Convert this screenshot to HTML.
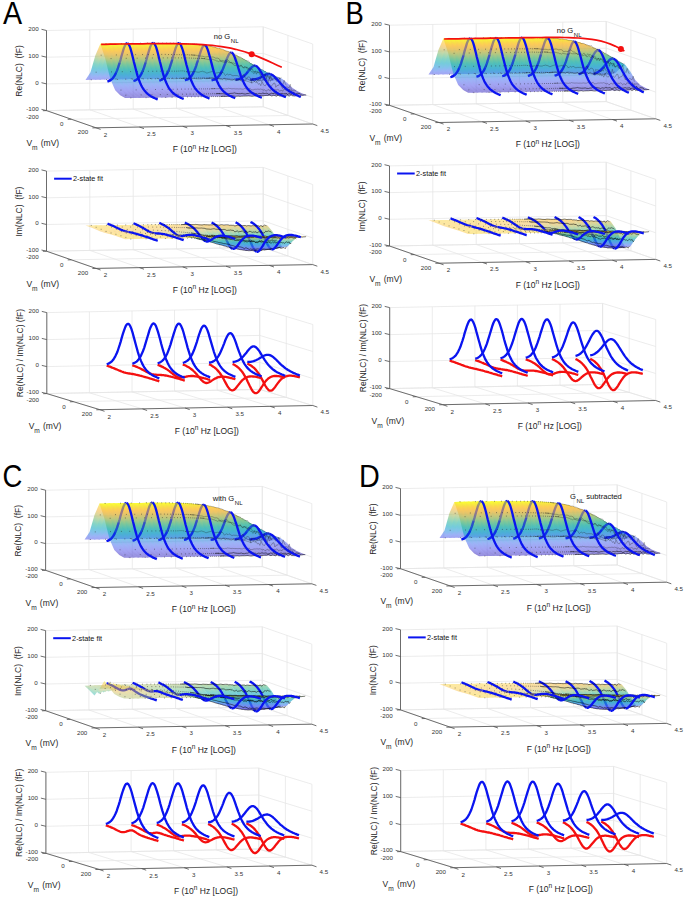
<!DOCTYPE html>
<html><head><meta charset="utf-8"><title>NLC figure</title>
<style>html,body{margin:0;padding:0;background:#fff;}body{width:685px;height:898px;overflow:hidden;font-family:"Liberation Sans",sans-serif;}svg{display:block;}</style>
</head><body>
<svg width="685" height="898" viewBox="0 0 6850 8980" font-family="Liberation Sans, sans-serif"><style>.gr{stroke:#e5e5e5;stroke-width:7.5;fill:none}
.ax{stroke:#555;stroke-width:8.5;fill:none}
.tk{font-size:62px;fill:#333}
.al{font-size:85px;fill:#262626}
.an{font-size:76px;fill:#111}
.lg{font-size:73px;fill:#111}
.bl{stroke:#0a14f0;stroke-width:23;fill:none;stroke-linejoin:round}
.rd{stroke:#f41010;stroke-width:23;fill:none;stroke-linejoin:round}
.rl{stroke:#f41010;stroke-width:17;fill:none}
.dt{stroke:#222;stroke-width:8;stroke-linecap:round;fill:none;opacity:.65}
.dl{stroke:#111;stroke-width:5;fill:none;opacity:.55}
.dk{stroke:#000;stroke-width:6;fill:none;opacity:.85}
.pl{font-size:305px;fill:#000}</style><defs><linearGradient id="pb" gradientUnits="userSpaceOnUse"><stop offset="0" stop-color="#4c3dbf"/><stop offset="0.1" stop-color="#6666eb"/><stop offset="0.2" stop-color="#5c80f2"/><stop offset="0.3" stop-color="#3399e0"/><stop offset="0.4" stop-color="#1aabc4"/><stop offset="0.5" stop-color="#33b8a3"/><stop offset="0.6" stop-color="#73bf80"/><stop offset="0.7" stop-color="#b8bd63"/><stop offset="0.8" stop-color="#edba4a"/><stop offset="0.87" stop-color="#fec238"/><stop offset="0.93" stop-color="#f7db24"/><stop offset="1" stop-color="#f9fb0e"/></linearGradient>
<linearGradient id="q1" href="#pb" x1="834" y1="832" x2="977" y2="420"/>
<linearGradient id="q2" href="#pb" x1="880" y1="831" x2="1023" y2="420"/>
<linearGradient id="q3" href="#pb" x1="925" y1="830" x2="1068" y2="419"/>
<linearGradient id="q4" href="#pb" x1="971" y1="829" x2="1114" y2="418"/>
<linearGradient id="q5" href="#pb" x1="1016" y1="829" x2="1159" y2="417"/>
<linearGradient id="q6" href="#pb" x1="1062" y1="828" x2="1205" y2="417"/>
<linearGradient id="q7" href="#pb" x1="1107" y1="827" x2="1250" y2="416"/>
<linearGradient id="q8" href="#pb" x1="1153" y1="826" x2="1296" y2="415"/>
<linearGradient id="q9" href="#pb" x1="1198" y1="826" x2="1341" y2="414"/>
<linearGradient id="q10" href="#pb" x1="1244" y1="825" x2="1387" y2="413"/>
<linearGradient id="q11" href="#pb" x1="1289" y1="824" x2="1432" y2="413"/>
<linearGradient id="q12" href="#pb" x1="1335" y1="823" x2="1478" y2="412"/>
<linearGradient id="q13" href="#pb" x1="1380" y1="822" x2="1523" y2="411"/>
<linearGradient id="q14" href="#pb" x1="1426" y1="822" x2="1569" y2="410"/>
<linearGradient id="q15" href="#pb" x1="1471" y1="821" x2="1614" y2="409"/>
<linearGradient id="q16" href="#pb" x1="1517" y1="820" x2="1660" y2="409"/>
<linearGradient id="q17" href="#pb" x1="1562" y1="819" x2="1705" y2="408"/>
<linearGradient id="q18" href="#pb" x1="1608" y1="818" x2="1751" y2="407"/>
<linearGradient id="q19" href="#pb" x1="1653" y1="818" x2="1796" y2="406"/>
<linearGradient id="q20" href="#pb" x1="1699" y1="817" x2="1842" y2="406"/>
<linearGradient id="q21" href="#pb" x1="1744" y1="816" x2="1887" y2="405"/>
<linearGradient id="q22" href="#pb" x1="1790" y1="815" x2="1933" y2="404"/>
<linearGradient id="q23" href="#pb" x1="1835" y1="814" x2="1978" y2="403"/>
<linearGradient id="q24" href="#pb" x1="1881" y1="814" x2="2024" y2="402"/>
<linearGradient id="q25" href="#pb" x1="1926" y1="813" x2="2069" y2="402"/>
<linearGradient id="q26" href="#pb" x1="1972" y1="812" x2="2115" y2="401"/>
<linearGradient id="q27" href="#pb" x1="2017" y1="811" x2="2160" y2="400"/>
<linearGradient id="q28" href="#pb" x1="2063" y1="811" x2="2206" y2="399"/>
<linearGradient id="q29" href="#pb" x1="2108" y1="810" x2="2251" y2="398"/>
<linearGradient id="q30" href="#pb" x1="2154" y1="809" x2="2297" y2="398"/>
<linearGradient id="q31" href="#pb" x1="2199" y1="808" x2="2342" y2="397"/>
<linearGradient id="q32" href="#pb" x1="2245" y1="807" x2="2388" y2="396"/>
<linearGradient id="q33" href="#pb" x1="2290" y1="807" x2="2433" y2="395"/>
<linearGradient id="q34" href="#pb" x1="2336" y1="806" x2="2479" y2="394"/>
<linearGradient id="q35" href="#pb" x1="2381" y1="805" x2="2524" y2="394"/>
<linearGradient id="q36" href="#pb" x1="2427" y1="804" x2="2570" y2="393"/>
<linearGradient id="q37" href="#pb" x1="2472" y1="803" x2="2615" y2="392"/>
<linearGradient id="q38" href="#pb" x1="2518" y1="803" x2="2661" y2="391"/>
<linearGradient id="q39" href="#pb" x1="2563" y1="802" x2="2706" y2="391"/>
<linearGradient id="q40" href="#pb" x1="2609" y1="801" x2="2752" y2="390"/>
<linearGradient id="q41" href="#pb" x1="834" y1="2465" x2="914" y2="2237"/>
<linearGradient id="q42" href="#pb" x1="880" y1="2465" x2="959" y2="2236"/>
<linearGradient id="q43" href="#pb" x1="925" y1="2464" x2="1005" y2="2235"/>
<linearGradient id="q44" href="#pb" x1="971" y1="2463" x2="1050" y2="2234"/>
<linearGradient id="q45" href="#pb" x1="1016" y1="2462" x2="1096" y2="2234"/>
<linearGradient id="q46" href="#pb" x1="1062" y1="2462" x2="1141" y2="2233"/>
<linearGradient id="q47" href="#pb" x1="1107" y1="2461" x2="1187" y2="2232"/>
<linearGradient id="q48" href="#pb" x1="1153" y1="2460" x2="1232" y2="2231"/>
<linearGradient id="q49" href="#pb" x1="1198" y1="2459" x2="1278" y2="2231"/>
<linearGradient id="q50" href="#pb" x1="1244" y1="2458" x2="1323" y2="2230"/>
<linearGradient id="q51" href="#pb" x1="1289" y1="2458" x2="1369" y2="2229"/>
<linearGradient id="q52" href="#pb" x1="1335" y1="2457" x2="1414" y2="2228"/>
<linearGradient id="q53" href="#pb" x1="1380" y1="2456" x2="1460" y2="2227"/>
<linearGradient id="q54" href="#pb" x1="1426" y1="2455" x2="1505" y2="2227"/>
<linearGradient id="q55" href="#pb" x1="1471" y1="2454" x2="1551" y2="2226"/>
<linearGradient id="q56" href="#pb" x1="1517" y1="2454" x2="1596" y2="2225"/>
<linearGradient id="q57" href="#pb" x1="1562" y1="2453" x2="1642" y2="2224"/>
<linearGradient id="q58" href="#pb" x1="1608" y1="2452" x2="1687" y2="2223"/>
<linearGradient id="q59" href="#pb" x1="1653" y1="2451" x2="1733" y2="2223"/>
<linearGradient id="q60" href="#pb" x1="1699" y1="2451" x2="1778" y2="2222"/>
<linearGradient id="q61" href="#pb" x1="1744" y1="2450" x2="1824" y2="2221"/>
<linearGradient id="q62" href="#pb" x1="1790" y1="2449" x2="1869" y2="2220"/>
<linearGradient id="q63" href="#pb" x1="1835" y1="2448" x2="1915" y2="2219"/>
<linearGradient id="q64" href="#pb" x1="1881" y1="2447" x2="1960" y2="2219"/>
<linearGradient id="q65" href="#pb" x1="1926" y1="2447" x2="2006" y2="2218"/>
<linearGradient id="q66" href="#pb" x1="1972" y1="2446" x2="2051" y2="2217"/>
<linearGradient id="q67" href="#pb" x1="2017" y1="2445" x2="2097" y2="2216"/>
<linearGradient id="q68" href="#pb" x1="2063" y1="2444" x2="2142" y2="2216"/>
<linearGradient id="q69" href="#pb" x1="2108" y1="2443" x2="2188" y2="2215"/>
<linearGradient id="q70" href="#pb" x1="2154" y1="2443" x2="2233" y2="2214"/>
<linearGradient id="q71" href="#pb" x1="2199" y1="2442" x2="2279" y2="2213"/>
<linearGradient id="q72" href="#pb" x1="2245" y1="2441" x2="2324" y2="2212"/>
<linearGradient id="q73" href="#pb" x1="2290" y1="2440" x2="2370" y2="2212"/>
<linearGradient id="q74" href="#pb" x1="2336" y1="2439" x2="2415" y2="2211"/>
<linearGradient id="q75" href="#pb" x1="2381" y1="2439" x2="2461" y2="2210"/>
<linearGradient id="q76" href="#pb" x1="2427" y1="2438" x2="2506" y2="2209"/>
<linearGradient id="q77" href="#pb" x1="2472" y1="2437" x2="2552" y2="2208"/>
<linearGradient id="q78" href="#pb" x1="2518" y1="2436" x2="2597" y2="2208"/>
<linearGradient id="q79" href="#pb" x1="2563" y1="2436" x2="2643" y2="2207"/>
<linearGradient id="q80" href="#pb" x1="2609" y1="2435" x2="2688" y2="2206"/>
<linearGradient id="q81" href="#pb" x1="4264" y1="778" x2="4407" y2="367"/>
<linearGradient id="q82" href="#pb" x1="4310" y1="777" x2="4453" y2="367"/>
<linearGradient id="q83" href="#pb" x1="4355" y1="776" x2="4498" y2="366"/>
<linearGradient id="q84" href="#pb" x1="4401" y1="776" x2="4544" y2="365"/>
<linearGradient id="q85" href="#pb" x1="4446" y1="775" x2="4589" y2="364"/>
<linearGradient id="q86" href="#pb" x1="4492" y1="774" x2="4635" y2="363"/>
<linearGradient id="q87" href="#pb" x1="4537" y1="773" x2="4680" y2="363"/>
<linearGradient id="q88" href="#pb" x1="4583" y1="772" x2="4726" y2="362"/>
<linearGradient id="q89" href="#pb" x1="4628" y1="772" x2="4771" y2="361"/>
<linearGradient id="q90" href="#pb" x1="4674" y1="771" x2="4817" y2="360"/>
<linearGradient id="q91" href="#pb" x1="4719" y1="770" x2="4862" y2="359"/>
<linearGradient id="q92" href="#pb" x1="4765" y1="769" x2="4908" y2="359"/>
<linearGradient id="q93" href="#pb" x1="4810" y1="768" x2="4953" y2="358"/>
<linearGradient id="q94" href="#pb" x1="4856" y1="768" x2="4999" y2="357"/>
<linearGradient id="q95" href="#pb" x1="4901" y1="767" x2="5044" y2="356"/>
<linearGradient id="q96" href="#pb" x1="4947" y1="766" x2="5090" y2="355"/>
<linearGradient id="q97" href="#pb" x1="4992" y1="765" x2="5135" y2="355"/>
<linearGradient id="q98" href="#pb" x1="5038" y1="765" x2="5181" y2="354"/>
<linearGradient id="q99" href="#pb" x1="5083" y1="764" x2="5226" y2="353"/>
<linearGradient id="q100" href="#pb" x1="5129" y1="763" x2="5272" y2="352"/>
<linearGradient id="q101" href="#pb" x1="5174" y1="762" x2="5317" y2="352"/>
<linearGradient id="q102" href="#pb" x1="5220" y1="761" x2="5363" y2="351"/>
<linearGradient id="q103" href="#pb" x1="5265" y1="761" x2="5408" y2="350"/>
<linearGradient id="q104" href="#pb" x1="5311" y1="760" x2="5454" y2="349"/>
<linearGradient id="q105" href="#pb" x1="5356" y1="759" x2="5499" y2="348"/>
<linearGradient id="q106" href="#pb" x1="5402" y1="758" x2="5545" y2="348"/>
<linearGradient id="q107" href="#pb" x1="5447" y1="757" x2="5590" y2="347"/>
<linearGradient id="q108" href="#pb" x1="5493" y1="757" x2="5636" y2="346"/>
<linearGradient id="q109" href="#pb" x1="5538" y1="756" x2="5681" y2="345"/>
<linearGradient id="q110" href="#pb" x1="5584" y1="755" x2="5727" y2="344"/>
<linearGradient id="q111" href="#pb" x1="5629" y1="754" x2="5772" y2="344"/>
<linearGradient id="q112" href="#pb" x1="5675" y1="754" x2="5818" y2="343"/>
<linearGradient id="q113" href="#pb" x1="5720" y1="753" x2="5863" y2="342"/>
<linearGradient id="q114" href="#pb" x1="5766" y1="752" x2="5909" y2="341"/>
<linearGradient id="q115" href="#pb" x1="5811" y1="751" x2="5954" y2="341"/>
<linearGradient id="q116" href="#pb" x1="5857" y1="750" x2="6000" y2="340"/>
<linearGradient id="q117" href="#pb" x1="5902" y1="750" x2="6045" y2="339"/>
<linearGradient id="q118" href="#pb" x1="5948" y1="749" x2="6091" y2="338"/>
<linearGradient id="q119" href="#pb" x1="5993" y1="748" x2="6136" y2="337"/>
<linearGradient id="q120" href="#pb" x1="6039" y1="747" x2="6182" y2="337"/>
<linearGradient id="q121" href="#pb" x1="4264" y1="2443" x2="4354" y2="2185"/>
<linearGradient id="q122" href="#pb" x1="4310" y1="2442" x2="4400" y2="2184"/>
<linearGradient id="q123" href="#pb" x1="4355" y1="2442" x2="4445" y2="2183"/>
<linearGradient id="q124" href="#pb" x1="4401" y1="2441" x2="4491" y2="2182"/>
<linearGradient id="q125" href="#pb" x1="4446" y1="2440" x2="4536" y2="2181"/>
<linearGradient id="q126" href="#pb" x1="4492" y1="2439" x2="4582" y2="2181"/>
<linearGradient id="q127" href="#pb" x1="4537" y1="2438" x2="4627" y2="2180"/>
<linearGradient id="q128" href="#pb" x1="4583" y1="2438" x2="4673" y2="2179"/>
<linearGradient id="q129" href="#pb" x1="4628" y1="2437" x2="4718" y2="2178"/>
<linearGradient id="q130" href="#pb" x1="4674" y1="2436" x2="4764" y2="2177"/>
<linearGradient id="q131" href="#pb" x1="4719" y1="2435" x2="4809" y2="2177"/>
<linearGradient id="q132" href="#pb" x1="4765" y1="2435" x2="4855" y2="2176"/>
<linearGradient id="q133" href="#pb" x1="4810" y1="2434" x2="4900" y2="2175"/>
<linearGradient id="q134" href="#pb" x1="4856" y1="2433" x2="4946" y2="2174"/>
<linearGradient id="q135" href="#pb" x1="4901" y1="2432" x2="4991" y2="2174"/>
<linearGradient id="q136" href="#pb" x1="4947" y1="2431" x2="5037" y2="2173"/>
<linearGradient id="q137" href="#pb" x1="4992" y1="2431" x2="5082" y2="2172"/>
<linearGradient id="q138" href="#pb" x1="5038" y1="2430" x2="5128" y2="2171"/>
<linearGradient id="q139" href="#pb" x1="5083" y1="2429" x2="5173" y2="2170"/>
<linearGradient id="q140" href="#pb" x1="5129" y1="2428" x2="5219" y2="2170"/>
<linearGradient id="q141" href="#pb" x1="5174" y1="2427" x2="5264" y2="2169"/>
<linearGradient id="q142" href="#pb" x1="5220" y1="2427" x2="5310" y2="2168"/>
<linearGradient id="q143" href="#pb" x1="5265" y1="2426" x2="5355" y2="2167"/>
<linearGradient id="q144" href="#pb" x1="5311" y1="2425" x2="5401" y2="2166"/>
<linearGradient id="q145" href="#pb" x1="5356" y1="2424" x2="5446" y2="2166"/>
<linearGradient id="q146" href="#pb" x1="5402" y1="2423" x2="5492" y2="2165"/>
<linearGradient id="q147" href="#pb" x1="5447" y1="2423" x2="5537" y2="2164"/>
<linearGradient id="q148" href="#pb" x1="5493" y1="2422" x2="5583" y2="2163"/>
<linearGradient id="q149" href="#pb" x1="5538" y1="2421" x2="5628" y2="2162"/>
<linearGradient id="q150" href="#pb" x1="5584" y1="2420" x2="5674" y2="2162"/>
<linearGradient id="q151" href="#pb" x1="5629" y1="2420" x2="5719" y2="2161"/>
<linearGradient id="q152" href="#pb" x1="5675" y1="2419" x2="5765" y2="2160"/>
<linearGradient id="q153" href="#pb" x1="5720" y1="2418" x2="5810" y2="2159"/>
<linearGradient id="q154" href="#pb" x1="5766" y1="2417" x2="5856" y2="2159"/>
<linearGradient id="q155" href="#pb" x1="5811" y1="2416" x2="5901" y2="2158"/>
<linearGradient id="q156" href="#pb" x1="5857" y1="2416" x2="5947" y2="2157"/>
<linearGradient id="q157" href="#pb" x1="5902" y1="2415" x2="5992" y2="2156"/>
<linearGradient id="q158" href="#pb" x1="5948" y1="2414" x2="6038" y2="2155"/>
<linearGradient id="q159" href="#pb" x1="5993" y1="2413" x2="6083" y2="2155"/>
<linearGradient id="q160" href="#pb" x1="6039" y1="2412" x2="6129" y2="2154"/>
<linearGradient id="q161" href="#pb" x1="825" y1="5429" x2="968" y2="5017"/>
<linearGradient id="q162" href="#pb" x1="871" y1="5428" x2="1014" y2="5017"/>
<linearGradient id="q163" href="#pb" x1="916" y1="5427" x2="1059" y2="5016"/>
<linearGradient id="q164" href="#pb" x1="962" y1="5426" x2="1105" y2="5015"/>
<linearGradient id="q165" href="#pb" x1="1007" y1="5426" x2="1150" y2="5014"/>
<linearGradient id="q166" href="#pb" x1="1053" y1="5425" x2="1196" y2="5014"/>
<linearGradient id="q167" href="#pb" x1="1098" y1="5424" x2="1241" y2="5013"/>
<linearGradient id="q168" href="#pb" x1="1144" y1="5423" x2="1287" y2="5012"/>
<linearGradient id="q169" href="#pb" x1="1189" y1="5423" x2="1332" y2="5011"/>
<linearGradient id="q170" href="#pb" x1="1235" y1="5422" x2="1378" y2="5010"/>
<linearGradient id="q171" href="#pb" x1="1280" y1="5421" x2="1423" y2="5010"/>
<linearGradient id="q172" href="#pb" x1="1326" y1="5420" x2="1469" y2="5009"/>
<linearGradient id="q173" href="#pb" x1="1371" y1="5419" x2="1514" y2="5008"/>
<linearGradient id="q174" href="#pb" x1="1417" y1="5419" x2="1560" y2="5007"/>
<linearGradient id="q175" href="#pb" x1="1462" y1="5418" x2="1605" y2="5006"/>
<linearGradient id="q176" href="#pb" x1="1508" y1="5417" x2="1651" y2="5006"/>
<linearGradient id="q177" href="#pb" x1="1553" y1="5416" x2="1696" y2="5005"/>
<linearGradient id="q178" href="#pb" x1="1599" y1="5415" x2="1742" y2="5004"/>
<linearGradient id="q179" href="#pb" x1="1644" y1="5415" x2="1787" y2="5003"/>
<linearGradient id="q180" href="#pb" x1="1690" y1="5414" x2="1833" y2="5003"/>
<linearGradient id="q181" href="#pb" x1="1735" y1="5413" x2="1878" y2="5002"/>
<linearGradient id="q182" href="#pb" x1="1781" y1="5412" x2="1924" y2="5001"/>
<linearGradient id="q183" href="#pb" x1="1826" y1="5411" x2="1969" y2="5000"/>
<linearGradient id="q184" href="#pb" x1="1872" y1="5411" x2="2015" y2="4999"/>
<linearGradient id="q185" href="#pb" x1="1917" y1="5410" x2="2060" y2="4999"/>
<linearGradient id="q186" href="#pb" x1="1963" y1="5409" x2="2106" y2="4998"/>
<linearGradient id="q187" href="#pb" x1="2008" y1="5408" x2="2151" y2="4997"/>
<linearGradient id="q188" href="#pb" x1="2054" y1="5408" x2="2197" y2="4996"/>
<linearGradient id="q189" href="#pb" x1="2099" y1="5407" x2="2242" y2="4995"/>
<linearGradient id="q190" href="#pb" x1="2145" y1="5406" x2="2288" y2="4995"/>
<linearGradient id="q191" href="#pb" x1="2190" y1="5405" x2="2333" y2="4994"/>
<linearGradient id="q192" href="#pb" x1="2236" y1="5404" x2="2379" y2="4993"/>
<linearGradient id="q193" href="#pb" x1="2281" y1="5404" x2="2424" y2="4992"/>
<linearGradient id="q194" href="#pb" x1="2327" y1="5403" x2="2470" y2="4991"/>
<linearGradient id="q195" href="#pb" x1="2372" y1="5402" x2="2515" y2="4991"/>
<linearGradient id="q196" href="#pb" x1="2418" y1="5401" x2="2561" y2="4990"/>
<linearGradient id="q197" href="#pb" x1="2463" y1="5400" x2="2606" y2="4989"/>
<linearGradient id="q198" href="#pb" x1="2509" y1="5400" x2="2652" y2="4988"/>
<linearGradient id="q199" href="#pb" x1="2554" y1="5399" x2="2697" y2="4988"/>
<linearGradient id="q200" href="#pb" x1="2600" y1="5398" x2="2743" y2="4987"/>
<linearGradient id="q201" href="#pb" x1="825" y1="7059" x2="929" y2="6762"/>
<linearGradient id="q202" href="#pb" x1="871" y1="7058" x2="974" y2="6761"/>
<linearGradient id="q203" href="#pb" x1="916" y1="7057" x2="1020" y2="6760"/>
<linearGradient id="q204" href="#pb" x1="962" y1="7057" x2="1065" y2="6759"/>
<linearGradient id="q205" href="#pb" x1="1007" y1="7056" x2="1111" y2="6758"/>
<linearGradient id="q206" href="#pb" x1="1053" y1="7055" x2="1156" y2="6758"/>
<linearGradient id="q207" href="#pb" x1="1098" y1="7054" x2="1202" y2="6757"/>
<linearGradient id="q208" href="#pb" x1="1144" y1="7053" x2="1247" y2="6756"/>
<linearGradient id="q209" href="#pb" x1="1189" y1="7053" x2="1293" y2="6755"/>
<linearGradient id="q210" href="#pb" x1="1235" y1="7052" x2="1338" y2="6755"/>
<linearGradient id="q211" href="#pb" x1="1280" y1="7051" x2="1384" y2="6754"/>
<linearGradient id="q212" href="#pb" x1="1326" y1="7050" x2="1429" y2="6753"/>
<linearGradient id="q213" href="#pb" x1="1371" y1="7049" x2="1475" y2="6752"/>
<linearGradient id="q214" href="#pb" x1="1417" y1="7049" x2="1520" y2="6751"/>
<linearGradient id="q215" href="#pb" x1="1462" y1="7048" x2="1566" y2="6751"/>
<linearGradient id="q216" href="#pb" x1="1508" y1="7047" x2="1611" y2="6750"/>
<linearGradient id="q217" href="#pb" x1="1553" y1="7046" x2="1657" y2="6749"/>
<linearGradient id="q218" href="#pb" x1="1599" y1="7046" x2="1702" y2="6748"/>
<linearGradient id="q219" href="#pb" x1="1644" y1="7045" x2="1748" y2="6747"/>
<linearGradient id="q220" href="#pb" x1="1690" y1="7044" x2="1793" y2="6747"/>
<linearGradient id="q221" href="#pb" x1="1735" y1="7043" x2="1839" y2="6746"/>
<linearGradient id="q222" href="#pb" x1="1781" y1="7042" x2="1884" y2="6745"/>
<linearGradient id="q223" href="#pb" x1="1826" y1="7042" x2="1930" y2="6744"/>
<linearGradient id="q224" href="#pb" x1="1872" y1="7041" x2="1975" y2="6744"/>
<linearGradient id="q225" href="#pb" x1="1917" y1="7040" x2="2021" y2="6743"/>
<linearGradient id="q226" href="#pb" x1="1963" y1="7039" x2="2066" y2="6742"/>
<linearGradient id="q227" href="#pb" x1="2008" y1="7038" x2="2112" y2="6741"/>
<linearGradient id="q228" href="#pb" x1="2054" y1="7038" x2="2157" y2="6740"/>
<linearGradient id="q229" href="#pb" x1="2099" y1="7037" x2="2203" y2="6740"/>
<linearGradient id="q230" href="#pb" x1="2145" y1="7036" x2="2248" y2="6739"/>
<linearGradient id="q231" href="#pb" x1="2190" y1="7035" x2="2294" y2="6738"/>
<linearGradient id="q232" href="#pb" x1="2236" y1="7035" x2="2339" y2="6737"/>
<linearGradient id="q233" href="#pb" x1="2281" y1="7034" x2="2385" y2="6736"/>
<linearGradient id="q234" href="#pb" x1="2327" y1="7033" x2="2430" y2="6736"/>
<linearGradient id="q235" href="#pb" x1="2372" y1="7032" x2="2476" y2="6735"/>
<linearGradient id="q236" href="#pb" x1="2418" y1="7031" x2="2521" y2="6734"/>
<linearGradient id="q237" href="#pb" x1="2463" y1="7031" x2="2567" y2="6733"/>
<linearGradient id="q238" href="#pb" x1="2509" y1="7030" x2="2612" y2="6732"/>
<linearGradient id="q239" href="#pb" x1="2554" y1="7029" x2="2658" y2="6732"/>
<linearGradient id="q240" href="#pb" x1="2600" y1="7028" x2="2703" y2="6731"/>
<linearGradient id="q241" href="#pb" x1="4374" y1="5413" x2="4517" y2="5001"/>
<linearGradient id="q242" href="#pb" x1="4420" y1="5412" x2="4563" y2="5001"/>
<linearGradient id="q243" href="#pb" x1="4465" y1="5411" x2="4608" y2="5000"/>
<linearGradient id="q244" href="#pb" x1="4511" y1="5410" x2="4654" y2="4999"/>
<linearGradient id="q245" href="#pb" x1="4556" y1="5410" x2="4699" y2="4998"/>
<linearGradient id="q246" href="#pb" x1="4602" y1="5409" x2="4745" y2="4998"/>
<linearGradient id="q247" href="#pb" x1="4647" y1="5408" x2="4790" y2="4997"/>
<linearGradient id="q248" href="#pb" x1="4693" y1="5407" x2="4836" y2="4996"/>
<linearGradient id="q249" href="#pb" x1="4738" y1="5407" x2="4881" y2="4995"/>
<linearGradient id="q250" href="#pb" x1="4784" y1="5406" x2="4927" y2="4994"/>
<linearGradient id="q251" href="#pb" x1="4829" y1="5405" x2="4972" y2="4994"/>
<linearGradient id="q252" href="#pb" x1="4875" y1="5404" x2="5018" y2="4993"/>
<linearGradient id="q253" href="#pb" x1="4920" y1="5403" x2="5063" y2="4992"/>
<linearGradient id="q254" href="#pb" x1="4966" y1="5403" x2="5109" y2="4991"/>
<linearGradient id="q255" href="#pb" x1="5011" y1="5402" x2="5154" y2="4990"/>
<linearGradient id="q256" href="#pb" x1="5057" y1="5401" x2="5200" y2="4990"/>
<linearGradient id="q257" href="#pb" x1="5102" y1="5400" x2="5245" y2="4989"/>
<linearGradient id="q258" href="#pb" x1="5148" y1="5399" x2="5291" y2="4988"/>
<linearGradient id="q259" href="#pb" x1="5193" y1="5399" x2="5336" y2="4987"/>
<linearGradient id="q260" href="#pb" x1="5239" y1="5398" x2="5382" y2="4987"/>
<linearGradient id="q261" href="#pb" x1="5284" y1="5397" x2="5427" y2="4986"/>
<linearGradient id="q262" href="#pb" x1="5330" y1="5396" x2="5473" y2="4985"/>
<linearGradient id="q263" href="#pb" x1="5375" y1="5395" x2="5518" y2="4984"/>
<linearGradient id="q264" href="#pb" x1="5421" y1="5395" x2="5564" y2="4983"/>
<linearGradient id="q265" href="#pb" x1="5466" y1="5394" x2="5609" y2="4983"/>
<linearGradient id="q266" href="#pb" x1="5512" y1="5393" x2="5655" y2="4982"/>
<linearGradient id="q267" href="#pb" x1="5557" y1="5392" x2="5700" y2="4981"/>
<linearGradient id="q268" href="#pb" x1="5603" y1="5392" x2="5746" y2="4980"/>
<linearGradient id="q269" href="#pb" x1="5648" y1="5391" x2="5791" y2="4979"/>
<linearGradient id="q270" href="#pb" x1="5694" y1="5390" x2="5837" y2="4979"/>
<linearGradient id="q271" href="#pb" x1="5739" y1="5389" x2="5882" y2="4978"/>
<linearGradient id="q272" href="#pb" x1="5785" y1="5388" x2="5928" y2="4977"/>
<linearGradient id="q273" href="#pb" x1="5830" y1="5388" x2="5973" y2="4976"/>
<linearGradient id="q274" href="#pb" x1="5876" y1="5387" x2="6019" y2="4975"/>
<linearGradient id="q275" href="#pb" x1="5921" y1="5386" x2="6064" y2="4975"/>
<linearGradient id="q276" href="#pb" x1="5967" y1="5385" x2="6110" y2="4974"/>
<linearGradient id="q277" href="#pb" x1="6012" y1="5384" x2="6155" y2="4973"/>
<linearGradient id="q278" href="#pb" x1="6058" y1="5384" x2="6201" y2="4972"/>
<linearGradient id="q279" href="#pb" x1="6103" y1="5383" x2="6246" y2="4972"/>
<linearGradient id="q280" href="#pb" x1="6149" y1="5382" x2="6292" y2="4971"/>
<linearGradient id="q281" href="#pb" x1="4374" y1="7052" x2="4454" y2="6824"/>
<linearGradient id="q282" href="#pb" x1="4420" y1="7052" x2="4499" y2="6823"/>
<linearGradient id="q283" href="#pb" x1="4465" y1="7051" x2="4545" y2="6822"/>
<linearGradient id="q284" href="#pb" x1="4511" y1="7050" x2="4590" y2="6821"/>
<linearGradient id="q285" href="#pb" x1="4556" y1="7049" x2="4636" y2="6821"/>
<linearGradient id="q286" href="#pb" x1="4602" y1="7049" x2="4681" y2="6820"/>
<linearGradient id="q287" href="#pb" x1="4647" y1="7048" x2="4727" y2="6819"/>
<linearGradient id="q288" href="#pb" x1="4693" y1="7047" x2="4772" y2="6818"/>
<linearGradient id="q289" href="#pb" x1="4738" y1="7046" x2="4818" y2="6818"/>
<linearGradient id="q290" href="#pb" x1="4784" y1="7045" x2="4863" y2="6817"/>
<linearGradient id="q291" href="#pb" x1="4829" y1="7045" x2="4909" y2="6816"/>
<linearGradient id="q292" href="#pb" x1="4875" y1="7044" x2="4954" y2="6815"/>
<linearGradient id="q293" href="#pb" x1="4920" y1="7043" x2="5000" y2="6814"/>
<linearGradient id="q294" href="#pb" x1="4966" y1="7042" x2="5045" y2="6814"/>
<linearGradient id="q295" href="#pb" x1="5011" y1="7041" x2="5091" y2="6813"/>
<linearGradient id="q296" href="#pb" x1="5057" y1="7041" x2="5136" y2="6812"/>
<linearGradient id="q297" href="#pb" x1="5102" y1="7040" x2="5182" y2="6811"/>
<linearGradient id="q298" href="#pb" x1="5148" y1="7039" x2="5227" y2="6810"/>
<linearGradient id="q299" href="#pb" x1="5193" y1="7038" x2="5273" y2="6810"/>
<linearGradient id="q300" href="#pb" x1="5239" y1="7038" x2="5318" y2="6809"/>
<linearGradient id="q301" href="#pb" x1="5284" y1="7037" x2="5364" y2="6808"/>
<linearGradient id="q302" href="#pb" x1="5330" y1="7036" x2="5409" y2="6807"/>
<linearGradient id="q303" href="#pb" x1="5375" y1="7035" x2="5455" y2="6806"/>
<linearGradient id="q304" href="#pb" x1="5421" y1="7034" x2="5500" y2="6806"/>
<linearGradient id="q305" href="#pb" x1="5466" y1="7034" x2="5546" y2="6805"/>
<linearGradient id="q306" href="#pb" x1="5512" y1="7033" x2="5591" y2="6804"/>
<linearGradient id="q307" href="#pb" x1="5557" y1="7032" x2="5637" y2="6803"/>
<linearGradient id="q308" href="#pb" x1="5603" y1="7031" x2="5682" y2="6803"/>
<linearGradient id="q309" href="#pb" x1="5648" y1="7030" x2="5728" y2="6802"/>
<linearGradient id="q310" href="#pb" x1="5694" y1="7030" x2="5773" y2="6801"/>
<linearGradient id="q311" href="#pb" x1="5739" y1="7029" x2="5819" y2="6800"/>
<linearGradient id="q312" href="#pb" x1="5785" y1="7028" x2="5864" y2="6799"/>
<linearGradient id="q313" href="#pb" x1="5830" y1="7027" x2="5910" y2="6799"/>
<linearGradient id="q314" href="#pb" x1="5876" y1="7026" x2="5955" y2="6798"/>
<linearGradient id="q315" href="#pb" x1="5921" y1="7026" x2="6001" y2="6797"/>
<linearGradient id="q316" href="#pb" x1="5967" y1="7025" x2="6046" y2="6796"/>
<linearGradient id="q317" href="#pb" x1="6012" y1="7024" x2="6092" y2="6795"/>
<linearGradient id="q318" href="#pb" x1="6058" y1="7023" x2="6137" y2="6795"/>
<linearGradient id="q319" href="#pb" x1="6103" y1="7023" x2="6183" y2="6794"/>
<linearGradient id="q320" href="#pb" x1="6149" y1="7022" x2="6228" y2="6793"/></defs>
<path d="M465 1106l0-801M465 1106l495 172M898 1098l0-800M898 1098l496 172M1332 1091l0-801M1332 1091l495 172M1765 1084l0-802M1765 1084l495 172M2198 1076l0-801M2198 1076l496 172M2632 1068l0-800M2632 1068l495 172M465 1106l2167-38M2632 1068l495 172M465 839l2167-37M2632 802l495 172M465 572l2167-38M2632 534l495 172M465 305l2167-37M2632 268l495 172M2632 1068l0-800M465 1106l2167-38M2879 1155l0-801M713 1192l2166-37M3127 1240l0-800M960 1278l2167-38" class="gr"/>
<path d="M465 1106l0-801M465 1106l495 172M960 1278l2167-38M465 1106l-50-12M465 839l-50-12M465 572l-50-12M465 305l-50-12M465 1106l-36 1M713 1192l-36 1M960 1278l-36 1M960 1278l46 16M1394 1270l46 16M1827 1263l46 16M2260 1256l46 16M2694 1248l46 16M3127 1240l46 16" class="ax"/>
<g class="tk"><text x="386" y="1114" text-anchor="end">-100</text><text x="386" y="847" text-anchor="end">0</text><text x="386" y="580" text-anchor="end">100</text><text x="386" y="313" text-anchor="end">200</text><text x="387" y="1185" text-anchor="end">-200</text><text x="635" y="1263" text-anchor="end">0</text><text x="882" y="1344" text-anchor="end">200</text><text x="1037" y="1367">2</text><text x="1471" y="1360">2.5</text><text x="1904" y="1352">3</text><text x="2337" y="1345">3.5</text><text x="2771" y="1337">4</text><text x="3204" y="1330">4.5</text></g>
<text transform="translate(223 710) rotate(-90)" text-anchor="middle" class="al">Re(NLC)&#160; (fF)</text>
<text x="264" y="1461" class="al">V<tspan font-size="66" dy="40">m</tspan><tspan dy="-40" dx="8"> (mV)</tspan></text>
<text x="1727" y="1524" class="al">F (10<tspan font-size="66" dy="-36">n</tspan><tspan dy="36"> Hz [LOG])</tspan></text>
<path d="M465 2512l0-801M465 2512l495 172M898 2504l0-800M898 2504l496 172M1332 2497l0-801M1332 2497l495 172M1765 2490l0-802M1765 2490l495 172M2198 2482l0-801M2198 2482l496 172M2632 2474l0-800M2632 2474l495 172M465 2512l2167-38M2632 2474l495 172M465 2245l2167-37M2632 2208l495 172M465 1978l2167-38M2632 1940l495 172M465 1711l2167-37M2632 1674l495 171M2632 2474l0-800M465 2512l2167-38M2879 2560l0-800M713 2598l2166-38M3127 2646l0-801M960 2684l2167-38" class="gr"/>
<path d="M465 2512l0-801M465 2512l495 172M960 2684l2167-38M465 2512l-50-12M465 2245l-50-12M465 1978l-50-12M465 1711l-50-12M465 2512l-36 1M713 2598l-36 1M960 2684l-36 1M960 2684l46 16M1394 2676l46 16M1827 2669l46 16M2260 2662l46 16M2694 2654l46 16M3127 2646l46 16" class="ax"/>
<g class="tk"><text x="386" y="2520" text-anchor="end">-100</text><text x="386" y="2253" text-anchor="end">0</text><text x="386" y="1986" text-anchor="end">100</text><text x="386" y="1719" text-anchor="end">200</text><text x="387" y="2591" text-anchor="end">-200</text><text x="635" y="2668" text-anchor="end">0</text><text x="882" y="2750" text-anchor="end">200</text><text x="1037" y="2773">2</text><text x="1471" y="2765">2.5</text><text x="1904" y="2758">3</text><text x="2337" y="2750">3.5</text><text x="2771" y="2743">4</text><text x="3204" y="2735">4.5</text></g>
<text transform="translate(223 2116) rotate(-90)" text-anchor="middle" class="al">Im(NLC)&#160; (fF)</text>
<text x="264" y="2867" class="al">V<tspan font-size="66" dy="40">m</tspan><tspan dy="-40" dx="8"> (mV)</tspan></text>
<text x="1727" y="2930" class="al">F (10<tspan font-size="66" dy="-36">n</tspan><tspan dy="36"> Hz [LOG])</tspan></text>
<path d="M468 3936l0-810M468 3936l531 161M894 3928l0-810M894 3928l531 161M1320 3919l0-810M1320 3919l531 161M1745 3910l0-810M1745 3910l532 162M2171 3902l0-810M2171 3902l531 161M2597 3894l0-810M2597 3894l531 161M468 3936l2129-42M2597 3894l531 161M468 3666l2129-42M2597 3624l531 161M468 3396l2129-42M2597 3354l531 161M468 3126l2129-42M2597 3084l531 161M2597 3894l0-810M468 3936l2129-42M2863 3974l0-810M734 4017l2129-43M3128 4055l0-810M999 4097l2129-42" class="gr"/>
<path d="M468 3936l0-810M468 3936l531 161M999 4097l2129-42M468 3936l-50-12M468 3666l-50-12M468 3396l-50-12M468 3126l-50-12M468 3936l-36 1M734 4017l-36 1M999 4097l-36 1M999 4097l46 16M1425 4089l46 16M1851 4080l46 16M2277 4072l46 16M2702 4063l46 16M3128 4055l46 16" class="ax"/>
<g class="tk"><text x="389" y="3944" text-anchor="end">-100</text><text x="389" y="3674" text-anchor="end">0</text><text x="389" y="3404" text-anchor="end">100</text><text x="389" y="3134" text-anchor="end">200</text><text x="390" y="4015" text-anchor="end">-200</text><text x="656" y="4087" text-anchor="end">0</text><text x="921" y="4163" text-anchor="end">200</text><text x="1076" y="4186">2</text><text x="1502" y="4178">2.5</text><text x="1928" y="4169">3</text><text x="2354" y="4161">3.5</text><text x="2779" y="4152">4</text><text x="3205" y="4144">4.5</text></g>
<text transform="translate(226 3531) rotate(-90)" text-anchor="middle" class="al">Re(NLC) / Im(NLC) (fF)</text>
<text x="287" y="4285" class="al">V<tspan font-size="66" dy="40">m</tspan><tspan dy="-40" dx="8"> (mV)</tspan></text>
<text x="1748" y="4338" class="al">F (10<tspan font-size="66" dy="-36">n</tspan><tspan dy="36"> Hz [LOG])</tspan></text>
<g opacity="0.6"><path d="M2630 807l49-2 50-21 49-10 46 16-50 5-49 15-50-2z" fill="url(#q40)"/><path d="M2584 806l50-6 49-30 50-15 61 25-49 8-50 19-49 1z" fill="url(#q39)"/><path d="M2539 804l49-10 50-39 49-21 62 28-50 13-49 27-50 4z" fill="url(#q38)"/><path d="M2493 803l50-16 49-48 50-29 61 31-49 20-50 35-49 9z" fill="url(#q37)"/><path d="M2448 801l49-21 50-59 49-37 62 34-50 27-49 44-50 14z" fill="url(#q36)"/><path d="M2402 798l50-26 49-70 50-44 61 36-49 33-50 55-50 19z" fill="url(#q35)"/><path d="M2357 796l49-32 50-81 49-52 62 36-50 42-49 66-50 24z" fill="url(#q34)"/><path d="M2311 794l50-38 49-92 50-60 61 36-49 50-50 77-50 30z" fill="url(#q33)"/><path d="M2266 792l49-43 50-103 49-68 62 35-50 58-49 88-50 36z" fill="url(#q32)"/><path d="M2220 790l50-48 49-113 50-75 61 33-49 65-50 100-50 41z" fill="url(#q31)"/><path d="M2175 789l49-53 50-122 49-81 62 30-50 72-49 110-50 46z" fill="url(#q30)"/><path d="M2129 787l50-56 49-131 50-86 61 26-49 79-50 119-50 51z" fill="url(#q29)"/><path d="M2084 786l49-60 50-137 49-92 62 23-50 85-49 127-50 56z" fill="url(#q28)"/><path d="M2038 786l50-64 49-143 50-96 61 20-49 90-50 135-50 59z" fill="url(#q27)"/><path d="M1993 785l49-66 50-148 49-100 62 17-50 94-49 142-50 62z" fill="url(#q26)"/><path d="M1947 785l50-68 49-153 50-102 61 13-49 98-50 147-50 65z" fill="url(#q25)"/><path d="M1902 785l49-70 50-156 49-105 62 11-50 101-50 152-49 67z" fill="url(#q24)"/><path d="M1856 785l50-71 49-159 50-107 61 8-49 105-50 155-50 69z" fill="url(#q23)"/><path d="M1811 785l49-72 50-162 49-108 62 7-50 106-50 158-49 71z" fill="url(#q22)"/><path d="M1765 785l50-73 49-163 50-110 61 6-49 107-50 161-50 72z" fill="url(#q21)"/><path d="M1720 786l49-74 50-165 49-111 62 4-50 110-50 162-49 73z" fill="url(#q20)"/><path d="M1674 786l50-74 49-166 50-112 61 3-49 111-50 164-50 73z" fill="url(#q19)"/><path d="M1629 787l49-75 50-167 49-112 62 2-50 111-50 166-49 74z" fill="url(#q18)"/><path d="M1583 787l50-75 49-167 50-113 61 1-49 112-50 167-50 74z" fill="url(#q17)"/><path d="M1538 788l49-76 50-168 49-113 62 1-50 113-50 167-49 75z" fill="url(#q16)"/><path d="M1492 789l50-76 49-169 50-113 61 0-49 113-50 168-50 76z" fill="url(#q15)"/><path d="M1447 789l49-76 50-169 49-113 62 0-50 113-50 169-49 75z" fill="url(#q14)"/><path d="M1401 790l50-76 49-169 50-114 61 0-50 113-49 169-50 76z" fill="url(#q13)"/><path d="M1356 791l49-77 50-169 49-114 62 0-50 114-50 169-49 76z" fill="url(#q12)"/><path d="M1310 791l50-76 49-169 50-115 61 0-50 114-49 169-50 76z" fill="url(#q11)"/><path d="M1265 792l49-76 50-170 49-114 62-1-50 114-50 170-49 76z" fill="url(#q10)"/><path d="M1219 793l50-77 49-169 50-115 61 0-50 114-49 170-50 76z" fill="url(#q9)"/><path d="M1174 794l49-77 50-170 49-114 62-1-50 115-50 169-49 77z" fill="url(#q8)"/><path d="M1128 794l50-76 49-170 50-114 61-1-50 114-49 170-50 76z" fill="url(#q7)"/><path d="M1083 795l49-76 50-170 49-115 62-1-50 115-50 170-49 76z" fill="url(#q6)"/><path d="M1037 796l50-77 49-170 50-114 61-1-50 115-49 169-50 77z" fill="url(#q5)"/><path d="M992 797l49-77 50-170 49-114 62-1-50 114-50 170-49 77z" fill="url(#q4)"/><path d="M946 798l50-77 49-170 50-115 61-1-50 115-49 170-50 77z" fill="url(#q3)"/><path d="M901 798l49-76 50-170 49-115 61-1-49 115-50 170-49 76z" fill="url(#q2)"/><path d="M855 799l50-76 49-171 50-114 61-1-50 114-49 170-50 77z" fill="url(#q1)"/></g>
<path d="M1075 813l8-2 9-3 9-4 8-5 9-7 9-9 8-11 9-13 9-15 8-18 9-20 9-24 8-26 9-28 9-30 8-30 9-31 9-30 8-26 9-22 9-17 8-9 9-2M1335 809l8-2 9-3 9-4 8-6 9-7 9-8 8-11 9-13 9-15 8-18 9-20 9-23 8-26 9-28 9-30 8-31 9-30 9-30 8-26 9-22 9-17 8-9 9-2M1593 805l8-2 9-3 9-4 8-6 9-6 9-9 8-10 9-13 9-15 8-17 9-20 9-23 8-26 9-27 9-29 8-31 9-30 9-29 8-26 9-21 9-17 8-9 9-2M1849 802l9-2 8-3 9-3 9-5 8-7 9-7 9-10 8-12 9-14 9-16 8-19 9-22 9-24 8-26 9-27 9-29 8-28 9-27 9-25 8-20 9-15 9-9 8-2M2116 801l9-1 8-1 9-3 9-3 8-5 9-6 9-7 8-10 9-11 9-13 8-15 9-17 9-19 8-20 9-22 9-23 8-23 9-22 9-19 8-16 9-12 9-7 8-1M2356 795l9 0 8-2 9-1 9-3 8-3 9-4 9-4 8-6 9-7 9-7 8-9 9-9 9-10 8-11 9-11 9-11 8-10 9-10 9-8 8-6 9-4 9-2 8 1M2505 795l9 1 9 0 8-1 9-1 9-1 8-2 9-2 9-2 8-3 9-4 9-4 8-4 9-5 9-5 8-5 9-4 9-4 8-4 9-3 9-2 8-1 9 1 9 1" class="bl"/>
<g opacity="0.6"><path d="M2778 774l50 44 49 56 50 36 49 25 50 19 45-1-49-19-50-23-49-33-50-49-49-39z" fill="url(#q40)"/><path d="M2733 755l49 50 50 64 49 40 50 26 49 20 62-1-50-20-49-23-50-35-49-54-50-42z" fill="url(#q39)"/><path d="M2687 734l50 56 49 73 50 45 49 27 50 20 61-1-49-19-50-25-49-39-50-61-49-48z" fill="url(#q38)"/><path d="M2642 710l49 63 50 83 49 50 50 29 49 21 62-1-50-20-49-27-50-43-49-70-50-54z" fill="url(#q37)"/><path d="M2596 684l50 71 49 93 50 56 49 31 50 21 61-1-49-20-50-29-49-48-50-79-49-61z" fill="url(#q36)"/><path d="M2551 658l49 78 50 105 49 61 50 32 49 23 62-1-50-21-49-30-50-54-49-89-50-68z" fill="url(#q35)"/><path d="M2505 631l50 86 49 116 50 67 49 34 50 23 61-1-49-21-50-33-49-58-50-101-49-76z" fill="url(#q34)"/><path d="M2460 604l49 94 50 127 49 72 50 37 49 24 62-1-50-23-49-34-50-64-49-112-50-84z" fill="url(#q33)"/><path d="M2414 578l50 102 49 138 50 77 49 39 50 24 61-1-49-23-50-36-49-70-50-123-49-92z" fill="url(#q32)"/><path d="M2369 554l49 109 50 148 49 83 50 40 49 25 62-1-50-24-49-38-50-76-49-134-50-99z" fill="url(#q31)"/><path d="M2323 533l50 115 49 157 50 87 49 42 50 25 61 0-49-25-50-40-49-81-50-144-49-106z" fill="url(#q30)"/><path d="M2278 514l49 121 50 164 49 92 50 43 49 26 62-1-50-25-49-42-50-85-49-154-50-113z" fill="url(#q29)"/><path d="M2232 497l50 126 49 172 50 95 49 44 50 26 61 0-49-26-50-43-49-90-50-162-49-119z" fill="url(#q28)"/><path d="M2187 483l49 130 50 178 49 98 50 46 49 26 62-1-50-26-49-44-50-94-49-169-50-124z" fill="url(#q27)"/><path d="M2141 471l50 134 49 183 50 100 49 47 50 27 61-1-49-26-50-46-49-97-50-175-49-129z" fill="url(#q26)"/><path d="M2096 462l49 136 50 188 49 102 50 48 49 26 62 0-50-27-49-47-50-99-49-181-50-133z" fill="url(#q25)"/><path d="M2050 454l50 139 49 191 50 104 49 48 50 27 61-1-49-27-50-47-49-102-50-185-49-136z" fill="url(#q24)"/><path d="M2005 448l49 141 50 193 49 106 50 49 49 27 62-1-50-27-49-48-50-104-49-189-50-139z" fill="url(#q23)"/><path d="M1959 443l50 143 49 195 50 107 49 49 50 28 61-1-49-28-50-48-49-105-50-193-49-140z" fill="url(#q22)"/><path d="M1914 439l49 144 50 198 49 107 50 50 49 27 62-1-50-27-49-49-50-106-49-195-50-142z" fill="url(#q21)"/><path d="M1868 436l50 146 49 199 50 108 49 50 50 27 61-1-49-27-50-50-49-107-50-197-49-144z" fill="url(#q20)"/><path d="M1823 434l49 146 50 200 49 109 50 50 49 28 62-1-50-28-49-49-50-108-49-199-50-145z" fill="url(#q19)"/><path d="M1777 433l50 146 49 202 50 109 49 50 50 28 61-1-49-28-50-50-49-109-50-199-49-146z" fill="url(#q18)"/><path d="M1732 432l49 147 50 202 49 109 50 51 49 27 62-1-50-27-49-50-50-110-49-200-50-147z" fill="url(#q17)"/><path d="M1686 431l50 148 49 202 50 110 49 50 50 28 61-1-49-28-50-50-49-109-50-202-49-147z" fill="url(#q16)"/><path d="M1641 431l49 148 50 203 49 110 50 50 49 28 62-1-50-28-49-50-50-110-49-202-50-148z" fill="url(#q15)"/><path d="M1595 431l50 148 49 203 50 110 49 51 50 28 61-1-49-28-50-51-49-110-50-202-49-148z" fill="url(#q14)"/><path d="M1550 431l49 148 50 204 49 110 50 51 49 27 62-1-50-27-49-51-50-110-49-203-50-148z" fill="url(#q13)"/><path d="M1504 431l50 149 49 203 50 111 49 50 50 28 61-1-49-28-50-50-49-111-50-203-49-148z" fill="url(#q12)"/><path d="M1459 431l49 149 50 204 49 111 50 50 49 28 62-1-50-28-49-50-50-111-49-204-50-148z" fill="url(#q11)"/><path d="M1413 432l50 149 49 204 50 110 49 51 50 28 61-1-49-28-50-51-49-110-50-204-49-149z" fill="url(#q10)"/><path d="M1368 432l49 149 50 204 49 111 50 51 49 28 62-1-50-28-49-51-50-111-49-204-50-148z" fill="url(#q9)"/><path d="M1322 433l50 149 49 204 50 111 49 51 50 27 61-1-49-28-50-50-49-111-50-204-49-149z" fill="url(#q8)"/><path d="M1277 434l49 148 50 205 49 111 50 50 49 28 62-1-50-28-49-50-50-111-49-204-50-149z" fill="url(#q7)"/><path d="M1231 434l50 149 49 204 50 111 49 51 50 28 61-1-49-28-50-51-49-111-50-204-49-149z" fill="url(#q6)"/><path d="M1186 435l49 149 50 204 49 111 50 51 49 28 62-1-50-28-49-51-50-111-49-204-50-149z" fill="url(#q5)"/><path d="M1140 436l50 149 49 204 50 111 49 51 50 28 61-2-49-27-50-51-49-111-50-204-49-149z" fill="url(#q4)"/><path d="M1095 436l49 149 50 205 49 111 50 50 49 28 62-1-50-28-49-50-50-111-49-205-50-149z" fill="url(#q3)"/><path d="M1049 437l50 149 49 205 50 111 49 50 50 28 61-1-49-28-50-51-49-111-50-204-50-149z" fill="url(#q2)"/><path d="M1004 438l49 149 50 204 49 111 50 51 49 28 62-1-50-28-49-51-50-111-49-204-50-149z" fill="url(#q1)"/></g>
<path d="M1075 813l8-2 9-3 9-4 8-5 9-7 9-9 8-11 9-13 9-15 8-18M1335 809l8-2 9-3 9-4 8-6 9-7 9-8 8-11 9-13 9-15 8-18M1593 805l8-2 9-3 9-4 8-6 9-6 9-9 8-10 9-13 9-15 8-17M1849 802l9-2 8-3 9-3 9-5 8-7 9-7 9-10 8-12 9-14 9-16M2116 801l9-1 8-1 9-3 9-3 8-5 9-6 9-7 8-10 9-11 9-13 8-15 9-17M2356 795l9 0 8-2 9-1 9-3 8-3 9-4 9-4 8-6 9-7 9-7 8-9 9-9 9-10 8-11M2505 795l9 1 9 0 8-1 9-1 9-1 8-2 9-2 9-2 8-3 9-4 9-4 8-4 9-5 9-5 8-5 9-4 9-4 8-4 9-3 9-2" class="bl" opacity="0.7"/>
<path d="M1161 726l9-20 9-24 8-26 9-28M1421 722l9-20 9-23 8-26 9-28M1679 720l9-20 9-23 8-26 9-27 9-29M1936 723l8-19 9-22 9-24 8-26 9-27M2220 709l9-19 8-20 9-22 9-23 8-23M2477 719l9-11 9-11 8-10 9-10 9-8 8-6 9-4 9-2 8 1M2679 740l8-1 9 1 9 1" class="bl" opacity="0.4"/>
<path d="M912 798h1M1064 796h1M1173 794h1M1257 792h1M1325 791h1M1383 790h1M1433 789h1M1478 789h1M1517 788h1M1553 788h1M1586 787h1M1616 787h1M1644 787h1M1670 786h1M1694 786h1M1717 786h1M1739 787h1M1759 786h1M1778 785h1M1797 785h1M1814 784h1M1831 784h1M1847 782h1M961 722h1M1114 719h1M1222 717h1M1306 716h1M1375 715h1M1433 714h1M1483 713h1M1527 713h1M1567 712h1M1603 712h1M1636 712h1M1666 712h1M1694 712h1M1720 712h1M1744 712h1M1767 712h1M1788 711h1M1809 709h1M1828 709h1M1846 712h1M1864 717h1M1881 718h1M1897 720h1M1011 552h1M1163 549h1M1272 547h1M1356 546h1M1424 545h1M1482 545h1M1533 545h1M1577 544h1M1617 544h1M1652 544h1M1685 545h1M1715 545h1M1743 545h1M1769 546h1M1793 546h1M1816 548h1M1838 547h1M1858 549h1M1877 547h1M1896 550h1M1913 549h1M1930 551h1M1946 552h1M1060 437h1M1213 435h1M1321 433h1M1405 432h1M1474 431h1M1532 431h1M1582 431h1M1626 431h1M1666 431h1M1702 431h1M1735 432h1M1765 433h1M1793 433h1M1819 434h1M1843 435h1M1866 437h1M1887 438h1M1908 440h1M1927 441h1M1945 442h1M1963 443h1M1980 445h1M1996 447h1M1110 586h1M1262 583h1M1371 582h1M1455 581h1M1523 580h1M1581 579h1M1632 579h1M1676 579h1M1716 579h1M1751 579h1M1784 579h1M1814 579h1M1842 580h1M1868 579h1M1892 580h1M1915 581h1M1937 582h1M1957 583h1M1976 584h1M1995 583h1M2012 583h1M2029 585h1M2045 586h1M1159 790h1M1312 788h1M1420 786h1M1504 785h1M1573 784h1M1631 783h1M1681 782h1M1725 782h1M1765 781h1M1801 781h1M1834 781h1M1864 781h1M1892 780h1M1918 781h1M1942 781h1M1965 781h1M1986 779h1M2007 780h1M2026 780h1M2044 782h1M2062 782h1M2079 782h1M2095 780h1M1209 901h1M1361 899h1M1470 897h1M1554 895h1M1622 894h1M1680 893h1M1731 893h1M1775 892h1M1815 891h1M1850 891h1M1883 890h1M1913 890h1M1941 890h1M1967 890h1M1992 889h1M2014 889h1M2036 889h1M2056 889h1M2075 888h1M2094 890h1M2111 887h1M2128 887h1M2144 886h1M1258 952h1M1411 949h1M1519 948h1M1603 946h1M1672 945h1M1730 944h1M1780 943h1M1824 942h1M1864 942h1M1900 941h1M1933 941h1M1963 940h1M1991 940h1M2017 940h1M2041 939h1M2064 939h1M2085 938h1M2106 938h1M2125 937h1M2143 937h1M2161 937h1M2178 936h1M2194 936h1M1308 980h1M1460 977h1M1569 975h1M1653 974h1M1721 973h1M1779 972h1M1830 971h1M1874 970h1M1914 969h1M1950 969h1M1982 968h1M2012 968h1M2040 967h1M2066 967h1M2091 966h1M2113 966h1M2135 966h1M2155 966h1M2175 966h1M2193 966h1M2210 965h1M2227 963h1M2243 963h1" class="dt"/><path d="M1814 784l17 0 16-2 15 0 15 2 14 1 14 2 13 0 13-1 12-1 12 1 12 2 11 0 11 1 11-1 10 1 10-2 19-7 19 7 17-1 17-2 16-1 15-3 15 6 14 7 14-5 13-6 13 1 12 3 12 0 12 4 11-7 11 1 11 19 10-12 10 5 14-5 14 2 14-1 13 4 13-9 12 13 12-4 11 1 11-4 11 7 11 1 10 3 13 4 13-7 12-11 12-3 12 15 11-2 11 5 10-8 11 3 10 15 12-11 12 14 11-19 11 15 11-14 11 13 10-5 12-19 11 9 11 9 11-2M1864 717l17 1 16 2 15-3 15 0 14-2 14 2 13 3 13 2 12-1 12-5 11-1 12-3 11 7 10 0 10 7 10 6 20-8 18-5 18-5 16 13 16 4 16-3 15-3 14 5 13 3 14-11 12 13 13 21 12-12 11-3 12 10 10-10 11 6 10 8 10 3 15-3 14 1 14 0 13 6 12-2 12 5 12-3 12-18 11 17 11 23 10 0 10-14 14-1 12 9 13 51 12-48 11 7 11-2 11 4 11 5 10 10 10-19 12 11 12-36 12 25 11 12 11 5 10 18 10-25 12 34 12-56 11 40 11-18M1913 549l17 2 16 1 15 1 15 4 14 2 14 2 13 1 13 1 12 5 12 2 12-2 11-1 11-2 11 6 10 2 10-4 19 3 19 10 17-1 17 6 16 23 15-5 15 3 14 4 14-13 13 0 13 12 12 14 12-1 12 18 11 7 11 8 11-4 10 0 10 1 14 10 15-15 13 22 13 9 13-17 12 13 12-5 11 14 11 11 11 10 11 12 10 0 13 19 13-24 12 29 12-26 12 13 11-9 11 34 10-26 11 19 10 0 12-9 12 53 11-40 11 14 11 23 11-33 10 39 12-8 11-11 11 19 11 2M1963 443l17 2 16 2 15 1 15 4 14 2 14 2 13 0 13 2 12 3 12 3 11 1 12 3 11 2 10 2 10 4 11 4 19 0 18 8 18 4 16 8 16 8 16 4 15 4 14 6 13 10 14 2 12 5 13 10 12 4 11 9 12 7 10 0 11 4 10 7 10 10 15 4 14 11 14 4 13 0 12 21 12 9 12 2 12 11 11 2 11 4 10 7 10 10 14 2 12 8 13 13 12-1 11 10 11 8 11 1 11 12 10 5 10 0 13 5 11 11 12 3 11-5 11 11 10 9 10 2 12 4 12 6 11 4 11-8M2012 583l17 2 16 1 15 5 15 2 14 3 14-4 13-1 13 3 12 5 12 3 12 7 11 2 11 6 11-9 10 6 10 2 19 6 19 1 17-8 17 11 16 1 15 3 15 0 14 10 14-3 13 9 13 14 12 2 12-7 12 13 11 9 11 2 11-11 10 15 10 13 15-20 14 19 13-8 13 28 13 0 12-6 12 17 11-9 11 15 11 23 11-9 10 6 13 4 13 3 12 9 12-7 12 13 11-12 11 17 11 21 10-4 10-11 12-5 12 35 11-29 11 24 11-34 11 48 10 12 12 10 11-44 11 32 11 20M2062 782l17 0 16-2 15-1 15 1 14-1 14 4 13 3 13 5 12-2 12 2 11 2 12 3 11-8 10 1 11-5 10 3 19 3 18 9 18 4 16-10 17 13 15-1 15-4 14 1 14 9 13-7 12-9 13 14 12 1 11 4 12 3 11 4 10 5 10 5 10-3 15-17 14 15 14-6 13 23 12-8 12 22 12-42 12 28 11 12 11 3 10-18 10-1 14 18 12-12 13 16 12-10 11-19 12-2 10 43 11-17 10-1 10-4 13-28 11 39 12 23 11-27 11 22 10-3 10-8 12 3 12 8 11-38 11 55M2111 887l17 0 16-1 15 1 15 0 14-1 14-1 13 0 13 1 12 1 12 3 12-3 11 0 11-5 11 3 10 1 10 2 19-1 19 2 17-1 17 2 16-2 15 3 15 0 14-7 14 5 13 11 13-10 12-7 12 16 12-1 11 0 11-5 11-1 10 1 10-2 15 2 14-3 13 5 13 7 13-5 12 13 12-2 11-14 11 8 11 4 11-15 10 7 13 0 13-1 12 4 12-8 12 4 11 16 11-10 11 2 10 7 10-21 12 6 12 4 11-6 11 24 11-30 11 37 10-28 12 9 11-9 11 9 11-6" class="dl"/><path d="M2161 937l17-1 16 0 15 1 15 0 14 1 14 2 13 3 13-3 12-3 12-2 12-1 11-1 11-2 10-2 11 4 10 1 19 2 18 1 18-4 17 6 16 1 15-5 15 0 14-6 14 2 13 0 13 1 12 3 12 0 11 7 12-5 11-3 10 2 10 0 11-5 14 4 14-1 14-2 13 10 12-1 13-5 11-5 12 9 11-13 11 14 10-5 10 15 14-15 12 4 13-5 12-1 11 4 12-2 10 0 11-1 10 11 10-11 13 5 11-1 12-2 11-18 11 14 10 13 10-12 12-1 12 3 11 1 11 12M2210 965l17-2 16 0 16 1 14 0 14 0 14-1 13-3 13-1 12 2 12 3 12-1 11-1 11-1 11 2 10 1 10-2 19-1 19 0 17-1 17-1 16 3 15 2 15-2 14-3 14-1 13-1 13 3 12-6 12 4 12 0 11 0 11-2 11-1 10-1 10 1 15-7 14 6 13 7 13-8 13 2 12 4 12 3 11-13 11 11 11 1 11-3 10-2 13-1 13-3 12 1 12-4 12 9 11 2 11-10 11-2 10 14 10-5 12 5 12-8 11-2 11 7 11 3 11-6 10-4 12 0 11-2 12-1 10 2" class="dk"/>
<path d="M1274 431l9 7 10 16 9 23 9 30 9 34 9 37 9 38 10 38 9 36 9 34 9 32 9 28 10 26 9 22 9 20 9 18 9 15 10 14 9 12 9 10 9 9 9 9 10 7 9 7 9 6 9 5 9 5 9 5 10 5 9 4 9 4 9 4 9 4M1534 428l9 7 9 16 10 23 9 30 9 34 9 37 9 38 10 37 9 36 9 34 9 32 9 28 10 26 9 22 9 20 9 18 9 15 9 14 10 11 9 11 9 9 9 8 9 8 10 6 9 6 9 6 9 5 9 5 10 4 9 5 9 4 9 4 9 3M1792 430l9 7 9 16 9 23 10 29 9 34 9 36 9 37 9 38 10 35 9 34 9 31 9 28 9 25 10 22 9 20 9 17 9 16 9 13 10 12 9 10 9 9 9 8 9 7 9 7 10 6 9 6 9 5 9 4 9 5 10 4 9 4 9 4 9 4M2048 450l10 7 9 15 9 22 9 27 9 32 10 35 9 36 9 35 9 34 9 32 10 29 9 27 9 24 9 21 9 19 9 17 10 14 9 13 9 11 9 10 9 9 10 8 9 7 9 6 9 6 9 6 10 5 9 4 9 5 9 4 9 4 10 4 9 4M2315 525l10 6 9 13 9 18 9 23 9 26 10 29 9 30 9 29 9 28 9 27 9 25 10 22 9 20 9 18 9 16 9 14 10 13 9 11 9 10 9 8 9 8 10 7 9 7 9 5 9 6 9 5 10 5 9 4 9 4 9 4 9 4 10 4 9 3M2555 658l10 4 9 7 9 10 9 12 9 15 10 15 9 17 9 17 9 17 9 17 10 16 9 15 9 14 9 13 9 12 10 11 9 11 9 9 9 9 9 7 9 8 10 6 9 7 9 5 9 6 9 5 10 5 9 4 9 4 9 5 9 4 10 3 9 4M2705 741l9 4 9 5 9 6 9 7 9 9 10 10 9 10 9 10 9 11 9 10 10 11 9 10 9 10 9 9 9 9 10 8 9 8 9 7 9 7 9 7 10 6 9 6 9 5 9 5 9 5 10 5 9 4 9 5 9 4 9 4 9 4 10 4 9 4" class="bl"/>
<path d="M1011 443l46 0 47-1 46-1 46-1 47 0 46-1 46 0 47-1 46 0 46-1 47 0 46 0 46-1 47 0 46 1 46 0 47 1 46 1 46 1 47 2 46 2 46 3 47 3 46 4 46 6 47 6 46 8 46 8 47 11 46 12 46 13 47 16 46 17 46 18 47 20 46 20 46 21 47 22 46 21" class="rl"/>
<circle cx="2517" cy="542" r="30" fill="#f41010"/>
<text x="2138" y="388" class="an">no G<tspan font-size="60" dy="38" dx="6">NL</tspan><tspan dy="-38"></tspan></text>
<g opacity="0.62"><path d="M2630 2258l49 60 50 88 49 73 46-8-50-72-49-84-50-60z" fill="url(#q80)"/><path d="M2584 2259l50 63 49 90 50 75 61-11-49-72-50-87-49-60z" fill="url(#q79)"/><path d="M2539 2259l49 62 50 93 49 80 62-9-50-75-49-89-50-62z" fill="url(#q78)"/><path d="M2493 2258l50 62 49 96 50 83 61-7-49-79-50-92-49-62z" fill="url(#q77)"/><path d="M2448 2256l49 62 50 98 49 87 62-5-50-83-49-95-50-62z" fill="url(#q76)"/><path d="M2402 2255l50 61 49 99 50 91 61-4-49-86-50-97-50-62z" fill="url(#q75)"/><path d="M2357 2254l49 60 50 99 49 93 62-1-50-89-49-99-50-61z" fill="url(#q74)"/><path d="M2311 2253l50 57 49 99 50 95 61 2-49-92-50-99-50-61z" fill="url(#q73)"/></g><g opacity="0.6"><path d="M2266 2251l49 56 50 96 49 95 46 6-50-95-49-99-50-57z" fill="url(#q72)"/><path d="M2220 2249l50 53 49 94 50 94 61 10-49-94-50-98-50-56z" fill="url(#q71)"/><path d="M2175 2248l49 50 50 90 49 92 62 13-50-94-49-95-50-54z" fill="url(#q70)"/></g><g opacity="0.56"><path d="M2129 2247l50 47 49 86 50 88 45 12-49-92-50-90-49-50z" fill="url(#q69)"/><path d="M2084 2247l49 45 50 80 49 84 62 16-50-90-49-87-50-48z" fill="url(#q68)"/><path d="M2038 2246l50 43 49 76 50 78 61 17-49-85-50-82-50-46z" fill="url(#q67)"/><path d="M1993 2246l49 41 50 70 49 73 62 18-50-80-49-78-50-43z" fill="url(#q66)"/></g><g opacity="0.52"><path d="M1947 2246l50 38 49 66 50 68 45 12-49-73-50-70-49-41z" fill="url(#q65)"/><path d="M1902 2246l49 36 50 61 49 63 62 16-50-69-50-68-49-39z" fill="url(#q64)"/><path d="M1856 2245l50 35 49 57 50 58 61 15-49-65-50-62-50-37z" fill="url(#q63)"/><path d="M1811 2245l49 33 50 53 49 54 62 14-50-60-50-58-49-36z" fill="url(#q62)"/></g><g opacity="0.48"><path d="M1765 2245l50 32 49 48 50 51 45 9-49-54-50-53-49-33z" fill="url(#q61)"/><path d="M1720 2245l49 30 50 46 49 46 62 12-50-52-50-50-49-32z" fill="url(#q60)"/><path d="M1674 2245l50 29 49 42 50 44 61 10-49-48-50-46-50-31z" fill="url(#q59)"/><path d="M1629 2246l49 27 50 39 49 41 62 9-50-44-50-44-49-29z" fill="url(#q58)"/></g><g opacity="0.45"><path d="M1583 2246l50 26 49 37 50 38 45 6-49-41-50-39-49-27z" fill="url(#q57)"/><path d="M1538 2246l49 25 50 35 49 36 62 7-50-39-50-38-49-26z" fill="url(#q56)"/><path d="M1492 2247l50 24 49 33 50 33 61 7-49-37-50-36-50-25z" fill="url(#q55)"/><path d="M1447 2247l49 23 50 32 49 31 62 6-50-34-50-34-49-25z" fill="url(#q54)"/><path d="M1401 2247l50 23 49 30 50 30 61 5-50-33-49-32-50-23z" fill="url(#q53)"/><path d="M1356 2248l49 22 50 28 49 29 62 4-50-31-50-30-49-23z" fill="url(#q52)"/><path d="M1310 2248l50 22 49 27 50 27 61 4-50-29-49-29-50-22z" fill="url(#q51)"/><path d="M1265 2249l49 21 50 26 49 26 62 3-50-28-50-27-49-22z" fill="url(#q50)"/><path d="M1219 2249l50 21 49 25 50 25 61 3-50-27-49-26-50-21z" fill="url(#q49)"/><path d="M1174 2250l49 20 50 24 49 25 62 2-50-26-50-25-49-21z" fill="url(#q48)"/><path d="M1128 2251l50 20 49 23 50 23 61 2-50-25-49-24-50-20z" fill="url(#q47)"/><path d="M1083 2251l49 20 50 22 49 23 62 2-50-24-50-24-49-20z" fill="url(#q46)"/><path d="M1037 2252l50 19 49 22 50 22 61 2-50-23-49-23-50-20z" fill="url(#q45)"/><path d="M992 2253l49 19 50 21 49 22 62 1-50-23-50-22-49-19z" fill="url(#q44)"/><path d="M946 2253l50 19 49 21 50 21 61 1-50-22-49-21-50-20z" fill="url(#q43)"/><path d="M901 2254l49 19 50 20 49 21 61 0-49-21-50-21-49-19z" fill="url(#q42)"/><path d="M855 2255l50 18 49 20 50 21 61 0-50-21-49-21-50-18z" fill="url(#q41)"/></g>
<path d="M1075 2236l9 4 9 4 9 3 9 4 10 4 9 4 9 4 9 4 9 5 9 4 9 5 10 4 9 4 9 5 9 4 9 3 9 4 10 3 9 3 9 2 9 3 9 2 9 2M1335 2233l9 4 9 3 9 4 9 5 9 4 10 4 9 5 9 5 9 5 9 5 9 6 10 5 9 6 9 6 9 5 9 5 9 5 9 4 10 4 9 3 9 2 9 2 9 2M1593 2229l9 4 9 5 9 4 9 4 9 5 9 5 10 6 9 6 9 6 9 6 9 7 9 8 10 8 9 8 9 8 9 7 9 8 9 7 9 6 10 5 9 4 9 3 9 1M1849 2226l9 5 9 4 10 5 9 5 9 5 9 6 9 7 9 7 9 7 10 8 9 9 9 10 9 11 9 11 9 12 10 12 9 12 9 12 9 11 9 10 9 8 9 7 10 4M2116 2225l9 5 9 5 10 6 9 7 9 7 9 7 9 9 9 9 9 11 10 11 9 13 9 14 9 15 9 17 9 17 9 18 10 19 9 17 9 17 9 14 9 12 9 9 10 4M2356 2222l9 6 9 5 10 7 9 7 9 7 9 9 9 9 9 10 9 12 10 13 9 15 9 16 9 17 9 19 9 19 10 21 9 21 9 20 9 19 9 16 9 13 9 10 10 5M2505 2219l9 5 10 5 9 6 9 7 9 7 9 8 9 9 9 10 10 10 9 13 9 13 9 15 9 16 9 17 9 18 10 19 9 19 9 19 9 17 9 15 9 12 10 9 9 5" class="bl"/>
<g opacity="0.64"><path d="M2778 2479l50-4 49-55 50-41 49-13 50 4 45-1-49-5-50 12-49 39-50 52-49 4z" fill="url(#q80)"/><path d="M2733 2487l49-5 50-58 49-43 50-14 49 4 62-2-50-4-49 13-50 40-49 54-50 4z" fill="url(#q79)"/><path d="M2687 2494l50-7 49-62 50-45 49-13 50 4 61-1-49-3-50 14-49 42-50 57-49 5z" fill="url(#q78)"/><path d="M2642 2499l49-8 50-66 49-46 50-13 49 5 62 0-50-4-49 14-50 44-49 61-50 6z" fill="url(#q77)"/><path d="M2596 2503l50-10 49-69 50-46 49-13 50 6 61 0-49-5-50 14-49 45-50 65-49 8z" fill="url(#q76)"/><path d="M2551 2506l49-12 50-72 49-46 50-11 49 6 62 0-50-5-49 12-50 46-49 68-50 10z" fill="url(#q75)"/><path d="M2505 2506l50-13 49-74 50-45 49-10 50 7 61 0-49-6-50 12-49 45-50 72-49 11z" fill="url(#q74)"/><path d="M2460 2504l49-14 50-75 49-43 50-9 49 8 62 0-50-7-49 11-50 45-49 74-50 12z" fill="url(#q73)"/></g><g opacity="0.62"><path d="M2414 2498l50-14 49-74 50-41 49-7 50 9 45 0-49-8-50 9-49 43-50 75-49 14z" fill="url(#q72)"/><path d="M2369 2490l49-14 50-72 49-38 50-4 49 9 62 0-50-8-49 7-50 42-49 75-50 13z" fill="url(#q71)"/><path d="M2323 2480l50-13 49-69 50-35 49-2 50 11 61-1-49-9-50 5-49 39-50 73-49 14z" fill="url(#q70)"/></g><g opacity="0.58"><path d="M2278 2468l49-12 50-64 49-30 50-1 49 11 46 0-50-11-49 2-50 35-49 69-50 13z" fill="url(#q69)"/><path d="M2232 2456l50-10 49-58 50-27 49 0 50 12 61-1-49-11-50 1-49 32-50 66-49 12z" fill="url(#q68)"/><path d="M2187 2443l49-8 50-52 49-24 50 2 49 12 62 0-50-12-49 0-50 28-49 61-50 10z" fill="url(#q67)"/><path d="M2141 2430l50-5 49-47 50-20 49 3 50 13 61-1-49-12-50-1-49 25-50 54-49 9z" fill="url(#q66)"/></g><g opacity="0.54"><path d="M2096 2418l49-4 50-40 49-17 50 5 49 13 46-1-50-13-49-3-50 20-49 47-50 5z" fill="url(#q65)"/><path d="M2050 2406l50-1 49-35 50-14 49 6 50 13 61-1-49-13-50-4-49 18-50 43-49 4z" fill="url(#q64)"/><path d="M2005 2395l49 0 50-29 49-11 50 7 49 14 62-1-50-13-49-6-50 15-49 37-50 2z" fill="url(#q63)"/><path d="M1959 2385l50 2 49-25 50-8 49 8 50 14 61 0-49-14-50-6-49 11-50 32-49 0z" fill="url(#q62)"/></g><g opacity="0.5"><path d="M1914 2376l49 3 50-20 49-5 50 9 49 14 46-1-50-14-49-8-50 8-49 25-50-2z" fill="url(#q61)"/><path d="M1868 2367l50 5 49-16 50-3 49 10 50 15 61-1-49-14-50-9-49 6-50 22-49-3z" fill="url(#q60)"/><path d="M1823 2360l49 6 50-13 49 0 50 10 49 15 62 0-50-15-49-10-50 4-49 18-50-5z" fill="url(#q59)"/><path d="M1777 2353l50 8 49-10 50 2 49 11 50 15 61-1-49-15-50-10-49 1-50 14-49-6z" fill="url(#q58)"/></g><g opacity="0.47"><path d="M1732 2347l49 9 50-7 49 3 50 12 49 16 46-1-50-15-49-11-50-2-49 10-50-8z" fill="url(#q57)"/><path d="M1686 2342l50 10 49-4 50 4 49 13 50 16 61-1-49-16-50-12-49-2-50 8-49-9z" fill="url(#q56)"/><path d="M1641 2337l49 11 50-2 49 6 50 13 49 16 62-1-50-15-49-13-50-4-49 5-50-9z" fill="url(#q55)"/><path d="M1595 2333l50 12 49 0 50 7 49 14 50 16 61-1-49-16-50-13-49-5-50 2-49-10z" fill="url(#q54)"/><path d="M1550 2330l49 12 50 2 49 9 50 14 49 16 62-1-50-16-49-14-50-7-49 1-50-11z" fill="url(#q53)"/><path d="M1504 2327l50 12 49 4 50 10 49 14 50 16 61-1-49-16-50-13-49-9-50-1-49-12z" fill="url(#q52)"/><path d="M1459 2324l49 13 50 6 49 10 50 15 49 16 62-1-50-16-49-14-50-9-49-4-50-12z" fill="url(#q51)"/><path d="M1413 2322l50 14 49 6 50 12 49 14 50 17 61-1-49-16-50-15-49-10-50-5-49-13z" fill="url(#q50)"/><path d="M1368 2320l49 14 50 8 49 12 50 15 49 17 62-1-50-17-49-15-50-10-49-7-50-13z" fill="url(#q49)"/><path d="M1322 2319l50 14 49 9 50 12 49 16 50 16 61-1-49-16-50-15-49-12-50-7-49-14z" fill="url(#q48)"/><path d="M1277 2317l49 15 50 10 49 13 50 15 49 17 62-1-50-16-49-16-50-12-49-9-50-14z" fill="url(#q47)"/><path d="M1231 2316l50 15 49 11 50 13 49 16 50 17 61-1-49-17-50-15-49-13-50-10-49-14z" fill="url(#q46)"/><path d="M1186 2315l49 16 50 11 49 14 50 16 49 17 62-1-50-17-49-16-50-13-49-11-50-14z" fill="url(#q45)"/><path d="M1140 2315l50 15 49 12 50 15 49 16 50 16 61-1-49-16-50-16-49-14-50-11-49-15z" fill="url(#q44)"/><path d="M1095 2314l49 16 50 13 49 14 50 16 49 17 62-1-50-17-49-16-50-14-49-12-50-15z" fill="url(#q43)"/><path d="M1049 2314l50 16 49 13 50 15 49 16 50 17 61-1-49-17-50-16-49-15-50-12-50-16z" fill="url(#q42)"/><path d="M1004 2314l49 16 50 13 49 15 50 17 49 17 62-1-50-17-49-16-50-15-49-13-50-16z" fill="url(#q41)"/></g>
<path d="M912 2254h1M1064 2252h1M1173 2250h1M1257 2249h1M1325 2248h1M1383 2248h1M1433 2247h1M1478 2247h1M1517 2246h1M1553 2246h1M1586 2246h1M1616 2246h1M1644 2245h1M1670 2245h1M1694 2245h1M1717 2245h1M1739 2246h1M1759 2246h1M1778 2246h1M1797 2246h1M1814 2246h1M1831 2245h1M1847 2245h1M961 2273h1M1114 2271h1M1222 2270h1M1306 2270h1M1375 2270h1M1433 2270h1M1483 2270h1M1527 2271h1M1567 2271h1M1603 2271h1M1636 2272h1M1666 2273h1M1694 2273h1M1720 2274h1M1744 2274h1M1767 2275h1M1788 2275h1M1809 2276h1M1828 2276h1M1846 2276h1M1864 2276h1M1881 2279h1M1897 2280h1M1011 2293h1M1163 2293h1M1272 2294h1M1356 2296h1M1424 2297h1M1482 2299h1M1533 2301h1M1577 2303h1M1617 2305h1M1652 2307h1M1685 2309h1M1715 2311h1M1743 2314h1M1769 2316h1M1793 2318h1M1816 2321h1M1838 2322h1M1858 2325h1M1877 2326h1M1896 2328h1M1913 2330h1M1930 2333h1M1946 2335h1M1060 2314h1M1213 2316h1M1321 2319h1M1405 2322h1M1474 2325h1M1532 2329h1M1582 2332h1M1626 2336h1M1666 2340h1M1702 2344h1M1735 2348h1M1765 2351h1M1793 2355h1M1819 2359h1M1843 2363h1M1866 2367h1M1887 2371h1M1908 2374h1M1927 2378h1M1945 2381h1M1963 2385h1M1980 2389h1M1996 2393h1M1110 2330h1M1262 2331h1M1371 2333h1M1455 2335h1M1523 2338h1M1581 2341h1M1632 2344h1M1676 2347h1M1716 2350h1M1751 2353h1M1784 2356h1M1814 2359h1M1842 2363h1M1868 2366h1M1892 2369h1M1915 2372h1M1937 2375h1M1957 2378h1M1976 2380h1M1995 2384h1M2012 2386h1M2029 2391h1M2045 2394h1M1159 2343h1M1312 2342h1M1420 2342h1M1504 2342h1M1573 2343h1M1631 2344h1M1681 2345h1M1725 2346h1M1765 2347h1M1801 2348h1M1834 2349h1M1864 2351h1M1892 2352h1M1918 2353h1M1942 2355h1M1965 2357h1M1986 2359h1M2007 2359h1M2026 2360h1M2044 2361h1M2062 2363h1M2079 2365h1M2095 2365h1M1209 2358h1M1361 2356h1M1470 2354h1M1554 2354h1M1622 2353h1M1680 2353h1M1731 2352h1M1775 2352h1M1815 2352h1M1850 2352h1M1883 2352h1M1913 2353h1M1941 2353h1M1967 2353h1M1992 2353h1M2014 2353h1M2036 2353h1M2056 2354h1M2075 2354h1M2094 2354h1M2111 2353h1M2128 2353h1M2144 2355h1M1258 2374h1M1411 2371h1M1519 2370h1M1603 2369h1M1672 2368h1M1730 2367h1M1780 2366h1M1824 2366h1M1864 2365h1M1900 2365h1M1933 2364h1M1963 2364h1M1991 2364h1M2017 2364h1M2041 2363h1M2064 2363h1M2085 2363h1M2106 2363h1M2125 2362h1M2143 2362h1M2161 2362h1M2178 2362h1M2194 2362h1M1308 2391h1M1460 2388h1M1569 2386h1M1653 2385h1M1721 2384h1M1779 2383h1M1830 2382h1M1874 2381h1M1914 2381h1M1950 2380h1M1982 2380h1M2012 2379h1M2040 2379h1M2066 2379h1M2091 2378h1M2113 2378h1M2135 2378h1M2155 2378h1M2175 2377h1M2193 2377h1M2210 2376h1M2227 2376h1M2243 2376h1" class="dt"/><path d="" class="dl"/><path d="M1814 2246l17-1 16 0 15 0 15 1 14 0 14 0 13 0 13 0 12 0 12-2 12 1 11 1 11 2 11 1 10 0 10 1 19-4 19 2 17 0 17 2 16-2 15 1 15-4 14-1 14 2 13 4 13 3 12-5 12-2 12 2 11 3 11-2 11-1 10 0 10 0 14 5 14-1 14 1 13 0 13 7 12-4 12-2 11-1 11 3 11-4 11 5 10 0 13-2 13 0 12 5 12-4 12 0 11 2 11 2 10-4 11 1 10 0 12 2 12-1 11-1 11 1 11 7 11-13 10 14 12-4 11-11 11 3 11 3M1864 2276l17 3 16 1 15 2 15 0 14-1 14-2 13 0 13 2 12 0 12 0 11-1 12 2 11 1 10 1 10 4 10 2 20 1 18 2 18-4 16-2 16 5 16 1 15 1 14 3 13 0 14-2 12-1 13 3 12 7 11 0 12-2 10 0 11-4 10 9 10-7 15 16 14 0 14-7 13 10 12-4 12 0 12-6 12 9 11 8 11-11 10-4 10 17 14-15 12 1 13 6 12 3 11-4 11 3 11-5 11 14 10-12 10 0 12 0 12 1 12 8 11 2 11-7 10-14 10 10 12-11 12 5 11 3 11 8M1913 2330l17 3 16 2 15 2 15 1 14 3 14 2 13 4 13 4 12 2 12-1 12 1 11 1 11 6 11 1 10-1 10-1 19 6 19 6 17 5 17-2 16 1 15 7 15-1 14-2 14 10 13-1 13 3 12 2 12 2 12 2 11 0 11 8 11 0 10 1 10-3 14 5 15 6 13-4 13 0 13 9 12-6 12 10 11-13 11-2 11 11 11-16 10 17 13-8 13 13 12-1 12 2 12-10 11-3 11-1 10-6 11 14 10-3 12 0 12-19 11 10 11-1 11 4 11-2 10-12 12 10 11 2 11 0 11-4M1963 2385l17 4 16 4 15 4 15 3 14 3 14 3 13 2 13 4 12 3 12 5 11 2 12 4 11 3 10 4 10 3 11 4 19 4 18 4 18 5 16 6 16 3 16 7 15 2 14 5 13 2 14 5 12 1 13 1 12 3 11 3 12 1 10 4 11 1 10 1 10 3 15 0 14 4 14 0 13 2 12 0 12-1 12-1 12 4 11-3 11-1 10-2 10 3 14-1 12-3 13 1 12-3 11-1 11 2 11-4 11-1 10-2 10-1 13 0 11-5 12 2 11-2 11-5 10 0 10-4 12 0 12-5 11-1 11-1M2012 2386l17 5 16 3 15 4 15 3 14 2 14 1 13 2 13 4 12 5 12 1 12 3 11 2 11 4 11 1 10 2 10 2 19 6 19 1 17 5 17 1 16 8 15 4 15 3 14 7 14-3 13 1 13 5 12 1 12 3 12 4 11 6 11 3 11-8 10 5 10 5 15 7 14-6 13 7 13-5 13 2 12 0 12-3 11 0 11 3 11 1 11 8 10-9 13-3 13 3 12 1 12-1 12 0 11-1 11-5 11 7 10-6 10 0 12-5 12 3 11-5 11-3 11 0 11 6 10-1 12-5 11-1 11 11 11-20M2062 2363l17 2 16 0 15 3 15-1 14 1 14 1 13 2 13 1 12 0 12 2 11 2 12 4 11-1 10 2 11-1 10 0 19 0 18 8 18-2 16-3 17 5 15 5 15 0 14 0 14 8 13 3 12 0 13 3 12 0 11 1 12 4 11-1 10 3 10 1 10-6 15 4 14 9 14-3 13 2 12-15 12 16 12-3 12 0 11 7 11-6 10 4 10 1 14-6 12 10 13 1 12-10 11 8 12-7 10 9 11-6 10-2 10 1 13 4 11-3 12 5 11-2 11 7 10-12 10-4 12 9 12-9 11 22 11-11M2111 2353l17 0 16 2 15 1 15 1 14 0 14 0 13 0 13 0 12 1 12 0 12 1 11 0 11 0 11 0 10-1 10 1 19 1 19 0 17-1 17 4 16 1 15-2 15-1 14-3 14 2 13 2 13 4 12-1 12 3 12-1 11 2 11-5 11 3 10 2 10 3 15-4 14 2 13 11 13-6 13 3 12 2 12-8 11 5 11 0 11-2 11-1 10 5 13-1 13-2 12 1 12 5 12-4 11 12 11-13 11 5 10-6 10 3 12 1 12 0 11-3 11 4 11-4 11-8 10 2 12 9 11 2 11-3 11 10M2161 2362l17 0 16 0 15 0 15 1 14-1 14-1 13 0 13 0 12 0 12-1 12 0 11 1 11 1 10 0 11-2 10 0 19 2 18-1 18 0 17-1 16 3 15 0 15-2 14-2 14 2 13-1 13 2 12-1 12-2 11 2 12-1 11 1 10 0 10 2 11 3 14-3 14-2 14 5 13-2 12-2 13 2 11 1 12-1 11 1 11 0 10-3 10 2 14-2 12 2 13 0 12 3 11-3 12 3 10-3 11 5 10-1 10-2 13 2 11 2 12-6 11 5 11 2 10-1 10-2 12-4 12 4 11-1 11-2M2210 2376l17 0 16 0 16-1 14 0 14-1 14 0 13 1 13-1 12 1 12 0 12 0 11 0 11-1 11 1 10 0 10-1 19-2 19 1 17 1 17 1 16-1 15 0 15-1 14-3 14 2 13 0 13-1 12-1 12 1 12 2 11 0 11 1 11 0 10-3 10 1 15 1 14 1 13-4 13 3 13-1 12-2 12 1 11-1 11 3 11 0 11-2 10 1 13-1 13 1 12-1 12-2 12-1 11 2 11 0 11-1 10 0 10-1 12 2 12 2 11-2 11 4 11-2 11-4 10 3 12 0 11-3 12 1 10-5" class="dk"/>
<path d="M1285 2320l9 2 9 1 9 2 9 2 9 2 8 2 9 2 9 3 9 2 9 3 9 2 9 3 8 2 9 3 9 3 9 3 9 3 9 3 8 2 9 3 9 3 9 3 9 3 9 3 9 4 8 3 9 3 9 3 9 3 9 3 9 3 9 3 8 3M1545 2332l9 1 9 0 9 1 9 0 8 1 9 1 9 1 9 1 9 1 9 2 9 1 8 2 9 2 9 2 9 3 9 2 9 3 9 2 8 3 9 3 9 3 9 3 9 2 9 3 9 3 8 3 9 3 9 3 9 3 9 3 9 3 9 3 8 3M1803 2360l9 1 9-1 9-1 8-2 9-1 9-2 9-2 9-1 9-2 9 0 8-1 9 0 9 1 9 1 9 1 9 1 9 2 8 2 9 2 9 2 9 2 9 3 9 2 9 3 8 3 9 3 9 2 9 3 9 3 9 3 8 3 9 3 9 3M2060 2414l8 1 9 0 9-2 9-4 9-5 9-6 9-6 8-6 9-6 9-5 9-5 9-4 9-3 9-3 8-1 9-1 9-1 9 0 9 1 9 0 9 2 8 1 9 2 9 2 9 2 9 2 9 3 8 2 9 3 9 3 9 3 9 2 9 3M2327 2488l8 1 9-2 9-6 9-9 9-10 9-11 8-13 9-12 9-12 9-11 9-9 9-9 9-7 8-7 9-5 9-3 9-3 9-2 9-2 9 0 8 0 9 0 9 1 9 1 9 2 9 2 9 2 8 2 9 2 9 3 9 3 9 2 9 3M2567 2518l8 0 9-3 9-8 9-10 9-13 9-14 9-14 8-15 9-14 9-14 9-12 9-10 9-9 9-8 8-7 9-5 9-4 9-2 9-2 9-2 9 0 8 0 9 0 9 1 9 2 9 1 9 2 8 2 9 3 9 2 9 2 9 3 9 3M2716 2493l9 1 8-3 9-6 9-9 9-12 9-12 9-13 9-13 8-13 9-11 9-11 9-9 9-8 9-7 8-6 9-4 9-3 9-2 9-2 9-1 9 0 8 0 9 1 9 1 9 2 9 2 9 2 9 2 8 2 9 3 9 2 9 3 9 2" class="bl"/>
<path d="M541 1787h176" class="bl" style="stroke-width:20"/>
<text x="730" y="1814" class="lg">2-state fit</text>
<path d="M2473 3635l10 6 11 6 11 6 11 7 10 8 11 9 11 10 11 12 10 13 11 14 11 16 10 17 11 20 11 20 11 20 10 21 11 20 11 17 11 14 10 11 11 5 11 0 11-4 10-8 11-12 11-14 10-15 11-15 11-15 11-13 10-12 11-11 11-8 11-8 10-5 11-4 11-3 10-2 11-1 11 0 11 0 10 1 11 1 11 2 11 2 10 2 11 3 11 2 11 3" class="rd"/><path d="M2473 3619l10 0 11 0 11-1 11-2 10-2 11-3 11-4 11-5 10-5 11-5 11-6 10-7 11-6 11-7 11-6 10-5 11-4 11-2 11-1 10 0 11 3 11 5 11 6 10 7 11 9 11 10 10 10 11 11 11 11 11 11 10 10 11 10 11 9 11 9 10 9 11 8 11 7 10 7 11 6 11 6 11 6 10 5 11 6 11 4 11 5 10 4 11 5 11 4 11 4" class="bl"/><path d="M2326 3639l11 6 11 6 10 7 11 7 11 9 11 9 10 11 11 12 11 14 11 16 10 17 11 19 11 21 10 22 11 22 11 23 11 21 10 19 11 16 11 10 11 6 10 0 11-5 11-9 11-13 10-16 11-17 11-17 10-17 11-15 11-14 11-12 10-10 11-8 11-6 11-5 10-4 11-2 11-2 10 0 11 0 11 1 11 1 10 1 11 2 11 2 11 3 10 2 11 3" class="rd"/><path d="M2326 3620l11-1 11-2 10-3 11-4 11-4 11-6 10-8 11-8 11-10 11-11 10-13 11-13 11-13 10-14 11-13 11-12 11-10 10-7 11-4 11 0 11 4 10 7 11 11 11 13 11 15 10 17 11 18 11 17 10 18 11 17 11 16 11 14 10 14 11 13 11 11 11 10 10 10 11 8 11 8 10 7 11 7 11 6 11 5 10 5 11 5 11 5 11 4 10 4 11 4" class="bl"/><path d="M2090 3642l11 6 11 5 10 7 11 7 11 7 11 9 10 10 11 11 11 12 11 14 10 15 11 17 11 18 11 19 10 20 11 20 11 19 10 16 11 14 11 10 11 5 10 1 11-4 11-8 11-11 10-13 11-14 11-14 11-14 10-12 11-12 11-9 10-8 11-7 11-5 11-4 10-2 11-2 11-1 11 0 10 1 11 1 11 1 11 2 10 2 11 3 11 2 10 3 11 2" class="rd"/><path d="M2090 3627l11-2 11-2 10-4 11-5 11-7 11-9 10-11 11-14 11-17 11-19 10-22 11-25 11-26 11-28 10-28 11-25 11-23 10-17 11-10 11-2 11 6 10 13 11 21 11 25 11 30 10 31 11 31 11 31 11 28 10 27 11 24 11 21 10 19 11 16 11 15 11 12 10 11 11 10 11 9 11 7 10 7 11 6 11 6 11 5 10 5 11 4 11 4 10 4 11 4" class="bl"/><path d="M1828 3644l11 5 10 4 11 5 11 6 11 6 10 6 11 8 11 8 11 8 10 10 11 10 11 12 11 12 10 13 11 13 11 13 10 13 11 11 11 10 11 7 10 4 11 2 11-1 11-4 10-5 11-6 11-8 11-7 10-7 11-6 11-5 10-5 11-4 11-2 11-2 10-1 11 0 11 0 11 1 10 1 11 2 11 2 10 2 11 3 11 2 11 3 10 3 11 2 11 3" class="rd"/><path d="M1828 3628l11-3 10-3 11-6 11-7 11-9 10-11 11-14 11-18 11-21 10-24 11-27 11-31 11-33 10-34 11-35 11-32 10-27 11-21 11-13 11-3 10 7 11 16 11 25 11 31 10 36 11 37 11 38 11 37 10 35 11 32 11 29 10 25 11 22 11 20 11 17 10 14 11 13 11 11 11 10 10 8 11 8 11 7 10 6 11 5 11 5 11 5 10 5 11 4 11 4" class="bl"/><path d="M1576 3648l11 4 10 4 11 5 11 5 11 5 10 6 11 6 11 6 11 7 10 8 11 7 11 9 10 8 11 9 11 8 11 8 10 7 11 6 11 4 11 3 10 2 11 0 11-1 11-2 10-2 11-2 11-3 10-2 11-1 11-1 11-1 10 0 11 0 11 1 11 2 10 1 11 2 11 2 10 2 11 3 11 3 11 2 10 3 11 3 11 3 11 3 10 3 11 3 11 4" class="rd"/><path d="M1576 3631l11-2 10-4 11-6 11-8 11-9 10-13 11-15 11-18 11-22 10-26 11-29 11-33 10-35 11-36 11-37 11-33 10-30 11-22 11-14 11-3 10 7 11 18 11 26 11 33 10 37 11 40 11 40 10 39 11 36 11 34 11 30 10 27 11 23 11 20 11 18 10 15 11 14 11 11 10 10 11 9 11 8 11 7 10 6 11 6 11 5 11 5 10 4 11 5 11 4" class="bl"/><path d="M1323 3652l10 4 11 4 11 4 11 4 10 5 11 5 11 5 10 5 11 6 11 5 11 6 10 6 11 6 11 6 11 5 10 5 11 4 11 4 10 2 11 2 11 1 11 1 10 1 11 0 11 1 11 0 10 1 11 1 11 1 11 1 10 2 11 2 11 2 10 3 11 2 11 3 11 2 10 3 11 3 11 3 11 3 10 3 11 3 11 3 11 4 10 3 11 3 11 3 10 3" class="rd"/><path d="M1323 3636l10-3 11-4 11-6 11-7 10-10 11-13 11-15 10-19 11-23 11-26 11-29 10-33 11-36 11-37 11-37 10-34 11-30 11-22 10-14 11-4 11 8 11 17 10 27 11 33 11 38 11 40 10 41 11 39 11 37 11 34 10 31 11 27 11 24 10 20 11 18 11 16 11 13 10 12 11 10 11 9 11 8 10 7 11 6 11 6 11 5 10 5 11 4 11 5 10 4" class="bl"/><path d="M1067 3656l11 4 11 4 10 3 11 4 11 5 11 4 10 4 11 5 11 4 11 5 10 4 11 5 11 4 10 4 11 4 11 4 11 3 10 3 11 2 11 2 11 2 10 2 11 2 11 1 10 2 11 2 11 3 11 2 10 2 11 3 11 3 11 2 10 3 11 3 11 3 11 3 10 3 11 3 11 3 10 4 11 3 11 3 11 3 10 3 11 4 11 3 11 3 10 3 11 4" class="rd"/><path d="M1067 3641l11-3 11-4 10-6 11-8 11-9 11-13 10-16 11-19 11-22 11-26 10-30 11-33 11-36 10-37 11-37 11-34 11-30 10-23 11-14 11-3 11 7 10 18 11 26 11 34 10 38 11 40 11 41 11 40 10 37 11 34 11 30 11 28 10 23 11 21 11 18 11 16 10 13 11 12 11 10 10 9 11 8 11 7 11 6 10 6 11 5 11 5 11 5 10 4 11 4" class="bl"/>
<path d="M3895 1053l0-801M3895 1053l495 172M4328 1046l0-802M4328 1046l496 172M4762 1038l0-801M4762 1038l495 172M5195 1030l0-800M5195 1030l495 172M5628 1023l0-801M5628 1023l496 172M6062 1016l0-802M6062 1016l495 172M3895 1053l2167-37M6062 1016l495 172M3895 786l2167-37M6062 749l495 172M3895 519l2167-37M6062 482l495 172M3895 252l2167-38M6062 214l495 172M6062 1016l0-802M3895 1053l2167-37M6309 1102l0-802M4143 1139l2166-37M6557 1188l0-802M4390 1225l2167-37" class="gr"/>
<path d="M3895 1053l0-801M3895 1053l495 172M4390 1225l2167-37M3895 1053l-50-12M3895 786l-50-12M3895 519l-50-12M3895 252l-50-12M3895 1053l-36 1M4143 1139l-36 1M4390 1225l-36 1M4390 1225l46 16M4824 1218l46 16M5257 1210l46 16M5690 1202l46 16M6124 1195l46 16M6557 1188l46 16" class="ax"/>
<g class="tk"><text x="3816" y="1061" text-anchor="end">-100</text><text x="3816" y="794" text-anchor="end">0</text><text x="3816" y="527" text-anchor="end">100</text><text x="3816" y="260" text-anchor="end">200</text><text x="3817" y="1132" text-anchor="end">-200</text><text x="4065" y="1210" text-anchor="end">0</text><text x="4312" y="1291" text-anchor="end">200</text><text x="4467" y="1314">2</text><text x="4901" y="1306">2.5</text><text x="5334" y="1299">3</text><text x="5767" y="1292">3.5</text><text x="6201" y="1284">4</text><text x="6634" y="1276">4.5</text></g>
<text transform="translate(3653 657) rotate(-90)" text-anchor="middle" class="al">Re(NLC)&#160; (fF)</text>
<text x="3694" y="1408" class="al">V<tspan font-size="66" dy="40">m</tspan><tspan dy="-40" dx="8"> (mV)</tspan></text>
<text x="5157" y="1471" class="al">F (10<tspan font-size="66" dy="-36">n</tspan><tspan dy="36"> Hz [LOG])</tspan></text>
<path d="M3895 2460l0-801M3895 2460l495 172M4328 2452l0-800M4328 2452l496 172M4762 2445l0-801M4762 2445l495 172M5195 2438l0-802M5195 2438l495 172M5628 2430l0-801M5628 2430l496 172M6062 2422l0-800M6062 2422l495 172M3895 2460l2167-38M6062 2422l495 172M3895 2193l2167-37M6062 2156l495 172M3895 1926l2167-37M6062 1889l495 171M3895 1659l2167-37M6062 1622l495 172M6062 2422l0-800M3895 2460l2167-38M6309 2508l0-800M4143 2546l2166-38M6557 2594l0-800M4390 2632l2167-38" class="gr"/>
<path d="M3895 2460l0-801M3895 2460l495 172M4390 2632l2167-38M3895 2460l-50-12M3895 2193l-50-12M3895 1926l-50-12M3895 1659l-50-12M3895 2460l-36 1M4143 2546l-36 1M4390 2632l-36 1M4390 2632l46 16M4824 2624l46 16M5257 2617l46 16M5690 2610l46 16M6124 2602l46 16M6557 2594l46 16" class="ax"/>
<g class="tk"><text x="3816" y="2468" text-anchor="end">-100</text><text x="3816" y="2201" text-anchor="end">0</text><text x="3816" y="1934" text-anchor="end">100</text><text x="3816" y="1667" text-anchor="end">200</text><text x="3817" y="2539" text-anchor="end">-200</text><text x="4065" y="2617" text-anchor="end">0</text><text x="4312" y="2698" text-anchor="end">200</text><text x="4467" y="2721">2</text><text x="4901" y="2713">2.5</text><text x="5334" y="2706">3</text><text x="5767" y="2698">3.5</text><text x="6201" y="2691">4</text><text x="6634" y="2683">4.5</text></g>
<text transform="translate(3653 2064) rotate(-90)" text-anchor="middle" class="al">Im(NLC)&#160; (fF)</text>
<text x="3694" y="2815" class="al">V<tspan font-size="66" dy="40">m</tspan><tspan dy="-40" dx="8"> (mV)</tspan></text>
<text x="5157" y="2878" class="al">F (10<tspan font-size="66" dy="-36">n</tspan><tspan dy="36"> Hz [LOG])</tspan></text>
<path d="M3897 3886l0-810M3897 3886l531 161M4323 3878l0-810M4323 3878l531 161M4749 3869l0-810M4749 3869l531 161M5174 3860l0-810M5174 3860l532 162M5600 3852l0-810M5600 3852l531 161M6026 3844l0-810M6026 3844l531 161M3897 3886l2129-42M6026 3844l531 161M3897 3616l2129-42M6026 3574l531 161M3897 3346l2129-42M6026 3304l531 161M3897 3076l2129-42M6026 3034l531 161M6026 3844l0-810M3897 3886l2129-42M6292 3924l0-810M4163 3967l2129-43M6557 4005l0-810M4428 4047l2129-42" class="gr"/>
<path d="M3897 3886l0-810M3897 3886l531 161M4428 4047l2129-42M3897 3886l-50-12M3897 3616l-50-12M3897 3346l-50-12M3897 3076l-50-12M3897 3886l-36 1M4163 3967l-36 1M4428 4047l-36 1M4428 4047l46 16M4854 4039l46 16M5280 4030l46 16M5706 4022l46 16M6131 4013l46 16M6557 4005l46 16" class="ax"/>
<g class="tk"><text x="3818" y="3894" text-anchor="end">-100</text><text x="3818" y="3624" text-anchor="end">0</text><text x="3818" y="3354" text-anchor="end">100</text><text x="3818" y="3084" text-anchor="end">200</text><text x="3819" y="3965" text-anchor="end">-200</text><text x="4085" y="4037" text-anchor="end">0</text><text x="4350" y="4113" text-anchor="end">200</text><text x="4505" y="4136">2</text><text x="4931" y="4128">2.5</text><text x="5357" y="4119">3</text><text x="5783" y="4111">3.5</text><text x="6208" y="4102">4</text><text x="6634" y="4094">4.5</text></g>
<text transform="translate(3655 3481) rotate(-90)" text-anchor="middle" class="al">Re(NLC) / Im(NLC) (fF)</text>
<text x="3716" y="4235" class="al">V<tspan font-size="66" dy="40">m</tspan><tspan dy="-40" dx="8"> (mV)</tspan></text>
<text x="5177" y="4288" class="al">F (10<tspan font-size="66" dy="-36">n</tspan><tspan dy="36"> Hz [LOG])</tspan></text>
<g opacity="0.6"><path d="M6060 744l49-21 50-60 49-37 46 25-50 30-49 49-50 16z" fill="url(#q120)"/><path d="M6014 742l50-27 49-71 50-45 61 36-49 34-50 56-49 20z" fill="url(#q119)"/><path d="M5969 740l49-33 50-82 49-53 62 36-50 43-49 67-50 25z" fill="url(#q118)"/><path d="M5923 738l50-38 49-94 50-61 61 36-49 51-50 78-49 31z" fill="url(#q117)"/><path d="M5878 736l49-44 50-104 49-68 62 35-50 58-49 89-50 37z" fill="url(#q116)"/><path d="M5832 734l50-49 49-114 50-75 61 33-49 65-50 101-50 41z" fill="url(#q115)"/><path d="M5787 732l49-53 50-123 49-81 62 29-50 73-49 111-50 47z" fill="url(#q114)"/><path d="M5741 731l50-57 49-131 50-87 61 26-49 79-50 120-50 52z" fill="url(#q113)"/><path d="M5696 730l49-61 50-138 49-92 62 23-50 85-49 129-50 56z" fill="url(#q112)"/><path d="M5650 729l50-63 49-144 50-96 61 19-49 90-50 136-50 59z" fill="url(#q111)"/><path d="M5605 729l49-66 50-149 49-100 62 16-50 95-49 142-50 63z" fill="url(#q110)"/><path d="M5559 729l50-69 49-153 50-102 61 13-49 98-50 148-50 65z" fill="url(#q109)"/><path d="M5514 728l49-69 50-157 49-105 62 11-50 101-49 152-50 68z" fill="url(#q108)"/><path d="M5468 728l50-71 49-159 50-107 61 9-49 104-50 155-50 69z" fill="url(#q107)"/><path d="M5423 729l49-73 50-161 49-109 62 7-50 106-49 159-50 70z" fill="url(#q106)"/><path d="M5377 729l50-73 49-163 50-110 61 5-49 108-50 161-50 72z" fill="url(#q105)"/><path d="M5332 729l49-74 50-164 49-111 62 4-50 109-50 163-49 73z" fill="url(#q104)"/><path d="M5286 730l50-75 49-165 50-112 61 3-49 110-50 165-50 73z" fill="url(#q103)"/><path d="M5241 730l49-74 50-167 49-112 62 2-50 111-50 165-49 75z" fill="url(#q102)"/><path d="M5195 731l50-75 49-168 50-112 61 1-49 112-50 166-50 75z" fill="url(#q101)"/><path d="M5150 732l49-76 50-168 49-113 62 1-50 112-50 168-49 75z" fill="url(#q100)"/><path d="M5104 732l50-75 49-169 50-113 61 0-49 113-50 168-50 75z" fill="url(#q99)"/><path d="M5059 733l49-76 50-169 49-113 62 0-50 113-50 168-49 76z" fill="url(#q98)"/><path d="M5013 734l50-76 49-169 50-114 61 0-49 113-50 169-50 76z" fill="url(#q97)"/><path d="M4968 735l49-77 50-169 49-114 62 0-50 113-50 169-49 77z" fill="url(#q96)"/><path d="M4922 735l50-76 49-170 50-114 61 0-49 114-50 169-50 76z" fill="url(#q95)"/><path d="M4877 736l49-76 50-170 49-114 62-1-50 114-50 170-49 76z" fill="url(#q94)"/><path d="M4831 737l50-77 49-169 50-115 61 0-50 114-49 169-50 77z" fill="url(#q93)"/><path d="M4786 738l49-77 50-170 49-114 62-1-50 114-50 170-49 77z" fill="url(#q92)"/><path d="M4740 738l50-76 49-170 50-115 61 0-50 114-49 170-50 76z" fill="url(#q91)"/><path d="M4695 739l49-76 50-170 49-115 62-1-50 115-50 170-49 76z" fill="url(#q90)"/><path d="M4649 740l50-77 49-170 50-114 61-1-50 114-49 170-50 77z" fill="url(#q89)"/><path d="M4604 741l49-77 50-170 49-114 62-1-50 114-50 170-49 77z" fill="url(#q88)"/><path d="M4558 741l50-76 49-170 50-115 61-1-50 115-49 170-50 76z" fill="url(#q87)"/><path d="M4513 742l49-76 50-170 49-115 62-1-50 115-50 170-49 76z" fill="url(#q86)"/><path d="M4467 743l50-77 49-170 50-114 61-1-50 114-49 170-50 77z" fill="url(#q85)"/><path d="M4422 744l49-77 50-170 49-115 62-1-50 115-50 170-49 77z" fill="url(#q84)"/><path d="M4376 745l50-77 49-170 50-115 61-1-50 115-49 170-50 76z" fill="url(#q83)"/><path d="M4331 745l49-76 50-170 49-115 61-1-49 115-50 170-49 76z" fill="url(#q82)"/><path d="M4285 746l50-77 49-170 50-114 61-1-50 114-49 170-50 77z" fill="url(#q81)"/></g>
<path d="M4505 771l8-2 9-4 9-4 8-5 9-8 9-8 8-11 9-13 9-16 8-18 9-21 9-23 8-27 9-28 9-30 8-32 9-31 9-29 8-27 9-23 9-17 8-9 9-2M4765 766l8-2 9-3 9-4 8-6 9-7 9-9 8-11 9-13 9-15 8-18 9-21 9-24 8-26 9-28 9-30 8-32 9-31 9-29 8-27 9-23 9-16 8-10 9-2M5023 762l8-2 9-3 9-5 8-5 9-7 9-9 8-11 9-13 9-15 8-18 9-21 9-23 8-26 9-28 9-30 8-31 9-31 9-30 8-27 9-22 9-16 8-10 9-2M5279 758l9-2 8-3 9-4 9-5 8-7 9-9 9-10 8-13 9-15 9-17 8-21 9-22 9-26 8-28 9-29 9-30 8-30 9-29 9-26 8-22 9-16 9-10 8-1M5546 755l9-2 8-2 9-4 9-4 8-6 9-8 9-10 8-11 9-14 9-16 8-18 9-21 9-23 8-25 9-27 9-28 8-27 9-26 9-24 8-20 9-15 9-8 8-1M5786 742l9-3 8-3 9-4 9-5 8-6 9-8 9-8 8-11 9-11 9-13 8-14 9-16 9-17 8-17 9-18 9-18 8-17 9-16 9-13 8-11 9-8 9-4 8 0M5935 738l9-2 9-3 8-3 9-4 9-4 8-6 9-6 9-8 8-8 9-9 9-9 8-10 9-11 9-11 8-11 9-11 9-9 8-9 9-8 9-5 8-4 9-1 9 1" class="bl"/>
<g opacity="0.6"><path d="M6208 626l50 71 49 95 50 55 49 31 50 22 45-1-49-21-50-29-49-50-50-84-49-64z" fill="url(#q120)"/><path d="M6163 599l49 79 50 106 49 61 50 33 49 22 62 0-50-22-49-30-50-54-49-90-50-69z" fill="url(#q119)"/><path d="M6117 572l50 87 49 117 50 67 49 35 50 23 61-1-49-22-50-32-49-59-50-102-49-77z" fill="url(#q118)"/><path d="M6072 545l49 95 50 128 49 73 50 37 49 23 62 0-50-23-49-34-50-65-49-113-50-85z" fill="url(#q117)"/><path d="M6026 520l50 102 49 139 50 78 49 39 50 24 61-1-49-23-50-36-49-71-50-124-49-92z" fill="url(#q116)"/><path d="M5981 496l49 110 50 148 49 83 50 41 49 25 62-1-50-24-49-38-50-77-49-134-50-100z" fill="url(#q115)"/><path d="M5935 475l50 116 49 157 50 88 49 42 50 25 61-1-49-24-50-40-49-82-50-145-49-107z" fill="url(#q114)"/><path d="M5890 456l49 121 50 166 49 91 50 44 49 26 62-1-50-25-49-42-50-86-49-154-50-114z" fill="url(#q113)"/><path d="M5844 439l50 127 49 172 50 95 49 45 50 26 61-1-49-25-50-43-49-90-50-163-49-120z" fill="url(#q112)"/><path d="M5799 426l49 130 50 179 49 98 50 46 49 26 62-1-50-26-49-44-50-94-49-170-50-125z" fill="url(#q111)"/><path d="M5753 414l50 134 49 184 50 100 49 47 50 27 61-1-49-27-50-45-49-97-50-177-49-129z" fill="url(#q110)"/><path d="M5708 405l49 137 50 187 49 103 50 47 49 27 62-1-50-26-49-47-50-99-49-182-50-133z" fill="url(#q109)"/><path d="M5662 397l50 140 49 190 50 105 49 48 50 27 61-1-49-27-50-47-49-102-50-186-49-136z" fill="url(#q108)"/><path d="M5617 391l49 141 50 194 49 106 50 48 49 28 62-1-50-27-49-48-50-104-49-190-50-138z" fill="url(#q107)"/><path d="M5571 386l50 143 49 196 50 107 49 49 50 27 61-1-49-27-50-48-49-106-50-192-49-141z" fill="url(#q106)"/><path d="M5526 383l49 144 50 198 49 107 50 50 49 27 62-1-50-27-49-49-50-107-49-195-50-142z" fill="url(#q105)"/><path d="M5480 380l50 145 49 199 50 109 49 49 50 28 61-1-49-28-50-49-49-107-50-197-49-144z" fill="url(#q104)"/><path d="M5435 378l49 146 50 200 49 109 50 50 49 28 62-1-50-28-49-50-50-108-49-198-50-145z" fill="url(#q103)"/><path d="M5389 377l50 146 49 201 50 110 49 50 50 27 61-1-49-27-50-50-49-109-50-200-49-145z" fill="url(#q102)"/><path d="M5344 376l49 147 50 202 49 109 50 50 49 28 62-1-50-27-49-51-50-109-49-201-50-146z" fill="url(#q101)"/><path d="M5298 375l50 147 49 203 50 110 49 50 50 28 61-1-49-28-50-50-49-110-50-201-49-147z" fill="url(#q100)"/><path d="M5253 375l49 147 50 203 49 111 50 50 49 28 62-1-50-28-49-50-50-110-49-202-50-148z" fill="url(#q99)"/><path d="M5207 375l50 148 49 203 50 110 49 51 50 28 61-1-49-28-50-51-49-110-50-203-49-147z" fill="url(#q98)"/><path d="M5162 375l49 148 50 203 49 111 50 50 49 28 62-1-50-28-49-50-50-110-49-203-50-148z" fill="url(#q97)"/><path d="M5116 375l50 148 49 204 50 111 49 50 50 28 61-1-49-28-50-50-49-111-50-203-49-148z" fill="url(#q96)"/><path d="M5071 375l49 149 50 204 49 110 50 51 49 28 62-1-50-28-49-51-50-110-49-204-50-148z" fill="url(#q95)"/><path d="M5025 376l50 148 49 204 50 111 49 51 50 28 61-1-49-28-50-51-49-111-50-203-49-149z" fill="url(#q94)"/><path d="M4980 376l49 149 50 204 49 111 50 51 49 27 62-1-50-27-49-51-50-111-49-204-50-148z" fill="url(#q93)"/><path d="M4934 377l50 149 49 204 50 111 49 50 50 28 61-1-49-28-50-50-49-111-50-204-49-149z" fill="url(#q92)"/><path d="M4889 377l49 149 50 205 49 111 50 50 49 28 62-1-50-28-49-51-50-110-49-205-50-148z" fill="url(#q91)"/><path d="M4843 378l50 149 49 204 50 111 49 51 50 28 61-1-49-28-50-51-49-111-50-204-49-149z" fill="url(#q90)"/><path d="M4798 379l49 149 50 204 49 111 50 51 49 28 62-1-50-28-49-51-50-111-49-204-50-149z" fill="url(#q89)"/><path d="M4752 380l50 148 49 205 50 111 49 51 50 27 61-1-49-28-50-50-49-111-50-205-49-148z" fill="url(#q88)"/><path d="M4707 380l49 149 50 205 49 111 50 50 49 28 62-1-50-28-49-50-50-111-49-205-50-149z" fill="url(#q87)"/><path d="M4661 381l50 149 49 204 50 111 49 51 50 28 61-1-49-28-50-51-49-111-50-204-49-149z" fill="url(#q86)"/><path d="M4616 382l49 149 50 204 49 111 50 51 49 28 62-1-50-28-49-51-50-111-49-204-50-149z" fill="url(#q85)"/><path d="M4570 382l50 149 49 205 50 111 49 51 50 28 61-2-49-27-50-51-49-111-50-205-49-149z" fill="url(#q84)"/><path d="M4525 383l49 149 50 205 49 111 50 50 49 28 62-1-50-28-49-50-50-111-49-205-50-149z" fill="url(#q83)"/><path d="M4479 384l50 149 49 205 50 111 49 50 50 28 61-1-49-28-50-51-49-111-50-204-50-149z" fill="url(#q82)"/><path d="M4434 385l49 149 50 204 49 111 50 51 49 28 62-1-50-28-49-51-50-111-49-204-50-149z" fill="url(#q81)"/></g>
<path d="M4505 771l8-2 9-4 9-4 8-5 9-8 9-8 8-11 9-13 9-16 8-18M4765 766l8-2 9-3 9-4 8-6 9-7 9-9 8-11 9-13 9-15 8-18M5023 762l8-2 9-3 9-5 8-5 9-7 9-9 8-11 9-13 9-15 8-18M5279 758l9-2 8-3 9-4 9-5 8-7 9-9 9-10 8-13 9-15 9-17 8-21M5546 755l9-2 8-2 9-4 9-4 8-6 9-8 9-10 8-11 9-14 9-16 8-18M5786 742l9-3 8-3 9-4 9-5 8-6 9-8 9-8 8-11 9-11 9-13 8-14M5935 738l9-2 9-3 8-3 9-4 9-4 8-6 9-6 9-8 8-8 9-9 9-9 8-10" class="bl" opacity="0.7"/>
<path d="M4591 682l9-21 9-23 8-27 9-28 9-30M4851 678l9-21 9-24 8-26 9-28 9-30M5109 674l9-21 9-23 8-26 9-28 9-30M5374 652l9-22 9-26 8-28 9-29M5641 660l9-21 9-23 8-25 9-27 9-28M5881 656l9-16 9-17 8-17 9-18 9-18 8-17M6039 666l9-11 9-11 8-11 9-11 9-9 8-9 9-8 9-5 8-4 9-1 9 1" class="bl" opacity="0.4"/>
<path d="M4342 745h1M4494 743h1M4603 741h1M4687 739h1M4755 738h1M4813 737h1M4863 736h1M4908 735h1M4947 735h1M4983 734h1M5016 734h1M5046 733h1M5074 733h1M5100 732h1M5124 732h1M5147 732h1M5169 733h1M5189 732h1M5208 731h1M5227 731h1M5244 730h1M5261 729h1M5277 727h1M4391 669h1M4544 666h1M4652 664h1M4736 663h1M4805 662h1M4863 661h1M4913 660h1M4957 659h1M4997 659h1M5033 658h1M5066 658h1M5096 657h1M5124 657h1M5150 657h1M5174 657h1M5197 656h1M5218 655h1M5239 653h1M5258 653h1M5276 655h1M5294 659h1M5311 661h1M5327 662h1M4441 498h1M4593 496h1M4702 494h1M4786 493h1M4854 492h1M4912 491h1M4963 490h1M5007 490h1M5047 489h1M5082 489h1M5115 489h1M5145 488h1M5173 488h1M5199 488h1M5223 487h1M5246 489h1M5268 488h1M5288 489h1M5307 486h1M5326 488h1M5343 486h1M5360 487h1M5376 487h1M4490 384h1M4643 381h1M4751 380h1M4835 378h1M4904 377h1M4962 376h1M5012 376h1M5056 375h1M5096 375h1M5132 375h1M5165 375h1M5195 375h1M5223 375h1M5249 375h1M5273 375h1M5296 376h1M5317 376h1M5338 377h1M5357 376h1M5375 377h1M5393 377h1M5410 377h1M5426 378h1M4540 533h1M4692 530h1M4801 528h1M4885 527h1M4953 526h1M5011 525h1M5062 525h1M5106 524h1M5146 524h1M5181 523h1M5214 523h1M5244 523h1M5272 522h1M5298 522h1M5322 521h1M5345 522h1M5367 522h1M5387 523h1M5406 523h1M5425 521h1M5442 520h1M5459 521h1M5475 522h1M4589 737h1M4742 735h1M4850 733h1M4934 731h1M5003 730h1M5061 729h1M5111 729h1M5155 728h1M5195 727h1M5231 727h1M5264 726h1M5294 726h1M5322 726h1M5348 726h1M5372 725h1M5395 725h1M5416 723h1M5437 724h1M5456 724h1M5474 725h1M5492 725h1M5509 724h1M5525 722h1M4639 848h1M4791 846h1M4900 844h1M4984 842h1M5052 841h1M5110 840h1M5161 839h1M5205 839h1M5245 838h1M5280 837h1M5313 837h1M5343 836h1M5371 836h1M5397 836h1M5422 836h1M5444 835h1M5466 835h1M5486 835h1M5505 834h1M5524 835h1M5541 833h1M5558 833h1M5574 831h1M4688 899h1M4841 896h1M4949 895h1M5033 893h1M5102 892h1M5160 891h1M5210 890h1M5254 889h1M5294 889h1M5330 888h1M5363 887h1M5393 887h1M5421 887h1M5447 886h1M5471 886h1M5494 885h1M5515 885h1M5536 884h1M5555 883h1M5573 884h1M5591 883h1M5608 883h1M5624 883h1M4738 927h1M4890 924h1M4999 922h1M5083 921h1M5151 920h1M5209 919h1M5260 918h1M5304 917h1M5344 916h1M5380 916h1M5412 915h1M5442 915h1M5470 914h1M5496 914h1M5521 913h1M5543 913h1M5565 913h1M5585 913h1M5605 913h1M5623 913h1M5640 912h1M5657 910h1M5673 910h1" class="dt"/><path d="M5244 730l17-1 16-2 15 0 15 2 14 0 14 3 13-1 13-1 12 0 12 0 12 2 11 0 11 1 11-1 10 0 10-2 19-7 19 6 17-1 17-2 16-2 15-3 15 6 14 7 14-5 13-7 13 1 12 2 12 0 12 4 11-8 11 1 11 19 10-13 10 5 14-5 14 2 14-2 13 4 13-9 12 13 12-4 11 1 11-4 11 6 11 2 10 2 13 4 13-7 12-10 12-3 12 14 11-2 11 5 10-8 11 4 10 14 12-10 12 14 11-19 11 16 11-14 11 13 10-5 12-19 11 9 11 10 11-2M5294 659l17 2 16 1 15-4 15 0 14-3 14 2 13 3 13 1 12-1 12-5 11-1 12-4 11 6 10 0 10 7 10 5 20-9 18-6 18-6 16 12 16 3 16-4 15-4 14 4 13 3 14-13 12 12 13 20 12-12 11-4 12 9 10-11 11 5 10 8 10 3 15-4 14 0 14-1 13 5 12-3 12 5 12-4 12-18 11 17 11 23 10-1 10-14 14-1 12 9 13 51 12-48 11 7 11-3 11 5 11 5 10 10 10-18 12 11 12-36 12 26 11 12 11 6 10 18 10-23 12 34 12-56 11 41 11-17M5343 486l17 1 16 0 15 1 15 3 14 1 14 1 13 0 13 0 12 3 12 2 12-4 11-2 11-2 11 4 10 1 10-5 19 1 19 8 17-3 17 3 16 21 15-7 15 1 14 2 14-16 13-1 13 9 12 13 12-3 12 15 11 5 11 7 11-6 10-1 10-1 14 8 15-16 13 19 13 8 13-19 12 12 12-6 11 13 11 9 11 10 11 11 10-1 13 20 13-25 12 29 12-26 12 13 11-8 11 34 10-26 11 20 10 1 12-8 12 54 11-39 11 15 11 24 11-31 10 40 12-6 11-10 11 21 11 3M5393 377l17 0 16 1 15 0 15 3 14 0 14 0 13-1 13 1 12 1 12 2 11 0 12 1 11 0 10 1 10 2 11 3 19-3 18 4 18 2 16 4 16 5 16 1 15 2 14 2 13 8 14-1 12 2 13 7 12 1 11 7 12 4 10-2 11 1 10 5 10 8 15 1 14 8 14 2 13-3 12 19 12 7 12 0 12 10 11 1 11 3 10 6 10 9 14 2 12 7 13 13 12-1 11 11 11 8 11 1 11 13 10 6 10 0 13 7 11 13 12 4 11-3 11 13 10 11 10 4 12 5 12 9 11 6 11-6M5442 520l17 1 16 1 15 3 15 2 14 1 14-5 13-1 13 2 12 4 12 1 12 7 11 0 11 5 11-10 10 6 10 0 19 4 19-1 17-10 17 8 16-1 15 1 15-3 14 8 14-4 13 6 13 12 12 0 12-9 12 12 11 7 11 0 11-13 10 13 10 12 15-21 14 17 13-11 13 27 13-2 12-7 12 16 11-11 11 14 11 23 11-10 10 6 13 3 13 3 12 9 12-8 12 14 11-12 11 18 11 22 10-4 10-11 12-3 12 36 11-29 11 26 11-32 11 49 10 13 12 12 11-43 11 33 11 23M5492 725l17-1 16-2 15-1 15 0 14-2 14 4 13 3 13 4 12-2 12 1 11 2 12 2 11-8 10 1 11-6 10 3 19 2 18 8 18 3 16-11 17 12 15-2 15-5 14 0 14 8 13-7 12-11 13 13 12 1 11 3 12 2 11 3 10 5 10 4 10-4 15-17 14 14 14-8 13 23 12-9 12 22 12-42 12 27 11 12 11 2 10-18 10-2 14 19 12-13 13 16 12-9 11-20 12-1 10 43 11-17 10 0 10-4 13-28 11 40 12 23 11-27 11 23 10-2 10-8 12 4 12 8 11-37 11 56M5541 833l17 0 16-2 15 2 15-1 14-1 14-2 13 0 13 2 12 0 12 3 12-3 11 0 11-5 11 3 10 1 10 1 19-1 19 2 17-1 17 1 16-3 15 3 15 0 14-7 14 5 13 10 13-10 12-8 12 16 12-1 11 0 11-6 11-1 10 1 10-2 15 1 14-3 13 5 13 7 13-6 12 13 12-2 11-14 11 8 11 3 11-15 10 7 13 0 13-1 12 4 12-8 12 5 11 15 11-10 11 2 10 7 10-20 12 6 12 4 11-6 11 24 11-29 11 37 10-29 12 10 11-9 11 9 11-5" class="dl"/><path d="M5591 883l17 0 16 0 15 0 15 0 14 1 14 2 13 3 13-3 12-3 12-2 12 0 11-2 11-2 10-2 11 4 10 1 19 2 18 0 18-3 17 5 16 1 15-5 15 0 14-6 14 2 13 0 13 1 12 2 12 1 11 6 12-5 11-3 10 3 10-1 11-5 14 4 14-1 14-2 13 9 12-1 13-4 11-6 12 10 11-13 11 13 10-4 10 14 14-15 12 4 13-4 12-2 11 4 12-1 10-1 11-1 10 12 10-11 13 4 11 0 12-3 11-17 11 13 10 13 10-11 12-1 12 2 11 2 11 12M5640 912l17-2 16 0 16 1 14 0 14 0 14-2 13-2 13-1 12 1 12 4 12-1 11-2 11-1 11 3 10 1 10-2 19-1 19 0 17-2 17 0 16 3 15 1 15-2 14-2 14-2 13-1 13 4 12-7 12 4 12 1 11-1 11-2 11 0 10-2 10 1 15-7 14 6 13 7 13-8 13 2 12 4 12 3 11-13 11 11 11 1 11-3 10-2 13-1 13-3 12 1 12-4 12 9 11 1 11-9 11-2 10 14 10-6 12 6 12-8 11-2 11 7 11 3 11-6 10-4 12 0 11-1 12-2 10 2" class="dk"/>
<path d="M4704 383l9 7 10 16 9 23 9 30 9 35 9 37 9 39 10 38 9 37 9 34 9 32 9 29 10 26 9 23 9 20 9 18 9 15 10 14 9 12 9 10 9 10 9 8 10 7 9 7 9 6 9 6 9 5 9 5 10 4 9 5 9 4 9 4 9 4M4964 379l9 7 9 16 10 23 9 30 9 35 9 37 9 39 10 38 9 37 9 34 9 32 9 29 10 26 9 22 9 21 9 17 9 16 9 14 10 11 9 11 9 9 9 9 9 7 10 7 9 6 9 5 9 6 9 4 10 5 9 4 9 4 9 4 9 4M5222 377l9 7 9 16 9 23 10 30 9 35 9 37 9 38 9 38 10 37 9 34 9 31 9 29 9 26 10 23 9 20 9 17 9 16 9 13 10 12 9 11 9 9 9 8 9 8 9 6 10 6 9 6 9 5 9 5 9 4 10 5 9 4 9 4 9 4M5478 383l10 6 9 16 9 23 9 29 9 34 10 36 9 38 9 37 9 36 9 34 10 31 9 28 9 25 9 22 9 20 9 17 10 16 9 13 9 12 9 10 9 9 10 8 9 8 9 6 9 6 9 6 10 5 9 5 9 4 9 4 9 4 10 4 9 4M5745 415l10 6 9 15 9 21 9 27 9 31 10 34 9 34 9 35 9 33 9 31 9 29 10 26 9 23 9 21 9 19 9 16 10 14 9 13 9 11 9 10 9 9 10 7 9 7 9 7 9 6 9 5 10 5 9 5 9 4 9 4 9 4 10 4 9 4M5985 501l10 5 9 10 9 14 9 17 9 20 10 23 9 24 9 24 9 25 9 23 10 23 9 22 9 19 9 19 9 17 10 15 9 14 9 13 9 11 9 11 9 9 10 8 9 8 9 7 9 7 9 6 10 6 9 5 9 5 9 4 9 5 10 4 9 4M6135 587l9 4 9 7 9 9 9 12 9 13 10 16 9 16 9 17 9 17 9 17 10 17 9 16 9 15 9 15 9 14 10 13 9 11 9 11 9 11 9 9 10 9 9 8 9 7 9 7 9 6 10 6 9 6 9 5 9 5 9 5 9 5 10 4 9 4" class="bl"/>
<path d="M4441 390l46-1 46-1 47 0 46-1 46-1 46-1 47-1 46 0 46-1 46-1 46-1 47 0 46-1 46-1 46-1 47 0 46-1 46-1 46 0 46-1 47 0 46-1 46 0 46 0 47 0 46 1 46 1 46 2 46 2 47 3 46 5 46 6 46 8 47 10 46 13 46 16 46 20 47 23 46 27" class="rl"/>
<circle cx="6209" cy="491" r="30" fill="#f41010"/>
<text x="5568" y="334" class="an">no G<tspan font-size="60" dy="38" dx="6">NL</tspan><tspan dy="-38"></tspan></text>
<g opacity="0.62"><path d="M6060 2214l49 71 50 105 49 88 46-5-50-86-49-104-50-70z" fill="url(#q160)"/><path d="M6014 2215l50 71 49 106 50 88 61-4-49-87-50-104-49-71z" fill="url(#q159)"/><path d="M5969 2212l49 71 50 107 49 90 62-1-50-87-49-106-50-71z" fill="url(#q158)"/><path d="M5923 2210l50 68 49 107 50 92 61 4-49-90-50-107-49-71z" fill="url(#q157)"/><path d="M5878 2207l49 66 50 104 49 94 62 8-50-92-49-107-50-69z" fill="url(#q156)"/><path d="M5832 2204l50 63 49 101 50 93 61 12-49-93-50-105-50-67z" fill="url(#q155)"/><path d="M5787 2201l49 59 50 98 49 91 62 16-50-93-49-103-50-64z" fill="url(#q154)"/><path d="M5741 2199l50 55 49 93 50 89 61 18-49-92-50-99-50-61z" fill="url(#q153)"/></g><g opacity="0.6"><path d="M5696 2197l49 51 50 87 49 86 46 15-50-89-49-93-50-55z" fill="url(#q152)"/><path d="M5650 2195l50 47 49 82 50 83 61 20-49-88-50-89-50-53z" fill="url(#q151)"/><path d="M5605 2193l49 44 50 76 49 79 62 20-50-84-49-84-50-49z" fill="url(#q150)"/></g><g opacity="0.56"><path d="M5559 2192l50 41 49 71 50 74 45 14-49-79-50-76-49-44z" fill="url(#q149)"/><path d="M5514 2192l49 38 50 66 49 69 62 18-50-76-49-73-50-42z" fill="url(#q148)"/><path d="M5468 2191l50 37 49 61 50 63 61 17-49-70-50-68-50-39z" fill="url(#q147)"/><path d="M5423 2191l49 35 50 56 49 59 62 16-50-65-49-63-50-38z" fill="url(#q146)"/></g><g opacity="0.52"><path d="M5377 2191l50 33 49 52 50 54 45 11-49-59-50-56-49-35z" fill="url(#q145)"/><path d="M5332 2191l49 31 50 49 49 50 62 13-50-56-50-54-49-33z" fill="url(#q144)"/><path d="M5286 2191l50 30 49 45 50 47 61 11-49-51-50-50-50-32z" fill="url(#q143)"/><path d="M5241 2191l49 28 50 43 49 43 62 10-50-47-50-47-49-30z" fill="url(#q142)"/></g><g opacity="0.48"><path d="M5195 2191l50 27 49 40 50 40 45 7-49-43-50-43-49-28z" fill="url(#q141)"/><path d="M5150 2191l49 26 50 37 49 38 62 9-50-42-50-40-49-28z" fill="url(#q140)"/><path d="M5104 2192l50 25 49 35 50 35 61 7-49-38-50-38-50-27z" fill="url(#q139)"/><path d="M5059 2192l49 24 50 33 49 34 62 6-50-37-50-35-49-25z" fill="url(#q138)"/></g><g opacity="0.45"><path d="M5013 2193l50 23 49 31 50 32 45 4-49-34-50-33-49-24z" fill="url(#q137)"/><path d="M4968 2193l49 23 50 29 49 30 62 5-50-32-50-32-49-24z" fill="url(#q136)"/><path d="M4922 2193l50 22 49 29 50 28 61 4-49-30-50-30-50-23z" fill="url(#q135)"/><path d="M4877 2194l49 21 50 27 49 28 62 3-50-29-50-28-49-23z" fill="url(#q134)"/><path d="M4831 2194l50 21 49 26 50 26 61 3-50-27-49-28-50-21z" fill="url(#q133)"/><path d="M4786 2195l49 21 50 24 49 26 62 2-50-26-50-27-49-21z" fill="url(#q132)"/><path d="M4740 2196l50 20 49 24 50 24 61 2-50-25-49-25-50-21z" fill="url(#q131)"/><path d="M4695 2196l49 20 50 23 49 24 62 2-50-25-50-24-49-21z" fill="url(#q130)"/><path d="M4649 2197l50 19 49 23 50 23 61 1-50-24-49-23-50-20z" fill="url(#q129)"/><path d="M4604 2198l49 19 50 22 49 22 62 1-50-23-50-23-49-19z" fill="url(#q128)"/><path d="M4558 2198l50 19 49 22 50 21 61 1-50-22-49-22-50-20z" fill="url(#q127)"/><path d="M4513 2199l49 19 50 21 49 21 62 0-50-21-50-22-49-19z" fill="url(#q126)"/><path d="M4467 2200l50 18 49 21 50 20 61 1-50-21-49-21-50-19z" fill="url(#q125)"/><path d="M4422 2200l49 19 50 20 49 20 62 0-50-20-50-21-49-19z" fill="url(#q124)"/><path d="M4376 2201l50 18 49 20 50 20 61 0-50-20-49-20-50-19z" fill="url(#q123)"/><path d="M4331 2202l49 18 50 19 49 20 61 0-49-20-50-20-49-18z" fill="url(#q122)"/><path d="M4285 2202l50 19 49 19 50 19 61 0-50-20-49-19-50-18z" fill="url(#q121)"/></g>
<path d="M4505 2184l9 3 9 4 9 3 9 4 10 3 9 4 9 4 9 4 9 4 9 4 9 4 10 4 9 4 9 4 9 3 9 4 9 3 10 4 9 3 9 2 9 3 9 3 9 2M4765 2180l9 3 9 4 9 4 9 4 9 3 10 4 9 5 9 4 9 4 9 5 9 5 10 4 9 5 9 5 9 5 9 4 9 5 9 4 10 3 9 3 9 3 9 2 9 2M5023 2176l9 4 9 4 9 4 9 4 9 4 9 4 10 5 9 5 9 5 9 6 9 6 9 6 10 6 9 6 9 6 9 7 9 6 9 6 9 5 10 4 9 4 9 3 9 2M5279 2173l9 4 9 4 10 4 9 4 9 5 9 5 9 6 9 5 9 7 10 6 9 8 9 7 9 9 9 8 9 9 10 10 9 9 9 9 9 9 9 8 9 7 9 5 10 4M5546 2171l9 5 9 5 10 5 9 5 9 7 9 6 9 8 9 8 9 8 10 10 9 11 9 12 9 12 9 14 9 14 9 15 10 15 9 14 9 14 9 12 9 10 9 7 10 5M5786 2170l9 6 9 5 10 7 9 6 9 8 9 8 9 10 9 10 9 12 10 12 9 15 9 16 9 17 9 19 9 19 10 21 9 20 9 20 9 19 9 17 9 13 9 10 10 5M5935 2169l9 5 10 6 9 7 9 7 9 8 9 9 9 9 9 12 10 12 9 14 9 15 9 17 9 19 9 20 9 21 10 22 9 22 9 22 9 20 9 18 9 14 10 11 9 5" class="bl"/>
<g opacity="0.64"><path d="M6208 2478l50-10 49-73 50-55 49-21 50 1 45-1-49-1-50 20-49 55-50 71-49 9z" fill="url(#q160)"/><path d="M6163 2480l49-10 50-73 49-56 50-21 49 1 62-1-50-1-49 20-50 55-49 73-50 9z" fill="url(#q159)"/><path d="M6117 2480l50-11 49-76 50-55 49-20 50 2 61 0-49 0-50 21-49 55-50 74-49 9z" fill="url(#q158)"/><path d="M6072 2477l49-12 50-77 49-54 50-17 49 3 62 0-50-1-49 20-50 55-49 76-50 11z" fill="url(#q157)"/><path d="M6026 2471l50-13 49-77 50-51 49-15 50 4 61 1-49-3-50 18-49 55-50 77-49 12z" fill="url(#q156)"/><path d="M5981 2461l49-12 50-76 49-48 50-12 49 6 62 1-50-5-49 16-50 53-49 77-50 12z" fill="url(#q155)"/><path d="M5935 2449l50-12 49-72 50-44 49-9 50 7 61 0-49-5-50 13-49 49-50 76-49 13z" fill="url(#q154)"/><path d="M5890 2436l49-12 50-68 49-39 50-7 49 9 62 0-50-7-49 11-50 45-49 73-50 13z" fill="url(#q153)"/></g><g opacity="0.62"><path d="M5844 2421l50-10 49-64 50-34 49-4 50 10 45 0-49-9-50 7-49 39-50 68-49 12z" fill="url(#q152)"/><path d="M5799 2407l49-9 50-59 49-30 50-1 49 11 62 0-50-10-49 5-50 36-49 66-50 11z" fill="url(#q151)"/><path d="M5753 2392l50-8 49-53 50-25 49 1 50 12 61 0-49-11-50 3-49 31-50 60-49 10z" fill="url(#q150)"/></g><g opacity="0.58"><path d="M5708 2378l49-6 50-47 49-21 50 3 49 13 46-1-50-12-49-1-50 25-49 53-50 8z" fill="url(#q149)"/><path d="M5662 2365l50-4 49-41 50-17 49 4 50 13 61-1-49-12-50-2-49 22-50 49-49 7z" fill="url(#q148)"/><path d="M5617 2352l49-1 50-36 49-13 50 5 49 14 62-1-50-13-49-4-50 19-49 43-50 4z" fill="url(#q147)"/><path d="M5571 2341l50 0 49-30 50-10 49 7 50 13 61 0-49-14-50-5-49 15-50 37-49 3z" fill="url(#q146)"/></g><g opacity="0.54"><path d="M5526 2330l49 3 50-25 49-8 50 8 49 14 46-1-50-13-49-7-50 10-49 30-50 0z" fill="url(#q145)"/><path d="M5480 2321l50 4 49-21 50-5 49 9 50 15 61-1-49-14-50-8-49 9-50 26-49-1z" fill="url(#q144)"/><path d="M5435 2313l49 5 50-17 49-2 50 10 49 14 62 0-50-15-49-8-50 5-49 22-50-3z" fill="url(#q143)"/><path d="M5389 2305l50 6 49-12 50-1 49 11 50 15 61-1-49-15-50-9-49 3-50 18-49-5z" fill="url(#q142)"/></g><g opacity="0.5"><path d="M5344 2298l49 8 50-9 49 1 50 11 49 16 46-1-50-15-49-11-50 1-49 12-50-6z" fill="url(#q141)"/><path d="M5298 2292l50 9 49-6 50 3 49 12 50 15 61 0-49-16-50-11-49-1-50 11-49-7z" fill="url(#q140)"/><path d="M5253 2287l49 10 50-4 49 5 50 12 49 16 62-1-50-15-49-12-50-3-49 8-50-9z" fill="url(#q139)"/><path d="M5207 2283l50 10 49-1 50 6 49 13 50 16 61-1-49-16-50-12-49-4-50 4-49-9z" fill="url(#q138)"/></g><g opacity="0.47"><path d="M5162 2279l49 11 50 1 49 7 50 14 49 16 46-1-50-16-49-13-50-6-49 1-50-10z" fill="url(#q137)"/><path d="M5116 2275l50 12 49 3 50 8 49 14 50 16 61-1-49-16-50-13-49-7-50 0-49-11z" fill="url(#q136)"/><path d="M5071 2272l49 13 50 4 49 9 50 15 49 16 62-1-50-16-49-14-50-8-49-2-50-12z" fill="url(#q135)"/><path d="M5025 2270l50 13 49 5 50 11 49 14 50 17 61-1-49-16-50-15-49-9-50-3-49-13z" fill="url(#q134)"/><path d="M4980 2267l49 14 50 7 49 11 50 15 49 17 62-1-50-17-49-14-50-10-49-6-50-13z" fill="url(#q133)"/><path d="M4934 2266l50 14 49 8 50 12 49 15 50 16 61-1-49-16-50-15-49-11-50-6-49-14z" fill="url(#q132)"/><path d="M4889 2264l49 14 50 10 49 12 50 15 49 17 62-1-50-17-49-15-50-11-49-8-50-14z" fill="url(#q131)"/><path d="M4843 2263l50 14 49 10 50 13 49 16 50 17 61-1-49-17-50-15-49-12-50-9-49-14z" fill="url(#q130)"/><path d="M4798 2262l49 15 50 11 49 13 50 16 49 17 62-1-50-17-49-16-50-13-49-9-50-15z" fill="url(#q129)"/><path d="M4752 2261l50 15 49 12 50 14 49 16 50 16 61-1-49-16-50-16-49-14-50-10-49-15z" fill="url(#q128)"/><path d="M4707 2260l49 16 50 12 49 14 50 16 49 17 62-1-50-17-49-16-50-13-49-12-50-15z" fill="url(#q127)"/><path d="M4661 2260l50 15 49 13 50 15 49 16 50 17 61-1-49-17-50-16-49-14-50-12-49-16z" fill="url(#q126)"/><path d="M4616 2259l49 16 50 13 49 15 50 17 49 17 62-1-50-17-49-16-50-15-49-13-50-15z" fill="url(#q125)"/><path d="M4570 2259l50 16 49 14 50 15 49 16 50 17 61-1-49-17-50-16-49-15-50-13-49-16z" fill="url(#q124)"/><path d="M4525 2259l49 16 50 14 49 16 50 16 49 17 62-1-50-17-49-16-50-15-49-14-50-16z" fill="url(#q123)"/><path d="M4479 2259l50 16 49 15 50 15 49 17 50 17 61-1-49-17-50-17-49-15-50-14-50-16z" fill="url(#q122)"/><path d="M4434 2259l49 16 50 15 49 16 50 17 49 17 62-1-50-17-49-17-50-15-49-15-50-16z" fill="url(#q121)"/></g>
<path d="M4342 2202h1M4494 2199h1M4603 2198h1M4687 2196h1M4755 2195h1M4813 2195h1M4863 2194h1M4908 2194h1M4947 2193h1M4983 2193h1M5016 2192h1M5046 2192h1M5074 2192h1M5100 2192h1M5124 2191h1M5147 2192h1M5169 2192h1M5189 2192h1M5208 2192h1M5227 2192h1M5244 2192h1M5261 2191h1M5277 2190h1M4391 2220h1M4544 2218h1M4652 2217h1M4736 2216h1M4805 2216h1M4863 2216h1M4913 2215h1M4957 2215h1M4997 2216h1M5033 2216h1M5066 2216h1M5096 2216h1M5124 2216h1M5150 2217h1M5174 2217h1M5197 2217h1M5218 2217h1M5239 2218h1M5258 2217h1M5276 2217h1M5294 2217h1M5311 2220h1M5327 2220h1M4441 2239h1M4593 2239h1M4702 2239h1M4786 2239h1M4854 2240h1M4912 2241h1M4963 2242h1M5007 2243h1M5047 2244h1M5082 2246h1M5115 2247h1M5145 2248h1M5173 2250h1M5199 2251h1M5223 2253h1M5246 2255h1M5268 2255h1M5288 2257h1M5307 2258h1M5326 2259h1M5343 2261h1M5360 2263h1M5376 2264h1M4490 2259h1M4643 2260h1M4751 2261h1M4835 2263h1M4904 2265h1M4962 2267h1M5012 2269h1M5056 2271h1M5096 2274h1M5132 2276h1M5165 2279h1M5195 2281h1M5223 2284h1M5249 2287h1M5273 2289h1M5296 2292h1M5317 2295h1M5338 2297h1M5357 2300h1M5375 2302h1M5393 2305h1M5410 2308h1M5426 2311h1M4540 2275h1M4692 2275h1M4801 2276h1M4885 2277h1M4953 2279h1M5011 2280h1M5062 2282h1M5106 2284h1M5146 2286h1M5181 2288h1M5214 2290h1M5244 2292h1M5272 2294h1M5298 2297h1M5322 2299h1M5345 2301h1M5367 2302h1M5387 2304h1M5406 2306h1M5425 2309h1M5442 2311h1M5459 2314h1M5475 2317h1M4589 2290h1M4742 2288h1M4850 2288h1M4934 2287h1M5003 2288h1M5061 2288h1M5111 2288h1M5155 2289h1M5195 2289h1M5231 2290h1M5264 2291h1M5294 2291h1M5322 2292h1M5348 2293h1M5372 2294h1M5395 2296h1M5416 2297h1M5437 2297h1M5456 2298h1M5474 2298h1M5492 2299h1M5509 2301h1M5525 2301h1M4639 2305h1M4791 2303h1M4900 2302h1M4984 2301h1M5052 2300h1M5110 2299h1M5161 2299h1M5205 2299h1M5245 2298h1M5280 2298h1M5313 2298h1M5343 2298h1M5371 2298h1M5397 2298h1M5422 2298h1M5444 2298h1M5466 2298h1M5486 2298h1M5505 2298h1M5524 2298h1M5541 2297h1M5558 2297h1M5574 2298h1M4688 2322h1M4841 2319h1M4949 2318h1M5033 2316h1M5102 2315h1M5160 2314h1M5210 2314h1M5254 2313h1M5294 2312h1M5330 2312h1M5363 2312h1M5393 2311h1M5421 2311h1M5447 2311h1M5471 2310h1M5494 2310h1M5515 2310h1M5536 2309h1M5555 2309h1M5573 2309h1M5591 2309h1M5608 2309h1M5624 2309h1M4738 2339h1M4890 2336h1M4999 2334h1M5083 2333h1M5151 2332h1M5209 2331h1M5260 2330h1M5304 2329h1M5344 2329h1M5380 2328h1M5412 2328h1M5442 2327h1M5470 2327h1M5496 2326h1M5521 2326h1M5543 2326h1M5565 2326h1M5585 2325h1M5605 2325h1M5623 2324h1M5640 2324h1M5657 2324h1M5673 2324h1" class="dt"/><path d="" class="dl"/><path d="M5244 2192l17-1 16-1 15 1 15 1 14-1 14 0 13 0 13 1 12-1 12-2 12 1 11 1 11 2 11 1 10 0 10 1 19-4 19 1 17 1 17 1 16-1 15 1 15-4 14-1 14 2 13 4 13 3 12-5 12-2 12 2 11 3 11-2 11 0 10 0 10-1 14 6 14-1 14 2 13 0 13 7 12-4 12-1 11 0 11 3 11-4 11 5 10 0 13 0 13 0 12 6 12-4 12 0 11 3 11 2 10-4 11 1 10 1 12 3 12-1 11-1 11 2 11 7 11-13 10 14 12-3 11-12 11 4 11 3M5294 2217l17 3 16 0 15 2 15 0 14-1 14-2 13 0 13 1 12 0 12 0 11 0 12 1 11 1 10 0 10 5 10 2 20 1 18 1 18-3 16-2 16 4 16 1 15 2 14 2 13 1 14-2 12-1 13 4 12 6 11 0 12 0 10-1 11-3 10 9 10-6 15 16 14 1 14-6 13 11 12-3 12 1 12-5 12 10 11 8 11-9 10-3 10 17 14-13 12 2 13 7 12 4 11-3 11 4 11-4 11 15 10-12 10 2 12 0 12 2 12 8 11 4 11-7 10-13 10 10 12-10 12 5 11 3 11 8M5343 2261l17 2 16 1 15 2 15 1 14 2 14 2 13 4 13 2 12 2 12-1 12 0 11 1 11 6 11 1 10-1 10-1 19 5 19 6 17 5 17-2 16 1 15 7 15 0 14-2 14 10 13 0 13 4 12 2 12 2 12 4 11 0 11 10 11 1 10 2 10-2 14 7 15 8 13-2 13 1 13 12 12-5 12 12 11-10 11 0 11 13 11-15 10 20 13-6 13 15 12 1 12 4 12-7 11-2 11 0 10-4 11 16 10-3 12 3 12-19 11 11 11 1 11 5 11-1 10-11 12 11 11 3 11 1 11-4M5393 2305l17 3 16 3 15 3 15 3 14 1 14 3 13 1 13 3 12 3 12 4 11 2 12 4 11 1 10 4 10 3 11 4 19 3 18 4 18 5 16 6 16 3 16 8 15 2 14 6 13 3 14 6 12 2 13 2 12 4 11 5 12 3 10 4 11 3 10 3 10 5 15 3 14 7 14 3 13 5 12 3 12 2 12 2 12 8 11 0 11 2 10 0 10 6 14 3 12 0 13 3 12 1 11 1 11 4 11-1 11 0 10 1 10 0 13 2 11-4 12 4 11 0 11-4 10 1 10-3 12 1 12-3 11 0 11-1M5442 2311l17 3 16 3 15 3 15 2 14 1 14 1 13 2 13 3 12 4 12 1 12 2 11 2 11 4 11 1 10 1 10 2 19 6 19 0 17 5 17 2 16 7 15 4 15 4 14 8 14-3 13 2 13 6 12 2 12 4 12 6 11 7 11 3 11-6 10 7 10 6 15 9 14-3 13 9 13-2 13 5 12 3 12-1 11 4 11 5 11 4 11 10 10-6 13 0 13 5 12 4 12 2 12 2 11 0 11-2 11 8 10-4 10 2 12-4 12 4 11-3 11-1 11 1 11 7 10 0 12-3 11-1 11 12 11-19M5492 2299l17 2 16 0 15 3 15-1 14 0 14 1 13 1 13 1 12 0 12 2 11 2 12 3 11-1 10 2 11-1 10 0 19-1 18 8 18-2 16-2 17 4 15 6 15 0 14 0 14 8 13 4 12 0 13 3 12 0 11 2 12 5 11 0 10 3 10 2 10-5 15 5 14 9 14-1 13 3 12-13 12 17 12-1 12 1 11 8 11-4 10 5 10 2 14-3 12 11 13 2 12-8 11 10 12-6 10 10 11-5 10-1 10 3 13 5 11-2 12 6 11-2 11 9 10-12 10-3 12 10 12-9 11 23 11-11M5541 2297l17 0 16 1 15 2 15 1 14-1 14 0 13 0 13 0 12 1 12 0 12 1 11-1 11 1 11-1 10 0 10 0 19 1 19 0 17 0 17 4 16 1 15-2 15-2 14-3 14 2 13 2 13 5 12-1 12 3 12-1 11 2 11-5 11 3 10 3 10 3 15-3 14 2 13 12 13-6 13 4 12 2 12-7 11 5 11 1 11-1 11 0 10 5 13 0 13-2 12 2 12 6 12-3 11 12 11-13 11 6 10-5 10 4 12 1 12 1 11-3 11 5 11-4 11-8 10 3 12 9 11 2 11-2 11 9M5591 2309l17 0 16 0 15 0 15 0 14 0 14-2 13 0 13 1 12 0 12-1 12-1 11 2 11 1 10-1 11-2 10 0 19 2 18 0 18 0 17-2 16 3 15 0 15-1 14-3 14 2 13-1 13 2 12-1 12-1 11 1 12-1 11 1 10 1 10 2 11 2 14-3 14-1 14 5 13-2 12-1 13 2 11 1 12-1 11 1 11 0 10-2 10 2 14-1 12 2 13 0 12 3 11-2 12 3 10-3 11 6 10-1 10-2 13 2 11 2 12-5 11 5 11 2 10 0 10-3 12-4 12 5 11-1 11-2M5640 2324l17 0 16 0 16-1 14-1 14-1 14 1 13 0 13 0 12 0 12 1 12 0 11 0 11-1 11 0 10 0 10 0 19-2 19 1 17 1 17 1 16-1 15-1 15 0 14-3 14 1 13 1 13-2 12-1 12 2 12 2 11-1 11 1 11 0 10-2 10 0 15 1 14 2 13-5 13 3 13 0 12-2 12 1 11-1 11 3 11 0 11-1 10 1 13-2 13 1 12-1 12-1 12-2 11 3 11 0 11-1 10 1 10-1 12 1 12 3 11-2 11 4 11-2 11-4 10 3 12 0 11-2 12 0 10-5" class="dk"/>
<path d="M4715 2264l9 2 9 2 9 3 9 2 9 3 8 2 9 2 9 3 9 3 9 2 9 3 9 3 8 3 9 3 9 3 9 2 9 3 9 3 8 3 9 3 9 3 9 3 9 3 9 4 9 3 8 3 9 3 9 3 9 3 9 3 9 3 9 3 8 3M4975 2270l9 2 9 2 9 1 9 2 8 1 9 2 9 2 9 1 9 2 9 2 9 3 8 2 9 2 9 3 9 3 9 2 9 3 9 3 8 3 9 3 9 2 9 3 9 3 9 3 9 3 8 3 9 3 9 3 9 3 9 3 9 3 9 4 8 3M5233 2288l9 2 9 0 9 1 8 0 9 0 9 0 9 0 9 0 9 1 9 0 8 1 9 1 9 2 9 1 9 2 9 2 9 2 8 3 9 2 9 3 9 2 9 3 9 3 9 3 8 3 9 2 9 3 9 3 9 3 9 3 8 3 9 3 9 3M5490 2325l8 3 9 1 9-1 9-1 9-3 9-2 9-3 8-3 9-3 9-2 9-2 9-2 9-1 9 0 8 0 9 0 9 1 9 1 9 1 9 2 9 2 8 2 9 2 9 2 9 3 9 2 9 3 8 3 9 3 9 3 9 2 9 3 9 3M5757 2393l8 2 9-1 9-4 9-5 9-7 9-8 8-8 9-8 9-8 9-7 9-6 9-6 9-5 8-3 9-3 9-2 9-1 9-1 9 0 9 0 8 1 9 2 9 1 9 2 9 2 9 2 9 2 8 3 9 2 9 3 9 3 9 2 9 3M5997 2465l8 1 9-3 9-7 9-9 9-12 9-13 9-14 8-13 9-13 9-13 9-11 9-9 9-9 9-7 8-5 9-5 9-3 9-3 9-1 9-1 9 0 8 0 9 1 9 1 9 1 9 2 9 2 8 2 9 2 9 3 9 2 9 3 9 3M6146 2484l9 1 8-3 9-8 9-11 9-13 9-14 9-16 9-15 8-15 9-13 9-13 9-11 9-9 9-8 8-6 9-6 9-4 9-3 9-2 9-1 9 0 8 0 9 0 9 1 9 1 9 2 9 2 9 2 8 2 9 2 9 3 9 3 9 2" class="bl"/>
<path d="M3971 1735h176" class="bl" style="stroke-width:20"/>
<text x="4160" y="1762" class="lg">2-state fit</text>
<path d="M5902 3587l10 6 11 6 11 7 11 8 10 9 11 10 11 12 11 13 10 15 11 16 11 19 10 20 11 22 11 24 11 24 10 24 11 23 11 21 11 16 10 12 11 7 11 0 11-5 10-10 11-13 11-17 10-17 11-18 11-17 11-16 10-14 11-12 11-10 11-9 10-6 11-5 11-4 10-3 11-1 11-1 11 0 10 1 11 1 11 2 11 2 10 2 11 2 11 2 11 3" class="rd"/><path d="M5902 3555l10-3 11-3 11-4 11-6 10-6 11-8 11-8 11-10 10-11 11-12 11-13 10-13 11-13 11-13 11-12 10-11 11-8 11-6 11-3 10 0 11 4 11 6 11 10 10 12 11 15 11 16 10 17 11 17 11 18 11 17 10 16 11 16 11 15 11 14 10 13 11 12 11 11 10 10 11 9 11 8 11 8 10 7 11 7 11 6 11 5 10 6 11 5 11 5 11 4" class="bl"/><path d="M5755 3589l11 6 11 6 10 7 11 7 11 9 11 9 10 11 11 12 11 14 11 15 10 17 11 19 11 21 10 22 11 22 11 22 11 22 10 19 11 15 11 11 11 7 10 0 11-4 11-9 11-12 10-15 11-15 11-16 10-16 11-14 11-12 11-11 10-9 11-8 11-5 11-5 10-3 11-2 11-1 10 0 11 0 11 1 11 1 10 2 11 2 11 2 11 3 10 2 11 3" class="rd"/><path d="M5755 3559l11-3 11-4 10-5 11-7 11-8 11-10 10-12 11-14 11-16 11-18 10-19 11-21 11-21 10-21 11-20 11-18 11-15 10-11 11-7 11-1 11 5 10 10 11 15 11 19 11 21 10 24 11 25 11 26 10 24 11 24 11 22 11 21 10 19 11 17 11 16 11 13 10 13 11 11 11 10 10 9 11 8 11 7 11 7 10 6 11 6 11 5 11 5 10 5 11 4" class="bl"/><path d="M5519 3590l11 5 11 5 10 6 11 6 11 7 11 7 10 9 11 9 11 10 11 12 10 12 11 14 11 15 11 16 10 16 11 16 11 15 10 14 11 12 11 8 11 5 10 2 11-2 11-5 11-7 10-9 11-9 11-10 11-9 10-8 11-8 11-6 10-5 11-4 11-3 11-2 10-1 11 0 11 1 11 0 10 2 11 1 11 2 11 2 10 3 11 2 11 3 10 3 11 3" class="rd"/><path d="M5519 3573l11-2 11-3 10-5 11-6 11-9 11-11 10-13 11-16 11-20 11-23 10-26 11-29 11-31 11-32 10-32 11-30 11-26 10-20 11-12 11-3 11 6 10 16 11 23 11 30 11 34 10 35 11 36 11 35 11 33 10 31 11 27 11 24 10 22 11 18 11 16 11 15 10 12 11 10 11 10 11 8 10 7 11 7 11 6 11 6 10 5 11 4 11 5 10 4 11 4" class="bl"/><path d="M5257 3593l11 4 10 4 11 4 11 5 11 5 10 6 11 6 11 6 11 7 10 8 11 8 11 9 11 10 10 10 11 10 11 10 10 10 11 8 11 8 11 6 10 4 11 3 11 0 11-1 10-2 11-3 11-4 11-4 10-3 11-3 11-2 10-2 11-1 11-1 11 0 10 1 11 1 11 1 11 2 10 2 11 2 11 2 10 3 11 3 11 2 11 3 10 3 11 3 11 3" class="rd"/><path d="M5257 3577l11-3 10-3 11-6 11-7 11-10 10-12 11-14 11-18 11-22 10-25 11-28 11-32 11-34 10-35 11-35 11-33 10-29 11-22 11-13 11-3 10 7 11 17 11 25 11 32 10 37 11 39 11 39 11 38 10 35 11 33 11 30 10 26 11 23 11 20 11 17 10 15 11 13 11 11 11 10 10 9 11 7 11 7 10 6 11 6 11 5 11 5 10 5 11 4 11 4" class="bl"/><path d="M5005 3597l11 3 10 4 11 5 11 4 11 4 10 5 11 5 11 6 11 5 10 7 11 6 11 7 10 6 11 7 11 7 11 6 10 6 11 5 11 4 11 3 10 2 11 2 11 0 11 0 10 0 11 0 11 0 10 0 11 0 11 0 11 1 10 1 11 2 11 2 11 2 10 2 11 2 11 3 10 2 11 3 11 3 11 3 10 3 11 3 11 3 11 3 10 3 11 4 11 3" class="rd"/><path d="M5005 3582l11-3 10-4 11-6 11-7 11-10 10-12 11-15 11-19 11-22 10-25 11-29 11-33 10-35 11-36 11-36 11-33 10-30 11-22 11-13 11-4 10 8 11 17 11 26 11 33 10 37 11 39 11 40 10 39 11 36 11 34 11 30 10 26 11 24 11 20 11 17 10 16 11 13 11 11 10 10 11 9 11 8 11 7 10 6 11 6 11 5 11 5 10 4 11 5 11 4" class="bl"/><path d="M4752 3601l10 4 11 3 11 4 11 4 10 4 11 5 11 4 10 5 11 4 11 5 11 5 10 5 11 5 11 5 11 5 10 4 11 4 11 4 10 2 11 3 11 2 11 2 10 1 11 2 11 1 11 2 10 1 11 2 11 2 11 2 10 3 11 2 11 3 10 2 11 3 11 3 11 3 10 3 11 3 11 3 11 3 10 3 11 3 11 4 11 3 10 3 11 3 11 3 10 4" class="rd"/><path d="M4752 3586l10-2 11-4 11-6 11-8 10-9 11-13 11-15 10-18 11-22 11-26 11-29 10-33 11-35 11-36 11-37 10-33 11-30 11-22 10-14 11-3 11 7 11 18 10 26 11 33 11 37 11 40 10 40 11 39 11 36 11 34 10 30 11 27 11 23 10 20 11 18 11 15 11 14 10 11 11 10 11 9 11 8 10 7 11 6 11 6 11 5 10 5 11 5 11 4 10 4" class="bl"/><path d="M4496 3605l11 4 11 4 10 3 11 4 11 4 11 4 10 4 11 4 11 4 11 4 10 4 11 4 11 4 10 4 11 4 11 3 11 3 10 3 11 3 11 3 11 2 10 2 11 3 11 2 10 2 11 3 11 3 11 2 10 3 11 3 11 3 11 3 10 3 11 3 11 3 11 3 10 3 11 3 11 3 10 4 11 3 11 3 11 3 10 3 11 4 11 3 11 3 10 3 11 4" class="rd"/><path d="M4496 3591l11-2 11-4 10-6 11-8 11-9 11-13 10-15 11-18 11-23 11-25 10-30 11-32 11-35 10-37 11-36 11-34 11-29 10-23 11-13 11-4 11 8 10 17 11 26 11 33 10 38 11 39 11 41 11 38 10 37 11 34 11 30 11 27 10 23 11 20 11 18 11 16 10 13 11 11 11 10 10 9 11 8 11 7 11 6 10 6 11 5 11 5 11 5 10 4 11 4" class="bl"/>
<path d="M456 5703l0-801M456 5703l495 172M889 5696l0-802M889 5696l496 172M1323 5688l0-801M1323 5688l495 172M1756 5680l0-800M1756 5680l495 172M2189 5673l0-801M2189 5673l496 172M2623 5666l0-802M2623 5666l495 172M456 5703l2167-37M2623 5666l495 172M456 5436l2167-38M2623 5398l495 172M456 5169l2167-37M2623 5132l495 172M456 4902l2167-38M2623 4864l495 172M2623 5666l0-802M456 5703l2167-37M2870 5752l0-802M704 5789l2166-37M3118 5838l0-802M951 5875l2167-37" class="gr"/>
<path d="M456 5703l0-801M456 5703l495 172M951 5875l2167-37M456 5703l-50-12M456 5436l-50-12M456 5169l-50-12M456 4902l-50-12M456 5703l-36 1M704 5789l-36 1M951 5875l-36 1M951 5875l46 16M1385 5868l46 16M1818 5860l46 16M2251 5852l46 16M2685 5845l46 16M3118 5838l46 16" class="ax"/>
<g class="tk"><text x="377" y="5711" text-anchor="end">-100</text><text x="377" y="5444" text-anchor="end">0</text><text x="377" y="5177" text-anchor="end">100</text><text x="377" y="4910" text-anchor="end">200</text><text x="378" y="5782" text-anchor="end">-200</text><text x="626" y="5859" text-anchor="end">0</text><text x="873" y="5941" text-anchor="end">200</text><text x="1028" y="5964">2</text><text x="1462" y="5956">2.5</text><text x="1895" y="5949">3</text><text x="2328" y="5942">3.5</text><text x="2762" y="5934">4</text><text x="3195" y="5926">4.5</text></g>
<text transform="translate(214 5307) rotate(-90)" text-anchor="middle" class="al">Re(NLC)&#160; (fF)</text>
<text x="255" y="6058" class="al">V<tspan font-size="66" dy="40">m</tspan><tspan dy="-40" dx="8"> (mV)</tspan></text>
<text x="1718" y="6121" class="al">F (10<tspan font-size="66" dy="-36">n</tspan><tspan dy="36"> Hz [LOG])</tspan></text>
<path d="M456 7107l0-801M456 7107l495 172M889 7100l0-802M889 7100l496 172M1323 7092l0-801M1323 7092l495 172M1756 7084l0-800M1756 7084l495 173M2189 7077l0-801M2189 7077l496 172M2623 7070l0-802M2623 7070l495 172M456 7107l2167-37M2623 7070l495 172M456 6840l2167-38M2623 6802l495 172M456 6573l2167-37M2623 6536l495 172M456 6306l2167-38M2623 6268l495 173M2623 7070l0-802M456 7107l2167-37M2870 7156l0-802M704 7193l2166-37M3118 7242l0-801M951 7279l2167-37" class="gr"/>
<path d="M456 7107l0-801M456 7107l495 172M951 7279l2167-37M456 7107l-50-12M456 6840l-50-12M456 6573l-50-12M456 6306l-50-12M456 7107l-36 1M704 7193l-36 1M951 7279l-36 1M951 7279l46 16M1385 7272l46 16M1818 7264l46 16M2251 7257l46 16M2685 7249l46 16M3118 7242l46 16" class="ax"/>
<g class="tk"><text x="377" y="7115" text-anchor="end">-100</text><text x="377" y="6848" text-anchor="end">0</text><text x="377" y="6581" text-anchor="end">100</text><text x="377" y="6314" text-anchor="end">200</text><text x="378" y="7186" text-anchor="end">-200</text><text x="626" y="7264" text-anchor="end">0</text><text x="873" y="7345" text-anchor="end">200</text><text x="1028" y="7368">2</text><text x="1462" y="7361">2.5</text><text x="1895" y="7353">3</text><text x="2328" y="7346">3.5</text><text x="2762" y="7338">4</text><text x="3195" y="7331">4.5</text></g>
<text transform="translate(214 6711) rotate(-90)" text-anchor="middle" class="al">Im(NLC)&#160; (fF)</text>
<text x="255" y="7462" class="al">V<tspan font-size="66" dy="40">m</tspan><tspan dy="-40" dx="8"> (mV)</tspan></text>
<text x="1718" y="7525" class="al">F (10<tspan font-size="66" dy="-36">n</tspan><tspan dy="36"> Hz [LOG])</tspan></text>
<path d="M459 8533l0-810M459 8533l531 161M885 8524l0-810M885 8524l531 162M1311 8516l0-810M1311 8516l531 161M1736 8508l0-810M1736 8508l532 161M2162 8499l0-810M2162 8499l531 161M2588 8490l0-810M2588 8490l531 162M459 8533l2129-43M2588 8490l531 162M459 8263l2129-43M2588 8220l531 162M459 7993l2129-43M2588 7950l531 162M459 7723l2129-43M2588 7680l531 162M2588 8490l0-810M459 8533l2129-43M2854 8571l0-810M725 8614l2129-43M3119 8652l0-810M990 8694l2129-42" class="gr"/>
<path d="M459 8533l0-810M459 8533l531 161M990 8694l2129-42M459 8533l-50-12M459 8263l-50-12M459 7993l-50-12M459 7723l-50-12M459 8533l-36 1M725 8614l-36 1M990 8694l-36 1M990 8694l46 16M1416 8686l46 16M1842 8677l46 16M2268 8669l46 16M2693 8660l46 16M3119 8652l46 16" class="ax"/>
<g class="tk"><text x="380" y="8541" text-anchor="end">-100</text><text x="380" y="8271" text-anchor="end">0</text><text x="380" y="8001" text-anchor="end">100</text><text x="380" y="7731" text-anchor="end">200</text><text x="381" y="8612" text-anchor="end">-200</text><text x="647" y="8684" text-anchor="end">0</text><text x="912" y="8760" text-anchor="end">200</text><text x="1067" y="8783">2</text><text x="1493" y="8775">2.5</text><text x="1919" y="8766">3</text><text x="2345" y="8758">3.5</text><text x="2770" y="8749">4</text><text x="3196" y="8741">4.5</text></g>
<text transform="translate(217 8128) rotate(-90)" text-anchor="middle" class="al">Re(NLC) / Im(NLC) (fF)</text>
<text x="278" y="8882" class="al">V<tspan font-size="66" dy="40">m</tspan><tspan dy="-40" dx="8"> (mV)</tspan></text>
<text x="1739" y="8935" class="al">F (10<tspan font-size="66" dy="-36">n</tspan><tspan dy="36"> Hz [LOG])</tspan></text>
<g opacity="0.6"><path d="M2621 5404l49-2 50-21 49-10 46 16-50 5-49 15-50-2z" fill="url(#q200)"/><path d="M2575 5403l50-6 49-30 50-15 61 25-49 8-50 19-49 1z" fill="url(#q199)"/><path d="M2530 5401l49-10 50-39 49-21 62 28-50 13-49 27-50 4z" fill="url(#q198)"/><path d="M2484 5400l50-16 49-48 50-29 61 31-49 20-50 35-49 9z" fill="url(#q197)"/><path d="M2439 5398l49-21 50-59 49-37 62 34-50 27-49 44-50 14z" fill="url(#q196)"/><path d="M2393 5395l50-26 49-70 50-44 61 36-49 33-50 55-50 19z" fill="url(#q195)"/><path d="M2348 5393l49-32 50-81 49-52 62 36-50 42-49 66-50 24z" fill="url(#q194)"/><path d="M2302 5391l50-38 49-92 50-60 61 36-49 50-50 77-50 30z" fill="url(#q193)"/><path d="M2257 5389l49-43 50-103 49-68 62 35-50 58-49 88-50 36z" fill="url(#q192)"/><path d="M2211 5387l50-48 49-113 50-75 61 33-49 65-50 100-50 41z" fill="url(#q191)"/><path d="M2166 5386l49-53 50-122 49-81 62 30-50 72-49 110-50 46z" fill="url(#q190)"/><path d="M2120 5384l50-56 49-131 50-86 61 26-49 79-50 119-50 51z" fill="url(#q189)"/><path d="M2075 5383l49-60 50-137 49-92 62 23-50 85-49 127-50 56z" fill="url(#q188)"/><path d="M2029 5383l50-64 49-143 50-96 61 20-49 90-50 135-50 59z" fill="url(#q187)"/><path d="M1984 5382l49-66 50-148 49-100 62 17-50 94-49 142-50 62z" fill="url(#q186)"/><path d="M1938 5382l50-68 49-153 50-102 61 13-49 98-50 147-50 65z" fill="url(#q185)"/><path d="M1893 5382l49-70 50-156 49-105 62 11-50 101-50 152-49 67z" fill="url(#q184)"/><path d="M1847 5382l50-71 49-159 50-107 61 8-49 105-50 155-50 69z" fill="url(#q183)"/><path d="M1802 5382l49-72 50-162 49-108 62 7-50 106-50 158-49 71z" fill="url(#q182)"/><path d="M1756 5382l50-73 49-163 50-110 61 6-49 107-50 161-50 72z" fill="url(#q181)"/><path d="M1711 5383l49-74 50-165 49-111 62 4-50 110-50 162-49 73z" fill="url(#q180)"/><path d="M1665 5383l50-74 49-166 50-112 61 3-49 111-50 164-50 73z" fill="url(#q179)"/><path d="M1620 5384l49-75 50-167 49-112 62 2-50 111-50 166-49 74z" fill="url(#q178)"/><path d="M1574 5384l50-75 49-167 50-113 61 1-49 112-50 167-50 74z" fill="url(#q177)"/><path d="M1529 5385l49-76 50-168 49-113 62 1-50 113-50 167-49 75z" fill="url(#q176)"/><path d="M1483 5386l50-76 49-169 50-113 61 0-49 113-50 168-50 76z" fill="url(#q175)"/><path d="M1438 5386l49-76 50-169 49-113 62 0-50 113-50 169-49 75z" fill="url(#q174)"/><path d="M1392 5387l50-76 49-169 50-114 61 0-50 113-49 169-50 76z" fill="url(#q173)"/><path d="M1347 5388l49-77 50-169 49-114 62 0-50 114-50 169-49 76z" fill="url(#q172)"/><path d="M1301 5388l50-76 49-169 50-115 61 0-50 114-49 169-50 76z" fill="url(#q171)"/><path d="M1256 5389l49-76 50-170 49-114 62-1-50 114-50 170-49 76z" fill="url(#q170)"/><path d="M1210 5390l50-77 49-169 50-115 61 0-50 114-49 170-50 76z" fill="url(#q169)"/><path d="M1165 5391l49-77 50-170 49-114 62-1-50 115-50 169-49 77z" fill="url(#q168)"/><path d="M1119 5391l50-76 49-170 50-114 61-1-50 114-49 170-50 76z" fill="url(#q167)"/><path d="M1074 5392l49-76 50-170 49-115 62-1-50 115-50 170-49 76z" fill="url(#q166)"/><path d="M1028 5393l50-77 49-170 50-114 61-1-50 115-49 169-50 77z" fill="url(#q165)"/><path d="M983 5394l49-77 50-170 49-114 62-1-50 114-50 170-49 77z" fill="url(#q164)"/><path d="M937 5395l50-77 49-170 50-115 61-1-50 115-49 170-50 77z" fill="url(#q163)"/><path d="M892 5395l49-76 50-170 49-115 61-1-49 115-50 170-49 76z" fill="url(#q162)"/><path d="M846 5396l50-76 49-171 50-114 61-1-50 114-49 170-50 77z" fill="url(#q161)"/></g>
<path d="M1066 5410l8-2 9-3 9-4 8-5 9-7 9-9 8-11 9-13 9-15 8-18 9-20 9-24 8-26 9-28 9-30 8-30 9-31 9-30 8-26 9-22 9-17 8-9 9-2M1326 5406l8-2 9-3 9-4 8-6 9-7 9-8 8-11 9-13 9-15 8-18 9-20 9-23 8-26 9-28 9-30 8-31 9-30 9-30 8-26 9-22 9-17 8-9 9-2M1584 5402l8-2 9-3 9-4 8-6 9-6 9-9 8-10 9-13 9-15 8-17 9-20 9-23 8-26 9-27 9-29 8-31 9-30 9-29 8-26 9-21 9-17 8-9 9-2M1840 5399l9-2 8-3 9-3 9-5 8-7 9-7 9-10 8-12 9-14 9-16 8-19 9-22 9-24 8-26 9-27 9-29 8-28 9-27 9-25 8-20 9-15 9-9 8-2M2107 5398l9-1 8-1 9-3 9-3 8-5 9-6 9-7 8-10 9-11 9-13 8-15 9-17 9-19 8-20 9-22 9-23 8-23 9-22 9-19 8-16 9-12 9-7 8-1M2347 5392l9 0 8-2 9-1 9-3 8-3 9-4 9-4 8-6 9-7 9-7 8-9 9-9 9-10 8-11 9-11 9-11 8-10 9-10 9-8 8-6 9-4 9-2 8 1M2496 5392l9 1 9 0 8-1 9-1 9-1 8-2 9-2 9-2 8-3 9-4 9-4 8-4 9-5 9-5 8-5 9-4 9-4 8-4 9-3 9-2 8-1 9 1 9 1" class="bl"/>
<g opacity="0.6"><path d="M2769 5371l50 44 49 56 50 36 49 25 50 19 45-1-49-19-50-23-49-33-50-49-49-39z" fill="url(#q200)"/><path d="M2724 5352l49 50 50 64 49 40 50 26 49 20 62-1-50-20-49-23-50-35-49-54-50-42z" fill="url(#q199)"/><path d="M2678 5331l50 56 49 73 50 45 49 27 50 20 61-1-49-19-50-25-49-39-50-61-49-48z" fill="url(#q198)"/><path d="M2633 5307l49 63 50 83 49 50 50 29 49 21 62-1-50-20-49-27-50-43-49-70-50-54z" fill="url(#q197)"/><path d="M2587 5281l50 71 49 93 50 56 49 31 50 21 61-1-49-20-50-29-49-48-50-79-49-61z" fill="url(#q196)"/><path d="M2542 5255l49 78 50 105 49 61 50 32 49 23 62-1-50-21-49-30-50-54-49-89-50-68z" fill="url(#q195)"/><path d="M2496 5228l50 86 49 116 50 67 49 34 50 23 61-1-49-21-50-33-49-58-50-101-49-76z" fill="url(#q194)"/><path d="M2451 5201l49 94 50 127 49 72 50 37 49 24 62-1-50-23-49-34-50-64-49-112-50-84z" fill="url(#q193)"/><path d="M2405 5175l50 102 49 138 50 77 49 39 50 24 61-1-49-23-50-36-49-70-50-123-49-92z" fill="url(#q192)"/><path d="M2360 5151l49 109 50 148 49 83 50 40 49 25 62-1-50-24-49-38-50-76-49-134-50-99z" fill="url(#q191)"/><path d="M2314 5130l50 115 49 157 50 87 49 42 50 25 61 0-49-25-50-40-49-81-50-144-49-106z" fill="url(#q190)"/><path d="M2269 5111l49 121 50 164 49 92 50 43 49 26 62-1-50-25-49-42-50-85-49-154-50-113z" fill="url(#q189)"/><path d="M2223 5094l50 126 49 172 50 95 49 44 50 26 61 0-49-26-50-43-49-90-50-162-49-119z" fill="url(#q188)"/><path d="M2178 5080l49 130 50 178 49 98 50 46 49 26 62-1-50-26-49-44-50-94-49-169-50-124z" fill="url(#q187)"/><path d="M2132 5068l50 134 49 183 50 100 49 47 50 27 61-1-49-26-50-46-49-97-50-175-49-129z" fill="url(#q186)"/><path d="M2087 5059l49 136 50 188 49 102 50 48 49 26 62 0-50-27-49-47-50-99-49-181-50-133z" fill="url(#q185)"/><path d="M2041 5051l50 139 49 191 50 104 49 48 50 27 61-1-49-27-50-47-49-102-50-185-49-136z" fill="url(#q184)"/><path d="M1996 5045l49 141 50 193 49 106 50 49 49 27 62-1-50-27-49-48-50-104-49-189-50-139z" fill="url(#q183)"/><path d="M1950 5040l50 143 49 195 50 107 49 49 50 28 61-1-49-28-50-48-49-105-50-193-49-140z" fill="url(#q182)"/><path d="M1905 5036l49 144 50 198 49 107 50 50 49 27 62-1-50-27-49-49-50-106-49-195-50-142z" fill="url(#q181)"/><path d="M1859 5033l50 146 49 199 50 108 49 50 50 27 61-1-49-27-50-50-49-107-50-197-49-144z" fill="url(#q180)"/><path d="M1814 5031l49 146 50 200 49 109 50 50 49 28 62-1-50-28-49-49-50-108-49-199-50-145z" fill="url(#q179)"/><path d="M1768 5030l50 146 49 202 50 109 49 50 50 28 61-1-49-28-50-50-49-109-50-199-49-146z" fill="url(#q178)"/><path d="M1723 5029l49 147 50 202 49 109 50 51 49 27 62-1-50-27-49-50-50-110-49-200-50-147z" fill="url(#q177)"/><path d="M1677 5028l50 148 49 202 50 110 49 50 50 28 61-1-49-28-50-50-49-109-50-202-49-147z" fill="url(#q176)"/><path d="M1632 5028l49 148 50 203 49 110 50 50 49 28 62-1-50-28-49-50-50-110-49-202-50-148z" fill="url(#q175)"/><path d="M1586 5028l50 148 49 203 50 110 49 51 50 28 61-1-49-28-50-51-49-110-50-202-49-148z" fill="url(#q174)"/><path d="M1541 5028l49 148 50 204 49 110 50 51 49 27 62-1-50-27-49-51-50-110-49-203-50-148z" fill="url(#q173)"/><path d="M1495 5028l50 149 49 203 50 111 49 50 50 28 61-1-49-28-50-50-49-111-50-203-49-148z" fill="url(#q172)"/><path d="M1450 5028l49 149 50 204 49 111 50 50 49 28 62-1-50-28-49-50-50-111-49-204-50-148z" fill="url(#q171)"/><path d="M1404 5029l50 149 49 204 50 110 49 51 50 28 61-1-49-28-50-51-49-110-50-204-49-149z" fill="url(#q170)"/><path d="M1359 5029l49 149 50 204 49 111 50 51 49 28 62-1-50-28-49-51-50-111-49-204-50-148z" fill="url(#q169)"/><path d="M1313 5030l50 149 49 204 50 111 49 51 50 27 61-1-49-28-50-50-49-111-50-204-49-149z" fill="url(#q168)"/><path d="M1268 5031l49 148 50 205 49 111 50 50 49 28 62-1-50-28-49-50-50-111-49-204-50-149z" fill="url(#q167)"/><path d="M1222 5031l50 149 49 204 50 111 49 51 50 28 61-1-49-28-50-51-49-111-50-204-49-149z" fill="url(#q166)"/><path d="M1177 5032l49 149 50 204 49 111 50 51 49 28 62-1-50-28-49-51-50-111-49-204-50-149z" fill="url(#q165)"/><path d="M1131 5033l50 149 49 204 50 111 49 51 50 28 61-2-49-27-50-51-49-111-50-204-49-149z" fill="url(#q164)"/><path d="M1086 5033l49 149 50 205 49 111 50 50 49 28 62-1-50-28-49-50-50-111-49-205-50-149z" fill="url(#q163)"/><path d="M1040 5034l50 149 49 205 50 111 49 50 50 28 61-1-49-28-50-51-49-111-50-204-50-149z" fill="url(#q162)"/><path d="M995 5035l49 149 50 204 49 111 50 51 49 28 62-1-50-28-49-51-50-111-49-204-50-149z" fill="url(#q161)"/></g>
<path d="M1066 5410l8-2 9-3 9-4 8-5 9-7 9-9 8-11 9-13 9-15 8-18M1326 5406l8-2 9-3 9-4 8-6 9-7 9-8 8-11 9-13 9-15 8-18M1584 5402l8-2 9-3 9-4 8-6 9-6 9-9 8-10 9-13 9-15 8-17M1840 5399l9-2 8-3 9-3 9-5 8-7 9-7 9-10 8-12 9-14 9-16M2107 5398l9-1 8-1 9-3 9-3 8-5 9-6 9-7 8-10 9-11 9-13 8-15 9-17M2347 5392l9 0 8-2 9-1 9-3 8-3 9-4 9-4 8-6 9-7 9-7 8-9 9-9 9-10 8-11M2496 5392l9 1 9 0 8-1 9-1 9-1 8-2 9-2 9-2 8-3 9-4 9-4 8-4 9-5 9-5 8-5 9-4 9-4 8-4 9-3 9-2" class="bl" opacity="0.7"/>
<path d="M1152 5323l9-20 9-24 8-26 9-28M1412 5319l9-20 9-23 8-26 9-28M1670 5317l9-20 9-23 8-26 9-27 9-29M1927 5320l8-19 9-22 9-24 8-26 9-27M2211 5306l9-19 8-20 9-22 9-23 8-23M2468 5316l9-11 9-11 8-10 9-10 9-8 8-6 9-4 9-2 8 1M2670 5337l8-1 9 1 9 1" class="bl" opacity="0.4"/>
<path d="M903 5395h1M1055 5393h1M1164 5391h1M1248 5389h1M1316 5388h1M1374 5387h1M1424 5386h1M1469 5386h1M1508 5385h1M1544 5385h1M1577 5384h1M1607 5384h1M1635 5384h1M1661 5383h1M1685 5383h1M1708 5383h1M1730 5384h1M1750 5383h1M1769 5382h1M1788 5382h1M1805 5381h1M1822 5381h1M1838 5379h1M952 5319h1M1105 5316h1M1213 5314h1M1297 5313h1M1366 5312h1M1424 5311h1M1474 5310h1M1518 5310h1M1558 5309h1M1594 5309h1M1627 5309h1M1657 5309h1M1685 5309h1M1711 5309h1M1735 5309h1M1758 5309h1M1779 5308h1M1800 5306h1M1819 5306h1M1837 5309h1M1855 5314h1M1872 5315h1M1888 5317h1M1002 5149h1M1154 5146h1M1263 5144h1M1347 5143h1M1415 5142h1M1473 5142h1M1524 5142h1M1568 5141h1M1608 5141h1M1643 5141h1M1676 5142h1M1706 5142h1M1734 5142h1M1760 5143h1M1784 5143h1M1807 5145h1M1829 5144h1M1849 5146h1M1868 5144h1M1887 5147h1M1904 5146h1M1921 5148h1M1937 5149h1M1051 5034h1M1204 5032h1M1312 5030h1M1396 5029h1M1465 5028h1M1523 5028h1M1573 5028h1M1617 5028h1M1657 5028h1M1693 5028h1M1726 5029h1M1756 5030h1M1784 5030h1M1810 5031h1M1834 5032h1M1857 5034h1M1878 5035h1M1899 5037h1M1918 5038h1M1936 5039h1M1954 5040h1M1971 5042h1M1987 5044h1M1101 5183h1M1253 5180h1M1362 5179h1M1446 5178h1M1514 5177h1M1572 5176h1M1623 5176h1M1667 5176h1M1707 5176h1M1742 5176h1M1775 5176h1M1805 5176h1M1833 5177h1M1859 5176h1M1883 5177h1M1906 5178h1M1928 5179h1M1948 5180h1M1967 5181h1M1986 5180h1M2003 5180h1M2020 5182h1M2036 5183h1M1150 5387h1M1303 5385h1M1411 5383h1M1495 5382h1M1564 5381h1M1622 5380h1M1672 5379h1M1716 5379h1M1756 5378h1M1792 5378h1M1825 5378h1M1855 5378h1M1883 5377h1M1909 5378h1M1933 5378h1M1956 5378h1M1977 5376h1M1998 5377h1M2017 5377h1M2035 5379h1M2053 5379h1M2070 5379h1M2086 5377h1M1200 5498h1M1352 5496h1M1461 5494h1M1545 5492h1M1613 5491h1M1671 5490h1M1722 5490h1M1766 5489h1M1806 5488h1M1841 5488h1M1874 5487h1M1904 5487h1M1932 5487h1M1958 5487h1M1983 5486h1M2005 5486h1M2027 5486h1M2047 5486h1M2066 5485h1M2085 5487h1M2102 5484h1M2119 5484h1M2135 5483h1M1249 5549h1M1402 5546h1M1510 5545h1M1594 5543h1M1663 5542h1M1721 5541h1M1771 5540h1M1815 5539h1M1855 5539h1M1891 5538h1M1924 5538h1M1954 5537h1M1982 5537h1M2008 5537h1M2032 5536h1M2055 5536h1M2076 5535h1M2097 5535h1M2116 5534h1M2134 5534h1M2152 5534h1M2169 5533h1M2185 5533h1M1299 5577h1M1451 5574h1M1560 5572h1M1644 5571h1M1712 5570h1M1770 5569h1M1821 5568h1M1865 5567h1M1905 5566h1M1941 5566h1M1973 5565h1M2003 5565h1M2031 5564h1M2057 5564h1M2082 5563h1M2104 5563h1M2126 5563h1M2146 5563h1M2166 5563h1M2184 5563h1M2201 5562h1M2218 5560h1M2234 5560h1" class="dt"/><path d="M1805 5381l17 0 16-2 15 0 15 2 14 1 14 2 13 0 13-1 12-1 12 1 12 2 11 0 11 1 11-1 10 1 10-2 19-7 19 7 17-1 17-2 16-1 15-3 15 6 14 7 14-5 13-6 13 1 12 3 12 0 12 4 11-7 11 1 11 19 10-12 10 5 14-5 14 2 14-1 13 4 13-9 12 13 12-4 11 1 11-4 11 7 11 1 10 3 13 4 13-7 12-11 12-3 12 15 11-2 11 5 10-8 11 3 10 15 12-11 12 14 11-19 11 15 11-14 11 13 10-5 12-19 11 9 11 9 11-2M1855 5314l17 1 16 2 15-3 15 0 14-2 14 2 13 3 13 2 12-1 12-5 11-1 12-3 11 7 10 0 10 7 10 6 20-8 18-5 18-5 16 13 16 4 16-3 15-3 14 5 13 3 14-11 12 13 13 21 12-12 11-3 12 10 10-10 11 6 10 8 10 3 15-3 14 1 14 0 13 6 12-2 12 5 12-3 12-18 11 17 11 23 10 0 10-14 14-1 12 9 13 51 12-48 11 7 11-2 11 4 11 5 10 10 10-19 12 11 12-36 12 25 11 12 11 5 10 18 10-25 12 34 12-56 11 40 11-18M1904 5146l17 2 16 1 15 1 15 4 14 2 14 2 13 1 13 1 12 5 12 2 12-2 11-1 11-2 11 6 10 2 10-4 19 3 19 10 17-1 17 6 16 23 15-5 15 3 14 4 14-13 13 0 13 12 12 14 12-1 12 18 11 7 11 8 11-4 10 0 10 1 14 10 15-15 13 22 13 9 13-17 12 13 12-5 11 14 11 11 11 10 11 12 10 0 13 19 13-24 12 29 12-26 12 13 11-9 11 34 10-26 11 19 10 0 12-9 12 53 11-40 11 14 11 23 11-33 10 39 12-8 11-11 11 19 11 2M1954 5040l17 2 16 2 15 1 15 4 14 2 14 2 13 0 13 2 12 3 12 3 11 1 12 3 11 2 10 2 10 4 11 4 19 0 18 8 18 4 16 8 16 8 16 4 15 4 14 6 13 10 14 2 12 5 13 10 12 4 11 9 12 7 10 0 11 4 10 7 10 10 15 4 14 11 14 4 13 0 12 21 12 9 12 2 12 11 11 2 11 4 10 7 10 10 14 2 12 8 13 13 12-1 11 10 11 8 11 1 11 12 10 5 10 0 13 5 11 11 12 3 11-5 11 11 10 9 10 2 12 4 12 6 11 4 11-8M2003 5180l17 2 16 1 15 5 15 2 14 3 14-4 13-1 13 3 12 5 12 3 12 7 11 2 11 6 11-9 10 6 10 2 19 6 19 1 17-8 17 11 16 1 15 3 15 0 14 10 14-3 13 9 13 14 12 2 12-7 12 13 11 9 11 2 11-11 10 15 10 13 15-20 14 19 13-8 13 28 13 0 12-6 12 17 11-9 11 15 11 23 11-9 10 6 13 4 13 3 12 9 12-7 12 13 11-12 11 17 11 21 10-4 10-11 12-5 12 35 11-29 11 24 11-34 11 48 10 12 12 10 11-44 11 32 11 20M2053 5379l17 0 16-2 15-1 15 1 14-1 14 4 13 3 13 5 12-2 12 2 11 2 12 3 11-8 10 1 11-5 10 3 19 3 18 9 18 4 16-10 17 13 15-1 15-4 14 1 14 9 13-7 12-9 13 14 12 1 11 4 12 3 11 4 10 5 10 5 10-3 15-17 14 15 14-6 13 23 12-8 12 22 12-42 12 28 11 12 11 3 10-18 10-1 14 18 12-12 13 16 12-10 11-19 12-2 10 43 11-17 10-1 10-4 13-28 11 39 12 23 11-27 11 22 10-3 10-8 12 3 12 8 11-38 11 55M2102 5484l17 0 16-1 15 1 15 0 14-1 14-1 13 0 13 1 12 1 12 3 12-3 11 0 11-5 11 3 10 1 10 2 19-1 19 2 17-1 17 2 16-2 15 3 15 0 14-7 14 5 13 11 13-10 12-7 12 16 12-1 11 0 11-5 11-1 10 1 10-2 15 2 14-3 13 5 13 7 13-5 12 13 12-2 11-14 11 8 11 4 11-15 10 7 13 0 13-1 12 4 12-8 12 4 11 16 11-10 11 2 10 7 10-21 12 6 12 4 11-6 11 24 11-30 11 37 10-28 12 9 11-9 11 9 11-6" class="dl"/><path d="M2152 5534l17-1 16 0 15 1 15 0 14 1 14 2 13 3 13-3 12-3 12-2 12-1 11-1 11-2 10-2 11 4 10 1 19 2 18 1 18-4 17 6 16 1 15-5 15 0 14-6 14 2 13 0 13 1 12 3 12 0 11 7 12-5 11-3 10 2 10 0 11-5 14 4 14-1 14-2 13 10 12-1 13-5 11-5 12 9 11-13 11 14 10-5 10 15 14-15 12 4 13-5 12-1 11 4 12-2 10 0 11-1 10 11 10-11 13 5 11-1 12-2 11-18 11 14 10 13 10-12 12-1 12 3 11 1 11 12M2201 5562l17-2 16 0 16 1 14 0 14 0 14-1 13-3 13-1 12 2 12 3 12-1 11-1 11-1 11 2 10 1 10-2 19-1 19 0 17-1 17-1 16 3 15 2 15-2 14-3 14-1 13-1 13 3 12-6 12 4 12 0 11 0 11-2 11-1 10-1 10 1 15-7 14 6 13 7 13-8 13 2 12 4 12 3 11-13 11 11 11 1 11-3 10-2 13-1 13-3 12 1 12-4 12 9 11 2 11-10 11-2 10 14 10-5 12 5 12-8 11-2 11 7 11 3 11-6 10-4 12 0 11-2 12-1 10 2" class="dk"/>
<path d="M1265 5028l9 7 10 16 9 23 9 30 9 34 9 37 9 38 10 38 9 36 9 34 9 32 9 28 10 26 9 22 9 20 9 18 9 15 10 14 9 12 9 10 9 9 9 9 10 7 9 7 9 6 9 5 9 5 9 5 10 5 9 4 9 4 9 4 9 4M1525 5025l9 7 9 16 10 23 9 30 9 34 9 37 9 38 10 37 9 36 9 34 9 32 9 28 10 26 9 22 9 20 9 18 9 15 9 14 10 11 9 11 9 9 9 8 9 8 10 6 9 6 9 6 9 5 9 5 10 4 9 5 9 4 9 4 9 3M1783 5027l9 7 9 16 9 23 10 29 9 34 9 36 9 37 9 38 10 35 9 34 9 31 9 28 9 25 10 22 9 20 9 17 9 16 9 13 10 12 9 10 9 9 9 8 9 7 9 7 10 6 9 6 9 5 9 4 9 5 10 4 9 4 9 4 9 4M2039 5047l10 7 9 15 9 22 9 27 9 32 10 35 9 36 9 35 9 34 9 32 10 29 9 27 9 24 9 21 9 19 9 17 10 14 9 13 9 11 9 10 9 9 10 8 9 7 9 6 9 6 9 6 10 5 9 4 9 5 9 4 9 4 10 4 9 4M2306 5122l10 6 9 13 9 18 9 23 9 26 10 29 9 30 9 29 9 28 9 27 9 25 10 22 9 20 9 18 9 16 9 14 10 13 9 11 9 10 9 8 9 8 10 7 9 7 9 5 9 6 9 5 10 5 9 4 9 4 9 4 9 4 10 4 9 3M2546 5255l10 4 9 7 9 10 9 12 9 15 10 15 9 17 9 17 9 17 9 17 10 16 9 15 9 14 9 13 9 12 10 11 9 11 9 9 9 9 9 7 9 8 10 6 9 7 9 5 9 6 9 5 10 5 9 4 9 4 9 5 9 4 10 3 9 4M2696 5338l9 4 9 5 9 6 9 7 9 9 10 10 9 10 9 10 9 11 9 10 10 11 9 10 9 10 9 9 9 9 10 8 9 8 9 7 9 7 9 7 10 6 9 6 9 5 9 5 9 5 10 5 9 4 9 5 9 4 9 4 9 4 10 4 9 4" class="bl"/>
<text x="2127" y="5010" class="an">with G<tspan font-size="60" dy="38" dx="6">NL</tspan><tspan dy="-38"></tspan></text>
<g opacity="0.62"><path d="M2621 6853l49 60 50 88 49 73 46-9-50-71-49-85-50-59z" fill="url(#q240)"/><path d="M2575 6854l50 62 49 91 50 74 61-10-49-72-50-87-49-60z" fill="url(#q239)"/><path d="M2530 6854l49 62 50 93 49 79 62-9-50-74-49-89-50-62z" fill="url(#q238)"/><path d="M2484 6853l50 62 49 95 50 83 61-7-49-78-50-92-49-62z" fill="url(#q237)"/><path d="M2439 6851l49 62 50 98 49 86 62-5-50-82-49-95-50-62z" fill="url(#q236)"/><path d="M2393 6850l50 61 49 99 50 89 61-3-49-85-50-97-50-62z" fill="url(#q235)"/><path d="M2348 6849l49 60 50 99 49 92 62-1-50-89-49-98-50-61z" fill="url(#q234)"/><path d="M2302 6848l50 57 49 99 50 93 61 3-49-91-50-99-50-61z" fill="url(#q233)"/></g><g opacity="0.6"><path d="M2257 6846l49 55 50 97 49 93 46 6-50-93-49-99-50-57z" fill="url(#q232)"/><path d="M2211 6844l50 53 49 94 50 92 61 10-49-93-50-97-50-56z" fill="url(#q231)"/><path d="M2166 6843l49 50 50 89 49 90 62 14-50-93-49-94-50-54z" fill="url(#q230)"/></g><g opacity="0.56"><path d="M2120 6842l50 47 49 85 50 86 45 12-49-90-50-89-49-50z" fill="url(#q229)"/><path d="M2075 6842l49 45 50 80 49 81 62 17-50-88-49-87-50-48z" fill="url(#q228)"/><path d="M2029 6841l50 43 49 75 50 76 61 17-49-83-50-81-50-46z" fill="url(#q227)"/><path d="M1984 6841l49 41 50 70 49 69 62 18-50-77-49-77-50-43z" fill="url(#q226)"/></g><g opacity="0.52"><path d="M1938 6841l50 38 49 65 50 65 45 12-49-69-50-70-49-41z" fill="url(#q225)"/><path d="M1893 6841l49 36 50 60 49 59 62 17-50-66-50-67-49-39z" fill="url(#q224)"/><path d="M1847 6840l50 35 49 56 50 54 61 15-49-60-50-62-50-37z" fill="url(#q223)"/><path d="M1802 6840l49 33 50 52 49 49 62 15-50-56-50-57-49-36z" fill="url(#q222)"/></g><g opacity="0.48"><path d="M1756 6840l50 31 49 48 50 45 45 10-49-49-50-52-49-33z" fill="url(#q221)"/><path d="M1711 6840l49 30 50 44 49 41 62 12-50-46-50-49-49-32z" fill="url(#q220)"/><path d="M1665 6840l50 29 49 41 50 37 61 11-49-42-50-45-50-31z" fill="url(#q219)"/><path d="M1620 6841l49 27 50 38 49 33 62 11-50-38-50-43-49-29z" fill="url(#q218)"/></g><g opacity="0.45"><path d="M1574 6841l50 26 49 36 50 29 45 7-49-33-50-38-49-27z" fill="url(#q217)"/><path d="M1529 6841l49 26 50 33 49 26 62 9-50-31-50-37-49-26z" fill="url(#q216)"/><path d="M1483 6842l50 24 49 32 50 22 61 8-49-27-50-34-50-26z" fill="url(#q215)"/><path d="M1438 6842l49 24 50 30 49 19 62 7-50-23-50-33-49-25z" fill="url(#q214)"/><path d="M1392 6843l50 23 49 29 50 15 61 7-50-20-49-31-50-24z" fill="url(#q213)"/><path d="M1347 6843l49 23 50 28 49 12 62 6-50-17-50-29-49-24z" fill="url(#q212)"/><path d="M1301 6844l50 23 49 26 50 9 61 5-50-13-49-28-50-23z" fill="url(#q211)"/><path d="M1256 6844l49 24 50 25 49 5 62 5-50-10-50-26-49-23z" fill="url(#q210)"/><path d="M1210 6845l50 24 49 25 50 1 61 4-50-6-49-26-50-23z" fill="url(#q209)"/><path d="M1165 6846l49 24 50 26 49-4 62 4-50-2-50-26-49-23z" fill="url(#q208)"/><path d="M1119 6847l50 25 49 26 50-9 61 4-50 2-49-25-50-24z" fill="url(#q207)"/><path d="M1074 6848l49 27 50 27 49-15 62 3-50 7-50-25-49-25z" fill="url(#q206)"/><path d="M1028 6850l50 28 49 30 50-23 61 3-50 13-49-27-50-26z" fill="url(#q205)"/><path d="M983 6851l49 32 50 32 49-31 62 2-50 19-50-28-49-28z" fill="url(#q204)"/><path d="M937 6853l50 35 49 37 50-41 61 0-50 28-49-31-50-30z" fill="url(#q203)"/><path d="M892 6855l49 40 50 43 49-53 61-1-49 37-50-35-49-34z" fill="url(#q202)"/><path d="M846 6858l50 47 49 50 50-67 61-4-50 49-49-40-50-39z" fill="url(#q201)"/></g>
<path d="M1066 6832l9 3 9 4 9 4 9 4 10 4 9 4 9 5 9 5 9 5 9 5 9 5 10 6 9 5 9 4 9 4 9 3 9 1 10 0 9 0 9-2 9-3 9-3 9-4M1326 6828l9 4 9 3 9 4 9 5 9 4 10 5 9 4 9 5 9 6 9 5 9 6 10 5 9 6 9 5 9 6 9 4 9 4 9 3 10 2 9 1 9 0 9 0 9-1M1584 6824l9 4 9 5 9 4 9 5 9 4 9 5 10 6 9 6 9 6 9 7 9 7 9 7 10 8 9 7 9 8 9 8 9 7 9 6 9 6 10 4 9 3 9 1 9 1M1840 6821l9 5 9 4 10 5 9 5 9 5 9 6 9 7 9 7 9 7 10 8 9 9 9 10 9 11 9 11 9 11 10 12 9 13 9 11 9 11 9 10 9 7 9 6 10 4M2107 6820l9 5 9 5 10 6 9 7 9 7 9 7 9 9 9 9 9 11 10 11 9 13 9 14 9 16 9 16 9 18 9 18 10 18 9 17 9 17 9 14 9 12 9 8 10 5M2347 6817l9 6 9 5 10 7 9 7 9 7 9 9 9 9 9 10 9 12 10 13 9 15 9 16 9 17 9 19 9 20 10 20 9 21 9 20 9 19 9 17 9 13 9 9 10 6M2496 6814l9 5 10 5 9 6 9 7 9 7 9 8 9 9 9 10 10 11 9 12 9 13 9 15 9 16 9 17 9 19 10 19 9 19 9 18 9 18 9 15 9 12 10 9 9 5" class="bl"/>
<path d="M1276 6891l9-3 9-1 9-1 9 2 9 4 8 5 9 6 9 7 9 6 9 6 9 6 9 6 8 4 9 5 9 4 9 3 9 4 9 3 8 4 9 3 9 3 9 3 9 3 9 3 9 3 8 4 9 3 9 3 9 3 9 3 9 3 9 3 8 3" class="bl"/>
<g opacity="0.64"><path d="M2769 7074l50-6 49-54 50-40 49-13 50 4 45-1-49-5-50 12-49 38-50 52-49 4z" fill="url(#q240)"/><path d="M2724 7081l49-6 50-57 49-42 50-14 49 4 62-2-50-4-49 13-50 39-49 54-50 5z" fill="url(#q239)"/><path d="M2678 7088l50-8 49-61 50-44 49-14 50 5 61-1-49-3-50 13-49 42-50 56-49 6z" fill="url(#q238)"/><path d="M2633 7093l49-10 50-65 49-44 50-13 49 5 62 0-50-4-49 13-50 44-49 59-50 8z" fill="url(#q237)"/><path d="M2587 7097l50-12 49-68 50-45 49-12 50 6 61 0-49-5-50 13-49 45-50 63-49 10z" fill="url(#q236)"/><path d="M2542 7099l49-13 50-71 49-44 50-11 49 6 62 0-50-6-49 13-50 45-49 67-50 11z" fill="url(#q235)"/><path d="M2496 7100l50-15 49-73 50-43 49-10 50 7 61 0-49-6-50 11-49 45-50 70-49 13z" fill="url(#q234)"/><path d="M2451 7097l49-16 50-73 49-42 50-8 49 8 62 0-50-7-49 10-50 45-49 72-50 14z" fill="url(#q233)"/></g><g opacity="0.62"><path d="M2405 7091l50-16 49-72 50-39 49-7 50 9 45 0-49-8-50 8-49 42-50 73-49 16z" fill="url(#q232)"/><path d="M2360 7083l49-16 50-70 49-36 50-4 49 9 62 0-50-8-49 7-50 40-49 73-50 15z" fill="url(#q231)"/><path d="M2314 7072l50-16 49-66 50-32 49-2 50 11 61-1-49-9-50 5-49 37-50 71-49 16z" fill="url(#q230)"/></g><g opacity="0.58"><path d="M2269 7060l49-14 50-62 49-28 50 0 49 11 46 0-50-11-49 2-50 32-49 66-50 16z" fill="url(#q229)"/><path d="M2223 7048l50-13 49-55 50-25 49 1 50 12 61-1-49-11-50 0-49 30-50 63-49 16z" fill="url(#q228)"/><path d="M2178 7035l49-12 50-49 49-20 50 2 49 12 62 0-50-12-49-1-50 26-49 57-50 14z" fill="url(#q227)"/><path d="M2132 7021l50-9 49-43 50-17 49 4 50 13 61-1-49-12-50-2-49 22-50 51-49 12z" fill="url(#q226)"/></g><g opacity="0.54"><path d="M2087 7009l49-9 50-36 49-13 50 5 49 14 46-1-50-13-49-4-50 17-49 43-50 9z" fill="url(#q225)"/><path d="M2041 6996l50-6 49-30 50-10 49 7 50 13 61-1-49-13-50-4-49 14-50 38-49 9z" fill="url(#q224)"/><path d="M1996 6985l49-6 50-24 49-6 50 8 49 14 62-1-50-13-49-7-50 11-49 32-50 7z" fill="url(#q223)"/><path d="M1950 6974l50-4 49-19 50-3 49 9 50 14 61 0-49-14-50-8-49 8-50 26-49 6z" fill="url(#q222)"/></g><g opacity="0.5"><path d="M1905 6964l49-4 50-13 49 0 50 10 49 15 46-1-50-14-49-9-50 3-49 19-50 4z" fill="url(#q221)"/><path d="M1859 6955l50-3 49-9 50 4 49 11 50 15 61-1-49-15-50-9-49 0-50 16-49 3z" fill="url(#q220)"/><path d="M1814 6947l49-3 50-4 49 6 50 12 49 15 62-1-50-14-49-11-50-2-49 10-50 3z" fill="url(#q219)"/><path d="M1768 6939l50-2 49 0 50 9 49 13 50 15 61-1-49-15-50-12-49-5-50 6-49 3z" fill="url(#q218)"/></g><g opacity="0.47"><path d="M1723 6932l49-3 50 5 49 11 50 14 49 16 46-1-50-15-49-13-50-9-49 0-50 2z" fill="url(#q217)"/><path d="M1677 6926l50-3 49 8 50 14 49 14 50 16 61 0-49-16-50-14-49-10-50-3-49 3z" fill="url(#q216)"/><path d="M1632 6920l49-4 50 12 49 17 50 15 49 16 62-1-50-16-49-14-50-13-49-7-50 3z" fill="url(#q215)"/><path d="M1586 6915l50-5 49 16 50 18 49 16 50 17 61-1-49-16-50-15-49-16-50-10-49 3z" fill="url(#q214)"/><path d="M1541 6910l49-6 50 19 49 21 50 17 49 17 62-1-50-17-49-16-50-18-49-14-50 5z" fill="url(#q213)"/><path d="M1495 6906l50-8 49 22 50 24 49 17 50 17 61-1-49-16-50-17-49-20-50-18-49 6z" fill="url(#q212)"/><path d="M1450 6902l49-10 50 26 49 26 50 18 49 17 62-1-50-17-49-17-50-23-49-21-50 7z" fill="url(#q211)"/><path d="M1404 6898l50-13 49 30 50 29 49 19 50 17 61-1-49-17-50-18-49-25-50-25-49 9z" fill="url(#q210)"/><path d="M1359 6895l49-16 50 33 49 32 50 19 49 17 62 0-50-18-49-18-50-28-49-29-50 12z" fill="url(#q209)"/><path d="M1313 6892l50-20 49 37 50 34 49 21 50 17 61-1-49-17-50-19-49-31-50-32-49 15z" fill="url(#q208)"/><path d="M1268 6889l49-24 50 41 49 37 50 21 49 18 62-1-50-17-49-20-50-34-49-36-50 19z" fill="url(#q207)"/><path d="M1222 6887l50-30 49 46 50 40 49 22 50 18 61-1-49-18-50-21-49-36-50-40-49 23z" fill="url(#q206)"/><path d="M1177 6885l49-36 50 50 49 44 50 22 49 18 62-1-50-17-49-22-50-39-49-44-50 28z" fill="url(#q205)"/><path d="M1131 6884l50-44 49 55 50 47 49 24 50 18 61-1-49-18-50-22-49-43-50-48-49 34z" fill="url(#q204)"/><path d="M1086 6884l49-53 50 59 49 52 50 25 49 18 62-1-50-18-49-23-50-47-49-53-50 41z" fill="url(#q203)"/><path d="M1040 6885l50-64 49 64 50 57 49 25 50 19 61-1-49-19-50-24-49-50-50-58-50 50z" fill="url(#q202)"/><path d="M995 6888l49-78 50 70 49 61 50 27 49 18 62-1-50-18-49-25-50-55-49-63-50 60z" fill="url(#q201)"/></g>
<path d="M903 6854h1M1055 6849h1M1164 6846h1M1248 6845h1M1316 6844h1M1374 6843h1M1424 6842h1M1469 6842h1M1508 6841h1M1544 6841h1M1577 6841h1M1607 6841h1M1635 6841h1M1661 6840h1M1685 6840h1M1708 6840h1M1730 6841h1M1750 6841h1M1769 6841h1M1788 6841h1M1805 6841h1M1822 6840h1M1838 6840h1M952 6894h1M1105 6876h1M1213 6870h1M1297 6868h1M1366 6867h1M1424 6866h1M1474 6866h1M1518 6866h1M1558 6866h1M1594 6867h1M1627 6867h1M1657 6868h1M1685 6868h1M1711 6869h1M1735 6869h1M1758 6870h1M1779 6870h1M1800 6871h1M1819 6871h1M1837 6871h1M1855 6871h1M1872 6874h1M1888 6875h1M1002 6934h1M1154 6904h1M1263 6896h1M1347 6893h1M1415 6893h1M1473 6894h1M1524 6895h1M1568 6897h1M1608 6899h1M1643 6901h1M1676 6903h1M1706 6905h1M1734 6907h1M1760 6910h1M1784 6912h1M1807 6915h1M1829 6916h1M1849 6919h1M1868 6920h1M1887 6922h1M1904 6924h1M1921 6927h1M1937 6929h1M1051 6885h1M1204 6886h1M1312 6892h1M1396 6898h1M1465 6903h1M1523 6909h1M1573 6914h1M1617 6919h1M1657 6923h1M1693 6928h1M1726 6933h1M1756 6937h1M1784 6942h1M1810 6946h1M1834 6950h1M1857 6955h1M1878 6959h1M1899 6963h1M1918 6967h1M1936 6970h1M1954 6975h1M1971 6978h1M1987 6983h1M1101 6823h1M1253 6854h1M1362 6872h1M1446 6884h1M1514 6894h1M1572 6901h1M1623 6908h1M1667 6914h1M1707 6920h1M1742 6925h1M1775 6930h1M1805 6935h1M1833 6939h1M1859 6944h1M1883 6948h1M1906 6952h1M1928 6955h1M1948 6958h1M1967 6962h1M1986 6966h1M2003 6969h1M2020 6974h1M2036 6978h1M1150 6887h1M1303 6901h1M1411 6909h1M1495 6915h1M1564 6919h1M1622 6922h1M1672 6925h1M1716 6927h1M1756 6930h1M1792 6932h1M1825 6934h1M1855 6936h1M1883 6938h1M1909 6940h1M1933 6942h1M1956 6944h1M1977 6946h1M1998 6947h1M2017 6949h1M2035 6950h1M2053 6952h1M2070 6954h1M2086 6955h1M1200 6942h1M1352 6943h1M1461 6943h1M1545 6944h1M1613 6944h1M1671 6944h1M1722 6944h1M1766 6945h1M1806 6945h1M1841 6945h1M1874 6945h1M1904 6945h1M1932 6946h1M1958 6946h1M1983 6946h1M2005 6947h1M2027 6947h1M2047 6947h1M2066 6947h1M2085 6947h1M2102 6947h1M2119 6947h1M2135 6948h1M1249 6967h1M1402 6965h1M1510 6964h1M1594 6963h1M1663 6962h1M1721 6961h1M1771 6961h1M1815 6960h1M1855 6960h1M1891 6959h1M1924 6959h1M1954 6959h1M1982 6958h1M2008 6958h1M2032 6958h1M2055 6958h1M2076 6957h1M2097 6957h1M2116 6957h1M2134 6957h1M2152 6957h1M2169 6957h1M2185 6957h1M1299 6985h1M1451 6983h1M1560 6981h1M1644 6980h1M1712 6979h1M1770 6978h1M1821 6977h1M1865 6976h1M1905 6976h1M1941 6975h1M1973 6975h1M2003 6974h1M2031 6974h1M2057 6974h1M2082 6973h1M2104 6973h1M2126 6973h1M2146 6973h1M2166 6972h1M2184 6972h1M2201 6971h1M2218 6971h1M2234 6971h1" class="dt"/><path d="" class="dl"/><path d="M1805 6841l17-1 16 0 15 0 15 1 14 0 14 0 13 0 13 0 12 0 12-2 12 1 11 1 11 2 11 1 10 0 10 1 19-4 19 2 17 0 17 2 16-2 15 1 15-4 14-1 14 2 13 4 13 3 12-5 12-2 12 2 11 3 11-2 11-1 10 0 10 0 14 5 14-1 14 1 13 0 13 7 12-4 12-2 11-1 11 3 11-4 11 5 10 0 13-2 13 0 12 5 12-4 12 0 11 2 11 2 10-4 11 1 10 0 12 2 12-1 11-1 11 1 11 7 11-13 10 14 12-4 11-11 11 3 11 3M1855 6871l17 3 16 1 15 1 15 1 14-1 14-2 13 0 13 2 12-1 12 1 11-1 12 2 11 1 10 1 10 4 10 2 20 1 18 2 18-4 16-2 16 5 16 0 15 2 14 2 13 1 14-2 12-1 13 3 12 7 11-1 12-1 10 0 11-4 10 9 10-7 15 15 14 1 14-8 13 11 12-4 12 0 12-6 12 9 11 7 11-10 10-4 10 17 14-15 12 1 13 6 12 3 11-4 11 3 11-5 11 14 10-12 10 0 12 0 12 1 12 8 11 2 11-7 10-14 10 10 12-11 12 5 11 3 11 8M1904 6924l17 3 16 2 15 2 15 2 14 2 14 3 13 4 13 3 12 2 12-1 12 1 11 1 11 6 11 1 10 0 10-2 19 6 19 6 17 5 17-2 16 1 15 7 15 0 14-3 14 10 13-1 13 4 12 1 12 2 12 3 11-1 11 9 11 0 10 1 10-3 14 5 15 6 13-4 13 0 13 9 12-6 12 9 11-13 11-1 11 10 11-16 10 18 13-8 13 13 12-2 12 2 12-9 11-3 11-1 10-6 11 14 10-4 12 1 12-20 11 11 11-1 11 4 11-2 10-12 12 10 11 2 11 0 11-4M1954 6975l17 3 16 5 15 3 15 4 14 3 14 3 13 3 13 3 12 3 12 5 11 3 12 4 11 3 10 4 10 3 11 4 19 4 18 5 18 5 16 6 16 3 16 7 15 2 14 5 13 3 14 5 12 1 13 1 12 3 11 3 12 1 10 4 11 1 10 1 10 3 15 0 14 4 14 0 13 2 12 0 12-1 12-1 12 5 11-3 11-1 10-3 10 4 14-1 12-3 13 0 12-2 11-2 11 2 11-3 11-1 10-2 10-1 13 0 11-5 12 2 11-2 11-5 10 0 10-4 12 0 12-5 11-1 11-1M2003 6969l17 5 16 4 15 4 15 3 14 2 14 3 13 2 13 4 12 4 12 3 12 2 11 2 11 5 11 2 10 1 10 3 19 6 19 1 17 6 17 1 16 8 15 4 15 4 14 7 14-4 13 1 13 6 12 2 12 2 12 5 11 6 11 2 11-7 10 5 10 5 15 7 14-6 13 7 13-5 13 3 12 0 12-4 11 1 11 3 11 1 11 8 10-8 13-4 13 3 12 1 12 0 12 0 11-2 11-4 11 7 10-6 10 0 12-5 12 2 11-4 11-3 11 0 11 6 10-1 12-4 11-2 11 12 11-21M2053 6952l17 2 16 1 15 3 15-1 14 1 14 1 13 2 13 1 12 1 12 2 11 2 12 4 11-1 10 2 11-1 10 1 19-1 18 9 18-2 16-3 17 5 15 5 15 0 14 0 14 9 13 3 12 0 13 3 12-1 11 2 12 4 11-1 10 3 10 1 10-6 15 4 14 9 14-3 13 2 12-15 12 16 12-3 12 0 11 7 11-5 10 3 10 1 14-5 12 10 13 0 12-10 11 9 12-7 10 9 11-6 10-2 10 1 13 4 11-3 12 5 11-2 11 7 10-12 10-3 12 8 12-9 11 23 11-11M2102 6947l17 0 16 1 15 2 15 1 14 0 14 0 13 0 13 0 12 1 12 0 12 1 11 0 11 1 11-1 10-1 10 1 19 1 19 0 17 0 17 4 16 0 15-1 15-2 14-3 14 2 13 2 13 4 12-1 12 4 12-1 11 1 11-5 11 3 10 3 10 3 15-4 14 2 13 11 13-6 13 3 12 1 12-7 11 4 11 0 11-2 11 0 10 5 13-1 13-2 12 1 12 5 12-4 11 12 11-14 11 6 10-6 10 3 12 0 12 1 11-3 11 4 11-5 11-7 10 2 12 9 11 2 11-3 11 9M2152 6957l17 0 16 0 15 0 15 0 14 0 14-1 13 0 13 0 12 0 12-1 12 0 11 1 11 1 10 0 11-3 10 1 19 2 18-1 18 0 17-1 16 3 15 0 15-2 14-2 14 2 13-1 13 2 12-1 12-2 11 2 12-1 11 1 10 0 10 2 11 3 14-3 14-2 14 5 13-2 12-2 13 2 11 1 12-1 11 0 11 1 10-3 10 2 14-2 12 2 13-1 12 4 11-3 12 3 10-3 11 5 10-1 10-2 13 2 11 2 12-6 11 5 11 2 10-1 10-2 12-4 12 4 11-1 11-2M2201 6971l17 0 16 0 16-1 14 0 14-1 14 0 13 1 13-1 12 1 12 0 12 0 11 0 11-1 11 1 10 0 10-1 19-2 19 1 17 1 17 1 16-1 15 0 15-1 14-3 14 2 13 0 13-1 12-1 12 1 12 2 11 0 11 1 11 0 10-3 10 1 15 1 14 1 13-4 13 3 13-1 12-2 12 1 11-1 11 3 11 0 11-2 10 1 13-1 13 1 12-1 12-2 12-1 11 2 11 0 11-1 10 0 10-1 12 2 12 2 11-2 11 4 11-2 11-4 10 3 12 0 11-3 12 1 10-5" class="dk"/>
<path d="M1536 6914l9-2 9-1 9 0 9 0 8 2 9 3 9 3 9 3 9 4 9 4 9 3 8 4 9 3 9 3 9 3 9 3 9 3 9 3 8 3 9 3 9 3 9 2 9 3 9 3 9 3 8 3 9 3 9 3 9 3 9 4 9 3 9 3 8 3M1794 6949l9-1 9-1 9-2 8-1 9-1 9-1 9 0 9 0 9 0 9 1 8 0 9 1 9 2 9 1 9 1 9 2 9 2 8 2 9 3 9 2 9 2 9 3 9 3 9 2 8 3 9 3 9 3 9 3 9 2 9 3 8 3 9 3 9 3M2051 7006l8 1 9-1 9-2 9-3 9-5 9-5 9-5 8-5 9-4 9-5 9-3 9-3 9-3 9-2 8-1 9-1 9 0 9 0 9 1 9 1 9 1 8 2 9 2 9 2 9 2 9 3 9 2 8 3 9 2 9 3 9 3 9 3 9 3M2318 7083l8 1 9-2 9-6 9-8 9-9 9-11 8-11 9-11 9-11 9-10 9-9 9-7 9-7 8-5 9-5 9-3 9-3 9-1 9-1 9-1 8 1 9 0 9 1 9 2 9 1 9 2 9 2 8 3 9 2 9 2 9 3 9 3 9 3M2558 7114l8 0 9-3 9-7 9-9 9-12 9-13 9-14 8-14 9-13 9-12 9-11 9-10 9-8 9-7 8-6 9-4 9-4 9-2 9-2 9-1 9 0 8 0 9 1 9 1 9 1 9 2 9 2 8 2 9 2 9 3 9 2 9 3 9 3M2707 7089l9 1 8-2 9-6 9-9 9-10 9-12 9-12 9-12 8-12 9-10 9-10 9-9 9-7 9-6 8-5 9-4 9-3 9-2 9-1 9 0 9 0 8 0 9 1 9 1 9 2 9 2 9 2 9 2 8 2 9 3 9 2 9 3 9 3" class="bl"/>
<path d="M532 6382h176" class="bl" style="stroke-width:20"/>
<text x="721" y="6409" class="lg">2-state fit</text>
<path d="M2464 8232l10 6 11 6 11 6 11 7 10 8 11 9 11 10 11 12 10 13 11 14 11 16 10 18 11 19 11 20 11 21 10 20 11 20 11 18 11 14 10 10 11 6 11 1 11-4 10-8 11-11 11-13 10-14 11-14 11-13 11-13 10-11 11-10 11-8 11-6 10-5 11-4 11-2 10-2 11 0 11 0 11 0 10 1 11 2 11 1 11 3 10 2 11 2 11 3 11 3" class="rd"/><path d="M2464 8216l10 0 11 0 11-1 11-2 10-2 11-3 11-4 11-5 10-5 11-5 11-6 10-7 11-6 11-7 11-6 10-5 11-4 11-2 11-1 10 0 11 3 11 5 11 6 10 7 11 9 11 10 10 10 11 11 11 11 11 11 10 10 11 10 11 9 11 9 10 9 11 8 11 7 10 7 11 6 11 6 11 6 10 5 11 6 11 4 11 5 10 4 11 5 11 4 11 4" class="bl"/><path d="M2317 8236l11 6 11 6 10 7 11 7 11 9 11 9 10 11 11 13 11 13 11 16 10 17 11 20 11 20 10 22 11 23 11 22 11 22 10 19 11 15 11 11 11 6 10 1 11-5 11-9 11-12 10-15 11-16 11-16 10-15 11-14 11-13 11-11 10-9 11-7 11-6 11-4 10-4 11-2 11-1 10 0 11 0 11 1 11 1 10 2 11 2 11 2 11 3 10 2 11 3" class="rd"/><path d="M2317 8217l11-1 11-2 10-3 11-4 11-4 11-6 10-8 11-8 11-10 11-11 10-13 11-13 11-13 10-14 11-13 11-12 11-10 10-7 11-4 11 0 11 4 10 7 11 11 11 13 11 15 10 17 11 18 11 17 10 18 11 17 11 16 11 14 10 14 11 13 11 11 11 10 10 10 11 8 11 8 10 7 11 7 11 6 11 5 10 5 11 5 11 5 11 4 10 4 11 4" class="bl"/><path d="M2081 8239l11 6 11 5 10 7 11 7 11 7 11 9 10 10 11 11 11 12 11 14 10 15 11 17 11 18 11 20 10 19 11 20 11 19 10 16 11 14 11 10 11 5 10 1 11-4 11-7 11-10 10-12 11-13 11-13 11-13 10-11 11-10 11-9 10-7 11-6 11-5 11-3 10-2 11-1 11-1 11 0 10 1 11 1 11 2 11 2 10 2 11 2 11 3 10 2 11 3" class="rd"/><path d="M2081 8224l11-2 11-2 10-4 11-5 11-7 11-9 10-11 11-14 11-17 11-19 10-22 11-25 11-26 11-28 10-28 11-25 11-23 10-17 11-10 11-2 11 6 10 13 11 21 11 25 11 30 10 31 11 31 11 31 11 28 10 27 11 24 11 21 10 19 11 16 11 15 11 12 10 11 11 10 11 9 11 7 10 7 11 6 11 6 11 5 10 5 11 4 11 4 10 4 11 4" class="bl"/><path d="M1819 8241l11 5 10 4 11 5 11 6 11 6 10 6 11 8 11 8 11 8 10 10 11 10 11 12 11 12 10 13 11 13 11 13 10 12 11 11 11 9 11 6 10 4 11 1 11-1 11-3 10-5 11-6 11-5 11-6 10-6 11-5 11-5 10-3 11-3 11-2 11-1 10-1 11 0 11 1 11 1 10 1 11 2 11 2 10 2 11 3 11 2 11 3 10 3 11 3 11 3" class="rd"/><path d="M1819 8225l11-3 10-3 11-6 11-7 11-9 10-11 11-14 11-18 11-21 10-24 11-27 11-31 11-33 10-34 11-35 11-32 10-27 11-21 11-13 11-3 10 7 11 16 11 25 11 31 10 36 11 37 11 38 11 37 10 35 11 32 11 29 10 25 11 22 11 20 11 17 10 14 11 13 11 11 11 10 10 8 11 8 11 7 10 6 11 5 11 5 11 5 10 5 11 4 11 4" class="bl"/><path d="M1567 8245l11 4 10 4 11 5 11 5 11 5 10 6 11 6 11 6 11 7 10 8 11 8 11 8 10 8 11 8 11 8 11 8 10 6 11 5 11 3 11 2 10 0 11-1 11-2 11-2 10-2 11-1 11-1 10 0 11 0 11 1 11 0 10 1 11 2 11 1 11 2 10 2 11 2 11 2 10 3 11 2 11 3 11 3 10 3 11 2 11 3 11 4 10 3 11 3 11 3" class="rd"/><path d="M1567 8228l11-2 10-4 11-6 11-8 11-9 10-13 11-15 11-18 11-22 10-26 11-29 11-33 10-35 11-36 11-37 11-33 10-30 11-22 11-14 11-3 10 7 11 18 11 26 11 33 10 37 11 40 11 40 10 39 11 36 11 34 11 30 10 27 11 23 11 20 11 18 10 15 11 14 11 11 10 10 11 9 11 8 11 7 10 6 11 6 11 5 11 5 10 4 11 5 11 4" class="bl"/><path d="M1314 8249l10 4 11 4 11 4 11 4 10 5 11 5 11 5 10 6 11 5 11 6 11 6 10 6 11 6 11 5 11 5 10 3 11 3 11 1 10 1 11-1 11-2 11-2 10-1 11 0 11 1 11 2 10 3 11 4 11 4 11 4 10 3 11 4 11 3 10 4 11 3 11 3 11 3 10 3 11 3 11 3 11 3 10 3 11 3 11 4 11 3 10 3 11 3 11 3 10 4" class="rd"/><path d="M1314 8233l10-3 11-4 11-6 11-7 10-10 11-13 11-15 10-19 11-23 11-26 11-29 10-33 11-36 11-37 11-37 10-34 11-30 11-22 10-14 11-4 11 8 11 17 10 27 11 33 11 38 11 40 10 41 11 39 11 37 11 34 10 31 11 27 11 24 10 20 11 18 11 16 11 13 10 12 11 10 11 9 11 8 10 7 11 6 11 6 11 5 10 5 11 4 11 5 10 4" class="bl"/><path d="M1058 8253l11 4 11 4 10 4 11 4 11 5 11 4 10 5 11 5 11 6 11 6 10 5 11 5 11 5 10 4 11 2 11 1 11-1 10-2 11-3 11-4 11-4 10-3 11-2 11 0 10 2 11 5 11 7 11 7 10 7 11 7 11 6 11 6 10 5 11 4 11 4 11 4 10 4 11 3 11 4 10 3 11 4 11 3 11 3 10 3 11 4 11 3 11 3 10 3 11 4" class="rd"/><path d="M1058 8238l11-3 11-4 10-6 11-8 11-9 11-13 10-16 11-19 11-22 11-26 10-30 11-33 11-36 10-37 11-37 11-34 11-30 10-23 11-14 11-3 11 7 10 18 11 26 11 34 10 38 11 40 11 41 11 40 10 37 11 34 11 30 11 28 10 23 11 21 11 18 11 16 10 13 11 12 11 10 10 9 11 8 11 7 11 6 10 6 11 5 11 5 11 5 10 4 11 4" class="bl"/>
<path d="M4005 5687l0-801M4005 5687l495 172M4438 5680l0-802M4438 5680l496 172M4872 5672l0-801M4872 5672l495 172M5305 5664l0-800M5305 5664l495 172M5738 5657l0-801M5738 5657l496 172M6172 5650l0-802M6172 5650l495 172M4005 5687l2167-37M6172 5650l495 172M4005 5420l2167-38M6172 5382l495 172M4005 5153l2167-37M6172 5116l495 172M4005 4886l2167-38M6172 4848l495 172M6172 5650l0-802M4005 5687l2167-37M6419 5736l0-802M4253 5773l2166-37M6667 5822l0-802M4500 5859l2167-37" class="gr"/>
<path d="M4005 5687l0-801M4005 5687l495 172M4500 5859l2167-37M4005 5687l-50-12M4005 5420l-50-12M4005 5153l-50-12M4005 4886l-50-12M4005 5687l-36 1M4253 5773l-36 1M4500 5859l-36 1M4500 5859l46 16M4934 5852l46 16M5367 5844l46 16M5800 5836l46 16M6234 5829l46 16M6667 5822l46 16" class="ax"/>
<g class="tk"><text x="3926" y="5695" text-anchor="end">-100</text><text x="3926" y="5428" text-anchor="end">0</text><text x="3926" y="5161" text-anchor="end">100</text><text x="3926" y="4894" text-anchor="end">200</text><text x="3927" y="5766" text-anchor="end">-200</text><text x="4175" y="5844" text-anchor="end">0</text><text x="4422" y="5925" text-anchor="end">200</text><text x="4577" y="5948">2</text><text x="5011" y="5940">2.5</text><text x="5444" y="5933">3</text><text x="5877" y="5926">3.5</text><text x="6311" y="5918">4</text><text x="6744" y="5910">4.5</text></g>
<text transform="translate(3763 5291) rotate(-90)" text-anchor="middle" class="al">Re(NLC)&#160; (fF)</text>
<text x="3804" y="6042" class="al">V<tspan font-size="66" dy="40">m</tspan><tspan dy="-40" dx="8"> (mV)</tspan></text>
<text x="5267" y="6105" class="al">F (10<tspan font-size="66" dy="-36">n</tspan><tspan dy="36"> Hz [LOG])</tspan></text>
<path d="M4005 7099l0-801M4005 7099l495 172M4438 7092l0-802M4438 7092l496 172M4872 7084l0-801M4872 7084l495 172M5305 7076l0-800M5305 7076l495 172M5738 7069l0-801M5738 7069l496 172M6172 7062l0-802M6172 7062l495 172M4005 7099l2167-37M6172 7062l495 172M4005 6832l2167-38M6172 6794l495 172M4005 6565l2167-37M6172 6528l495 172M4005 6298l2167-38M6172 6260l495 172M6172 7062l0-802M4005 7099l2167-37M6419 7148l0-802M4253 7185l2166-37M6667 7234l0-802M4500 7271l2167-37" class="gr"/>
<path d="M4005 7099l0-801M4005 7099l495 172M4500 7271l2167-37M4005 7099l-50-12M4005 6832l-50-12M4005 6565l-50-12M4005 6298l-50-12M4005 7099l-36 1M4253 7185l-36 1M4500 7271l-36 1M4500 7271l46 16M4934 7264l46 16M5367 7256l46 16M5800 7248l46 16M6234 7241l46 16M6667 7234l46 16" class="ax"/>
<g class="tk"><text x="3926" y="7107" text-anchor="end">-100</text><text x="3926" y="6840" text-anchor="end">0</text><text x="3926" y="6573" text-anchor="end">100</text><text x="3926" y="6306" text-anchor="end">200</text><text x="3927" y="7178" text-anchor="end">-200</text><text x="4175" y="7256" text-anchor="end">0</text><text x="4422" y="7337" text-anchor="end">200</text><text x="4577" y="7360">2</text><text x="5011" y="7352">2.5</text><text x="5444" y="7345">3</text><text x="5877" y="7338">3.5</text><text x="6311" y="7330">4</text><text x="6744" y="7322">4.5</text></g>
<text transform="translate(3763 6703) rotate(-90)" text-anchor="middle" class="al">Im(NLC)&#160; (fF)</text>
<text x="3804" y="7454" class="al">V<tspan font-size="66" dy="40">m</tspan><tspan dy="-40" dx="8"> (mV)</tspan></text>
<text x="5267" y="7517" class="al">F (10<tspan font-size="66" dy="-36">n</tspan><tspan dy="36"> Hz [LOG])</tspan></text>
<path d="M4007 8516l0-810M4007 8516l531 161M4433 8508l0-810M4433 8508l531 161M4859 8499l0-810M4859 8499l531 161M5284 8490l0-809M5284 8490l532 162M5710 8482l0-810M5710 8482l531 161M6136 8474l0-810M6136 8474l531 161M4007 8516l2129-42M6136 8474l531 161M4007 8246l2129-42M6136 8204l531 161M4007 7976l2129-42M6136 7934l531 161M4007 7706l2129-42M6136 7664l531 161M6136 8474l0-810M4007 8516l2129-42M6402 8554l0-810M4273 8597l2129-43M6667 8635l0-810M4538 8677l2129-42" class="gr"/>
<path d="M4007 8516l0-810M4007 8516l531 161M4538 8677l2129-42M4007 8516l-50-12M4007 8246l-50-12M4007 7976l-50-12M4007 7706l-50-12M4007 8516l-36 1M4273 8597l-36 1M4538 8677l-36 1M4538 8677l46 16M4964 8669l46 16M5390 8660l46 16M5816 8652l46 16M6241 8643l46 16M6667 8635l46 16" class="ax"/>
<g class="tk"><text x="3928" y="8524" text-anchor="end">-100</text><text x="3928" y="8254" text-anchor="end">0</text><text x="3928" y="7984" text-anchor="end">100</text><text x="3928" y="7714" text-anchor="end">200</text><text x="3929" y="8595" text-anchor="end">-200</text><text x="4195" y="8667" text-anchor="end">0</text><text x="4460" y="8743" text-anchor="end">200</text><text x="4615" y="8766">2</text><text x="5041" y="8758">2.5</text><text x="5467" y="8749">3</text><text x="5893" y="8741">3.5</text><text x="6318" y="8732">4</text><text x="6744" y="8724">4.5</text></g>
<text transform="translate(3765 8111) rotate(-90)" text-anchor="middle" class="al">Re(NLC) / Im(NLC) (fF)</text>
<text x="3826" y="8865" class="al">V<tspan font-size="66" dy="40">m</tspan><tspan dy="-40" dx="8"> (mV)</tspan></text>
<text x="5287" y="8918" class="al">F (10<tspan font-size="66" dy="-36">n</tspan><tspan dy="36"> Hz [LOG])</tspan></text>
<g opacity="0.6"><path d="M6170 5388l49-2 50-21 49-10 46 16-50 5-49 15-50-2z" fill="url(#q280)"/><path d="M6124 5387l50-6 49-30 50-15 61 25-49 8-50 19-49 1z" fill="url(#q279)"/><path d="M6079 5385l49-10 50-39 49-21 62 28-50 13-49 27-50 4z" fill="url(#q278)"/><path d="M6033 5384l50-16 49-48 50-29 61 31-49 20-50 35-49 9z" fill="url(#q277)"/><path d="M5988 5382l49-21 50-59 49-37 62 34-50 27-49 44-50 14z" fill="url(#q276)"/><path d="M5942 5379l50-26 49-70 50-44 61 36-49 33-50 55-50 19z" fill="url(#q275)"/><path d="M5897 5377l49-32 50-81 49-52 62 36-50 42-49 66-50 24z" fill="url(#q274)"/><path d="M5851 5375l50-38 49-92 50-60 61 36-49 50-50 77-50 30z" fill="url(#q273)"/><path d="M5806 5373l49-43 50-103 49-68 62 35-50 58-49 88-50 36z" fill="url(#q272)"/><path d="M5760 5371l50-48 49-113 50-75 61 33-49 65-50 100-50 41z" fill="url(#q271)"/><path d="M5715 5370l49-53 50-122 49-81 62 30-50 72-49 110-50 46z" fill="url(#q270)"/><path d="M5669 5368l50-56 49-131 50-86 61 26-49 79-50 119-50 51z" fill="url(#q269)"/><path d="M5624 5367l49-60 50-137 49-92 62 23-50 85-49 127-50 56z" fill="url(#q268)"/><path d="M5578 5367l50-64 49-143 50-96 61 20-49 90-50 135-50 59z" fill="url(#q267)"/><path d="M5533 5366l49-66 50-148 49-100 62 17-50 94-49 142-50 62z" fill="url(#q266)"/><path d="M5487 5366l50-68 49-153 50-102 61 13-49 98-50 147-50 65z" fill="url(#q265)"/><path d="M5442 5366l49-70 50-156 49-105 62 11-50 101-50 152-49 67z" fill="url(#q264)"/><path d="M5396 5366l50-71 49-159 50-107 61 8-49 105-50 155-50 69z" fill="url(#q263)"/><path d="M5351 5366l49-72 50-162 49-108 62 7-50 106-50 158-49 71z" fill="url(#q262)"/><path d="M5305 5366l50-73 49-163 50-110 61 6-49 107-50 161-50 72z" fill="url(#q261)"/><path d="M5260 5367l49-74 50-165 49-111 62 4-50 110-50 162-49 73z" fill="url(#q260)"/><path d="M5214 5367l50-74 49-166 50-112 61 3-49 111-50 164-50 73z" fill="url(#q259)"/><path d="M5169 5368l49-75 50-167 49-112 62 2-50 111-50 166-49 74z" fill="url(#q258)"/><path d="M5123 5368l50-75 49-167 50-113 61 1-49 112-50 167-50 74z" fill="url(#q257)"/><path d="M5078 5369l49-76 50-168 49-113 62 1-50 113-50 167-49 75z" fill="url(#q256)"/><path d="M5032 5370l50-76 49-169 50-113 61 0-49 113-50 168-50 76z" fill="url(#q255)"/><path d="M4987 5370l49-76 50-169 49-113 62 0-50 113-50 169-49 75z" fill="url(#q254)"/><path d="M4941 5371l50-76 49-169 50-114 61 0-50 113-49 169-50 76z" fill="url(#q253)"/><path d="M4896 5372l49-77 50-169 49-114 62 0-50 114-50 169-49 76z" fill="url(#q252)"/><path d="M4850 5372l50-76 49-169 50-115 61 0-50 114-49 169-50 76z" fill="url(#q251)"/><path d="M4805 5373l49-76 50-170 49-114 62-1-50 114-50 170-49 76z" fill="url(#q250)"/><path d="M4759 5374l50-77 49-169 50-115 61 0-50 114-49 170-50 76z" fill="url(#q249)"/><path d="M4714 5375l49-77 50-170 49-114 62-1-50 115-50 169-49 77z" fill="url(#q248)"/><path d="M4668 5375l50-76 49-170 50-114 61-1-50 114-49 170-50 76z" fill="url(#q247)"/><path d="M4623 5376l49-76 50-170 49-115 62-1-50 115-50 170-49 76z" fill="url(#q246)"/><path d="M4577 5377l50-77 49-170 50-114 61-1-50 115-49 169-50 77z" fill="url(#q245)"/><path d="M4532 5378l49-77 50-170 49-114 62-1-50 114-50 170-49 77z" fill="url(#q244)"/><path d="M4486 5379l50-77 49-170 50-115 61-1-50 115-49 170-50 77z" fill="url(#q243)"/><path d="M4441 5379l49-76 50-170 49-115 61-1-49 115-50 170-49 76z" fill="url(#q242)"/><path d="M4395 5380l50-76 49-171 50-114 61-1-50 114-49 170-50 77z" fill="url(#q241)"/></g>
<path d="M4615 5394l8-2 9-3 9-4 8-5 9-7 9-9 8-11 9-13 9-15 8-18 9-20 9-24 8-26 9-28 9-30 8-30 9-31 9-30 8-26 9-22 9-17 8-9 9-2M4875 5390l8-2 9-3 9-4 8-6 9-7 9-8 8-11 9-13 9-15 8-18 9-20 9-23 8-26 9-28 9-30 8-31 9-30 9-30 8-26 9-22 9-17 8-9 9-2M5133 5386l8-2 9-3 9-4 8-6 9-6 9-9 8-10 9-13 9-15 8-17 9-20 9-23 8-26 9-27 9-29 8-31 9-30 9-29 8-26 9-21 9-17 8-9 9-2M5389 5383l9-2 8-3 9-3 9-5 8-7 9-7 9-10 8-12 9-14 9-16 8-19 9-22 9-24 8-26 9-27 9-29 8-28 9-27 9-25 8-20 9-15 9-9 8-2M5656 5382l9-1 8-1 9-3 9-3 8-5 9-6 9-7 8-10 9-11 9-13 8-15 9-17 9-19 8-20 9-22 9-23 8-23 9-22 9-19 8-16 9-12 9-7 8-1M5896 5376l9 0 8-2 9-1 9-3 8-3 9-4 9-4 8-6 9-7 9-7 8-9 9-9 9-10 8-11 9-11 9-11 8-10 9-10 9-8 8-6 9-4 9-2 8 1M6045 5376l9 1 9 0 8-1 9-1 9-1 8-2 9-2 9-2 8-3 9-4 9-4 8-4 9-5 9-5 8-5 9-4 9-4 8-4 9-3 9-2 8-1 9 1 9 1" class="bl"/>
<g opacity="0.6"><path d="M6318 5355l50 44 49 56 50 36 49 25 50 19 45-1-49-19-50-23-49-33-50-49-49-39z" fill="url(#q280)"/><path d="M6273 5336l49 50 50 64 49 40 50 26 49 20 62-1-50-20-49-23-50-35-49-54-50-42z" fill="url(#q279)"/><path d="M6227 5315l50 56 49 73 50 45 49 27 50 20 61-1-49-19-50-25-49-39-50-61-49-48z" fill="url(#q278)"/><path d="M6182 5291l49 63 50 83 49 50 50 29 49 21 62-1-50-20-49-27-50-43-49-70-50-54z" fill="url(#q277)"/><path d="M6136 5265l50 71 49 93 50 56 49 31 50 21 61-1-49-20-50-29-49-48-50-79-49-61z" fill="url(#q276)"/><path d="M6091 5239l49 78 50 105 49 61 50 32 49 23 62-1-50-21-49-30-50-54-49-89-50-68z" fill="url(#q275)"/><path d="M6045 5212l50 86 49 116 50 67 49 34 50 23 61-1-49-21-50-33-49-58-50-101-49-76z" fill="url(#q274)"/><path d="M6000 5185l49 94 50 127 49 72 50 37 49 24 62-1-50-23-49-34-50-64-49-112-50-84z" fill="url(#q273)"/><path d="M5954 5159l50 102 49 138 50 77 49 39 50 24 61-1-49-23-50-36-49-70-50-123-49-92z" fill="url(#q272)"/><path d="M5909 5135l49 109 50 148 49 83 50 40 49 25 62-1-50-24-49-38-50-76-49-134-50-99z" fill="url(#q271)"/><path d="M5863 5114l50 115 49 157 50 87 49 42 50 25 61 0-49-25-50-40-49-81-50-144-49-106z" fill="url(#q270)"/><path d="M5818 5095l49 121 50 164 49 92 50 43 49 26 62-1-50-25-49-42-50-85-49-154-50-113z" fill="url(#q269)"/><path d="M5772 5078l50 126 49 172 50 95 49 44 50 26 61 0-49-26-50-43-49-90-50-162-49-119z" fill="url(#q268)"/><path d="M5727 5064l49 130 50 178 49 98 50 46 49 26 62-1-50-26-49-44-50-94-49-169-50-124z" fill="url(#q267)"/><path d="M5681 5052l50 134 49 183 50 100 49 47 50 27 61-1-49-26-50-46-49-97-50-175-49-129z" fill="url(#q266)"/><path d="M5636 5043l49 136 50 188 49 102 50 48 49 26 62 0-50-27-49-47-50-99-49-181-50-133z" fill="url(#q265)"/><path d="M5590 5035l50 139 49 191 50 104 49 48 50 27 61-1-49-27-50-47-49-102-50-185-49-136z" fill="url(#q264)"/><path d="M5545 5029l49 141 50 193 49 106 50 49 49 27 62-1-50-27-49-48-50-104-49-189-50-139z" fill="url(#q263)"/><path d="M5499 5024l50 143 49 195 50 107 49 49 50 28 61-1-49-28-50-48-49-105-50-193-49-140z" fill="url(#q262)"/><path d="M5454 5020l49 144 50 198 49 107 50 50 49 27 62-1-50-27-49-49-50-106-49-195-50-142z" fill="url(#q261)"/><path d="M5408 5017l50 146 49 199 50 108 49 50 50 27 61-1-49-27-50-50-49-107-50-197-49-144z" fill="url(#q260)"/><path d="M5363 5015l49 146 50 200 49 109 50 50 49 28 62-1-50-28-49-49-50-108-49-199-50-145z" fill="url(#q259)"/><path d="M5317 5014l50 146 49 202 50 109 49 50 50 28 61-1-49-28-50-50-49-109-50-199-49-146z" fill="url(#q258)"/><path d="M5272 5013l49 147 50 202 49 109 50 51 49 27 62-1-50-27-49-50-50-110-49-200-50-147z" fill="url(#q257)"/><path d="M5226 5012l50 148 49 202 50 110 49 50 50 28 61-1-49-28-50-50-49-109-50-202-49-147z" fill="url(#q256)"/><path d="M5181 5012l49 148 50 203 49 110 50 50 49 28 62-1-50-28-49-50-50-110-49-202-50-148z" fill="url(#q255)"/><path d="M5135 5012l50 148 49 203 50 110 49 51 50 28 61-1-49-28-50-51-49-110-50-202-49-148z" fill="url(#q254)"/><path d="M5090 5012l49 148 50 204 49 110 50 51 49 27 62-1-50-27-49-51-50-110-49-203-50-148z" fill="url(#q253)"/><path d="M5044 5012l50 149 49 203 50 111 49 50 50 28 61-1-49-28-50-50-49-111-50-203-49-148z" fill="url(#q252)"/><path d="M4999 5012l49 149 50 204 49 111 50 50 49 28 62-1-50-28-49-50-50-111-49-204-50-148z" fill="url(#q251)"/><path d="M4953 5013l50 149 49 204 50 110 49 51 50 28 61-1-49-28-50-51-49-110-50-204-49-149z" fill="url(#q250)"/><path d="M4908 5013l49 149 50 204 49 111 50 51 49 28 62-1-50-28-49-51-50-111-49-204-50-148z" fill="url(#q249)"/><path d="M4862 5014l50 149 49 204 50 111 49 51 50 27 61-1-49-28-50-50-49-111-50-204-49-149z" fill="url(#q248)"/><path d="M4817 5015l49 148 50 205 49 111 50 50 49 28 62-1-50-28-49-50-50-111-49-204-50-149z" fill="url(#q247)"/><path d="M4771 5015l50 149 49 204 50 111 49 51 50 28 61-1-49-28-50-51-49-111-50-204-49-149z" fill="url(#q246)"/><path d="M4726 5016l49 149 50 204 49 111 50 51 49 28 62-1-50-28-49-51-50-111-49-204-50-149z" fill="url(#q245)"/><path d="M4680 5017l50 149 49 204 50 111 49 51 50 28 61-2-49-27-50-51-49-111-50-204-49-149z" fill="url(#q244)"/><path d="M4635 5017l49 149 50 205 49 111 50 50 49 28 62-1-50-28-49-50-50-111-49-205-50-149z" fill="url(#q243)"/><path d="M4589 5018l50 149 49 205 50 111 49 50 50 28 61-1-49-28-50-51-49-111-50-204-50-149z" fill="url(#q242)"/><path d="M4544 5019l49 149 50 204 49 111 50 51 49 28 62-1-50-28-49-51-50-111-49-204-50-149z" fill="url(#q241)"/></g>
<path d="M4615 5394l8-2 9-3 9-4 8-5 9-7 9-9 8-11 9-13 9-15 8-18M4875 5390l8-2 9-3 9-4 8-6 9-7 9-8 8-11 9-13 9-15 8-18M5133 5386l8-2 9-3 9-4 8-6 9-6 9-9 8-10 9-13 9-15 8-17M5389 5383l9-2 8-3 9-3 9-5 8-7 9-7 9-10 8-12 9-14 9-16M5656 5382l9-1 8-1 9-3 9-3 8-5 9-6 9-7 8-10 9-11 9-13 8-15 9-17M5896 5376l9 0 8-2 9-1 9-3 8-3 9-4 9-4 8-6 9-7 9-7 8-9 9-9 9-10 8-11M6045 5376l9 1 9 0 8-1 9-1 9-1 8-2 9-2 9-2 8-3 9-4 9-4 8-4 9-5 9-5 8-5 9-4 9-4 8-4 9-3 9-2" class="bl" opacity="0.7"/>
<path d="M4701 5307l9-20 9-24 8-26 9-28M4961 5303l9-20 9-23 8-26 9-28M5219 5301l9-20 9-23 8-26 9-27 9-29M5476 5304l8-19 9-22 9-24 8-26 9-27M5760 5290l9-19 8-20 9-22 9-23 8-23M6017 5300l9-11 9-11 8-10 9-10 9-8 8-6 9-4 9-2 8 1M6219 5321l8-1 9 1 9 1" class="bl" opacity="0.4"/>
<path d="M4452 5379h1M4604 5377h1M4713 5375h1M4797 5373h1M4865 5372h1M4923 5371h1M4973 5370h1M5018 5370h1M5057 5369h1M5093 5369h1M5126 5368h1M5156 5368h1M5184 5368h1M5210 5367h1M5234 5367h1M5257 5367h1M5279 5368h1M5299 5367h1M5318 5366h1M5337 5366h1M5354 5365h1M5371 5365h1M5387 5363h1M4501 5303h1M4654 5300h1M4762 5298h1M4846 5297h1M4915 5296h1M4973 5295h1M5023 5294h1M5067 5294h1M5107 5293h1M5143 5293h1M5176 5293h1M5206 5293h1M5234 5293h1M5260 5293h1M5284 5293h1M5307 5293h1M5328 5292h1M5349 5290h1M5368 5290h1M5386 5293h1M5404 5298h1M5421 5299h1M5437 5301h1M4551 5133h1M4703 5130h1M4812 5128h1M4896 5127h1M4964 5126h1M5022 5126h1M5073 5126h1M5117 5125h1M5157 5125h1M5192 5125h1M5225 5126h1M5255 5126h1M5283 5126h1M5309 5127h1M5333 5127h1M5356 5129h1M5378 5128h1M5398 5130h1M5417 5128h1M5436 5131h1M5453 5130h1M5470 5132h1M5486 5133h1M4600 5018h1M4753 5016h1M4861 5014h1M4945 5013h1M5014 5012h1M5072 5012h1M5122 5012h1M5166 5012h1M5206 5012h1M5242 5012h1M5275 5013h1M5305 5014h1M5333 5014h1M5359 5015h1M5383 5016h1M5406 5018h1M5427 5019h1M5448 5021h1M5467 5022h1M5485 5023h1M5503 5024h1M5520 5026h1M5536 5028h1M4650 5167h1M4802 5164h1M4911 5163h1M4995 5162h1M5063 5161h1M5121 5160h1M5172 5160h1M5216 5160h1M5256 5160h1M5291 5160h1M5324 5160h1M5354 5160h1M5382 5161h1M5408 5160h1M5432 5161h1M5455 5162h1M5477 5163h1M5497 5164h1M5516 5165h1M5535 5164h1M5552 5164h1M5569 5166h1M5585 5167h1M4699 5371h1M4852 5369h1M4960 5367h1M5044 5366h1M5113 5365h1M5171 5364h1M5221 5363h1M5265 5363h1M5305 5362h1M5341 5362h1M5374 5362h1M5404 5362h1M5432 5361h1M5458 5362h1M5482 5362h1M5505 5362h1M5526 5360h1M5547 5361h1M5566 5361h1M5584 5363h1M5602 5363h1M5619 5363h1M5635 5361h1M4749 5482h1M4901 5480h1M5010 5478h1M5094 5476h1M5162 5475h1M5220 5474h1M5271 5474h1M5315 5473h1M5355 5472h1M5390 5472h1M5423 5471h1M5453 5471h1M5481 5471h1M5507 5471h1M5532 5470h1M5554 5470h1M5576 5470h1M5596 5470h1M5615 5469h1M5634 5471h1M5651 5468h1M5668 5468h1M5684 5467h1M4798 5533h1M4951 5530h1M5059 5529h1M5143 5527h1M5212 5526h1M5270 5525h1M5320 5524h1M5364 5523h1M5404 5523h1M5440 5522h1M5473 5522h1M5503 5521h1M5531 5521h1M5557 5521h1M5581 5520h1M5604 5520h1M5625 5519h1M5646 5519h1M5665 5518h1M5683 5518h1M5701 5518h1M5718 5517h1M5734 5517h1M4848 5561h1M5000 5558h1M5109 5556h1M5193 5555h1M5261 5554h1M5319 5553h1M5370 5552h1M5414 5551h1M5454 5550h1M5490 5550h1M5522 5549h1M5552 5549h1M5580 5548h1M5606 5548h1M5631 5547h1M5653 5547h1M5675 5547h1M5695 5547h1M5715 5547h1M5733 5547h1M5750 5546h1M5767 5544h1M5783 5544h1" class="dt"/><path d="M5354 5365l17 0 16-2 15 0 15 2 14 1 14 2 13 0 13-1 12-1 12 1 12 2 11 0 11 1 11-1 10 1 10-2 19-7 19 7 17-1 17-2 16-1 15-3 15 6 14 7 14-5 13-6 13 1 12 3 12 0 12 4 11-7 11 1 11 19 10-12 10 5 14-5 14 2 14-1 13 4 13-9 12 13 12-4 11 1 11-4 11 7 11 1 10 3 13 4 13-7 12-11 12-3 12 15 11-2 11 5 10-8 11 3 10 15 12-11 12 14 11-19 11 15 11-14 11 13 10-5 12-19 11 9 11 9 11-2M5404 5298l17 1 16 2 15-3 15 0 14-2 14 2 13 3 13 2 12-1 12-5 11-1 12-3 11 7 10 0 10 7 10 6 20-8 18-5 18-5 16 13 16 4 16-3 15-3 14 5 13 3 14-11 12 13 13 21 12-12 11-3 12 10 10-10 11 6 10 8 10 3 15-3 14 1 14 0 13 6 12-2 12 5 12-3 12-18 11 17 11 23 10 0 10-14 14-1 12 9 13 51 12-48 11 7 11-2 11 4 11 5 10 10 10-19 12 11 12-36 12 25 11 12 11 5 10 18 10-25 12 34 12-56 11 40 11-18M5453 5130l17 2 16 1 15 1 15 4 14 2 14 2 13 1 13 1 12 5 12 2 12-2 11-1 11-2 11 6 10 2 10-4 19 3 19 10 17-1 17 6 16 23 15-5 15 3 14 4 14-13 13 0 13 12 12 14 12-1 12 18 11 7 11 8 11-4 10 0 10 1 14 10 15-15 13 22 13 9 13-17 12 13 12-5 11 14 11 11 11 10 11 12 10 0 13 19 13-24 12 29 12-26 12 13 11-9 11 34 10-26 11 19 10 0 12-9 12 53 11-40 11 14 11 23 11-33 10 39 12-8 11-11 11 19 11 2M5503 5024l17 2 16 2 15 1 15 4 14 2 14 2 13 0 13 2 12 3 12 3 11 1 12 3 11 2 10 2 10 4 11 4 19 0 18 8 18 4 16 8 16 8 16 4 15 4 14 6 13 10 14 2 12 5 13 10 12 4 11 9 12 7 10 0 11 4 10 7 10 10 15 4 14 11 14 4 13 0 12 21 12 9 12 2 12 11 11 2 11 4 10 7 10 10 14 2 12 8 13 13 12-1 11 10 11 8 11 1 11 12 10 5 10 0 13 5 11 11 12 3 11-5 11 11 10 9 10 2 12 4 12 6 11 4 11-8M5552 5164l17 2 16 1 15 5 15 2 14 3 14-4 13-1 13 3 12 5 12 3 12 7 11 2 11 6 11-9 10 6 10 2 19 6 19 1 17-8 17 11 16 1 15 3 15 0 14 10 14-3 13 9 13 14 12 2 12-7 12 13 11 9 11 2 11-11 10 15 10 13 15-20 14 19 13-8 13 28 13 0 12-6 12 17 11-9 11 15 11 23 11-9 10 6 13 4 13 3 12 9 12-7 12 13 11-12 11 17 11 21 10-4 10-11 12-5 12 35 11-29 11 24 11-34 11 48 10 12 12 10 11-44 11 32 11 20M5602 5363l17 0 16-2 15-1 15 1 14-1 14 4 13 3 13 5 12-2 12 2 11 2 12 3 11-8 10 1 11-5 10 3 19 3 18 9 18 4 16-10 17 13 15-1 15-4 14 1 14 9 13-7 12-9 13 14 12 1 11 4 12 3 11 4 10 5 10 5 10-3 15-17 14 15 14-6 13 23 12-8 12 22 12-42 12 28 11 12 11 3 10-18 10-1 14 18 12-12 13 16 12-10 11-19 12-2 10 43 11-17 10-1 10-4 13-28 11 39 12 23 11-27 11 22 10-3 10-8 12 3 12 8 11-38 11 55M5651 5468l17 0 16-1 15 1 15 0 14-1 14-1 13 0 13 1 12 1 12 3 12-3 11 0 11-5 11 3 10 1 10 2 19-1 19 2 17-1 17 2 16-2 15 3 15 0 14-7 14 5 13 11 13-10 12-7 12 16 12-1 11 0 11-5 11-1 10 1 10-2 15 2 14-3 13 5 13 7 13-5 12 13 12-2 11-14 11 8 11 4 11-15 10 7 13 0 13-1 12 4 12-8 12 4 11 16 11-10 11 2 10 7 10-21 12 6 12 4 11-6 11 24 11-30 11 37 10-28 12 9 11-9 11 9 11-6" class="dl"/><path d="M5701 5518l17-1 16 0 15 1 15 0 14 1 14 2 13 3 13-3 12-3 12-2 12-1 11-1 11-2 10-2 11 4 10 1 19 2 18 1 18-4 17 6 16 1 15-5 15 0 14-6 14 2 13 0 13 1 12 3 12 0 11 7 12-5 11-3 10 2 10 0 11-5 14 4 14-1 14-2 13 10 12-1 13-5 11-5 12 9 11-13 11 14 10-5 10 15 14-15 12 4 13-5 12-1 11 4 12-2 10 0 11-1 10 11 10-11 13 5 11-1 12-2 11-18 11 14 10 13 10-12 12-1 12 3 11 1 11 12M5750 5546l17-2 16 0 16 1 14 0 14 0 14-1 13-3 13-1 12 2 12 3 12-1 11-1 11-1 11 2 10 1 10-2 19-1 19 0 17-1 17-1 16 3 15 2 15-2 14-3 14-1 13-1 13 3 12-6 12 4 12 0 11 0 11-2 11-1 10-1 10 1 15-7 14 6 13 7 13-8 13 2 12 4 12 3 11-13 11 11 11 1 11-3 10-2 13-1 13-3 12 1 12-4 12 9 11 2 11-10 11-2 10 14 10-5 12 5 12-8 11-2 11 7 11 3 11-6 10-4 12 0 11-2 12-1 10 2" class="dk"/>
<path d="M4814 5012l9 7 10 16 9 23 9 30 9 34 9 37 9 38 10 38 9 36 9 34 9 32 9 28 10 26 9 22 9 20 9 18 9 15 10 14 9 12 9 10 9 9 9 9 10 7 9 7 9 6 9 5 9 5 9 5 10 5 9 4 9 4 9 4 9 4M5074 5009l9 7 9 16 10 23 9 30 9 34 9 37 9 38 10 37 9 36 9 34 9 32 9 28 10 26 9 22 9 20 9 18 9 15 9 14 10 11 9 11 9 9 9 8 9 8 10 6 9 6 9 6 9 5 9 5 10 4 9 5 9 4 9 4 9 3M5332 5011l9 7 9 16 9 23 10 29 9 34 9 36 9 37 9 38 10 35 9 34 9 31 9 28 9 25 10 22 9 20 9 17 9 16 9 13 10 12 9 10 9 9 9 8 9 7 9 7 10 6 9 6 9 5 9 4 9 5 10 4 9 4 9 4 9 4M5588 5031l10 7 9 15 9 22 9 27 9 32 10 35 9 36 9 35 9 34 9 32 10 29 9 27 9 24 9 21 9 19 9 17 10 14 9 13 9 11 9 10 9 9 10 8 9 7 9 6 9 6 9 6 10 5 9 4 9 5 9 4 9 4 10 4 9 4M5855 5106l10 6 9 13 9 18 9 23 9 26 10 29 9 30 9 29 9 28 9 27 9 25 10 22 9 20 9 18 9 16 9 14 10 13 9 11 9 10 9 8 9 8 10 7 9 7 9 5 9 6 9 5 10 5 9 4 9 4 9 4 9 4 10 4 9 3M6095 5239l10 4 9 7 9 10 9 12 9 15 10 15 9 17 9 17 9 17 9 17 10 16 9 15 9 14 9 13 9 12 10 11 9 11 9 9 9 9 9 7 9 8 10 6 9 7 9 5 9 6 9 5 10 5 9 4 9 4 9 5 9 4 10 3 9 4M6245 5322l9 4 9 5 9 6 9 7 9 9 10 10 9 10 9 10 9 11 9 10 10 11 9 10 9 10 9 9 9 9 10 8 9 8 9 7 9 7 9 7 10 6 9 6 9 5 9 5 9 5 10 5 9 4 9 5 9 4 9 4 9 4 10 4 9 4" class="bl"/>
<text x="5700" y="4991" class="an">G<tspan font-size="60" dy="38" dx="6">NL</tspan><tspan dy="-38"> subtracted</tspan></text>
<g opacity="0.62"><path d="M6170 6845l49 60 50 88 49 73 46-8-50-72-49-84-50-60z" fill="url(#q320)"/><path d="M6124 6846l50 63 49 90 50 75 61-11-49-72-50-87-49-60z" fill="url(#q319)"/><path d="M6079 6846l49 62 50 93 49 80 62-9-50-75-49-89-50-62z" fill="url(#q318)"/><path d="M6033 6845l50 62 49 96 50 83 61-7-49-79-50-92-49-62z" fill="url(#q317)"/><path d="M5988 6843l49 62 50 98 49 87 62-5-50-83-49-95-50-62z" fill="url(#q316)"/><path d="M5942 6842l50 61 49 99 50 91 61-4-49-86-50-97-50-62z" fill="url(#q315)"/><path d="M5897 6841l49 60 50 99 49 93 62-1-50-89-49-99-50-61z" fill="url(#q314)"/><path d="M5851 6840l50 57 49 99 50 95 61 2-49-92-50-99-50-61z" fill="url(#q313)"/></g><g opacity="0.6"><path d="M5806 6838l49 56 50 96 49 95 46 6-50-95-49-99-50-57z" fill="url(#q312)"/><path d="M5760 6836l50 53 49 94 50 94 61 10-49-94-50-98-50-56z" fill="url(#q311)"/><path d="M5715 6835l49 50 50 90 49 92 62 13-50-94-49-95-50-54z" fill="url(#q310)"/></g><g opacity="0.56"><path d="M5669 6834l50 47 49 86 50 88 45 12-49-92-50-90-49-50z" fill="url(#q309)"/><path d="M5624 6834l49 45 50 80 49 84 62 16-50-90-49-87-50-48z" fill="url(#q308)"/><path d="M5578 6833l50 43 49 76 50 78 61 17-49-85-50-82-50-46z" fill="url(#q307)"/><path d="M5533 6833l49 41 50 70 49 73 62 18-50-80-49-78-50-43z" fill="url(#q306)"/></g><g opacity="0.52"><path d="M5487 6833l50 38 49 66 50 68 45 12-49-73-50-70-49-41z" fill="url(#q305)"/><path d="M5442 6833l49 36 50 61 49 63 62 16-50-69-50-68-49-39z" fill="url(#q304)"/><path d="M5396 6832l50 35 49 57 50 58 61 15-49-65-50-62-50-37z" fill="url(#q303)"/><path d="M5351 6832l49 33 50 53 49 54 62 14-50-60-50-58-49-36z" fill="url(#q302)"/></g><g opacity="0.48"><path d="M5305 6832l50 32 49 48 50 51 45 9-49-54-50-53-49-33z" fill="url(#q301)"/><path d="M5260 6832l49 30 50 46 49 46 62 12-50-52-50-50-49-32z" fill="url(#q300)"/><path d="M5214 6832l50 29 49 42 50 44 61 10-49-48-50-46-50-31z" fill="url(#q299)"/><path d="M5169 6833l49 27 50 39 49 41 62 9-50-44-50-44-49-29z" fill="url(#q298)"/></g><g opacity="0.45"><path d="M5123 6833l50 26 49 37 50 38 45 6-49-41-50-39-49-27z" fill="url(#q297)"/><path d="M5078 6833l49 25 50 35 49 36 62 7-50-39-50-38-49-26z" fill="url(#q296)"/><path d="M5032 6834l50 24 49 33 50 33 61 7-49-37-50-36-50-25z" fill="url(#q295)"/><path d="M4987 6834l49 23 50 32 49 31 62 6-50-34-50-34-49-25z" fill="url(#q294)"/><path d="M4941 6834l50 23 49 30 50 30 61 5-50-33-49-32-50-23z" fill="url(#q293)"/><path d="M4896 6835l49 22 50 28 49 29 62 4-50-31-50-30-49-23z" fill="url(#q292)"/><path d="M4850 6835l50 22 49 27 50 27 61 4-50-29-49-29-50-22z" fill="url(#q291)"/><path d="M4805 6836l49 21 50 26 49 26 62 3-50-28-50-27-49-22z" fill="url(#q290)"/><path d="M4759 6836l50 21 49 25 50 25 61 3-50-27-49-26-50-21z" fill="url(#q289)"/><path d="M4714 6837l49 20 50 24 49 25 62 2-50-26-50-25-49-21z" fill="url(#q288)"/><path d="M4668 6838l50 20 49 23 50 23 61 2-50-25-49-24-50-20z" fill="url(#q287)"/><path d="M4623 6838l49 20 50 22 49 23 62 2-50-24-50-24-49-20z" fill="url(#q286)"/><path d="M4577 6839l50 19 49 22 50 22 61 2-50-23-49-23-50-20z" fill="url(#q285)"/><path d="M4532 6840l49 19 50 21 49 22 62 1-50-23-50-22-49-19z" fill="url(#q284)"/><path d="M4486 6840l50 19 49 21 50 21 61 1-50-22-49-21-50-20z" fill="url(#q283)"/><path d="M4441 6841l49 19 50 20 49 21 61 0-49-21-50-21-49-19z" fill="url(#q282)"/><path d="M4395 6842l50 18 49 20 50 21 61 0-50-21-49-21-50-18z" fill="url(#q281)"/></g>
<path d="M4615 6823l9 4 9 4 9 3 9 4 10 4 9 4 9 4 9 4 9 5 9 4 9 5 10 4 9 4 9 5 9 4 9 3 9 4 10 3 9 3 9 3 9 2 9 2 9 2M4875 6820l9 4 9 3 9 4 9 5 9 4 10 4 9 5 9 5 9 5 9 5 9 6 10 5 9 6 9 6 9 5 9 5 9 5 9 5 10 3 9 3 9 3 9 2 9 1M5133 6816l9 4 9 5 9 4 9 4 9 5 9 5 10 6 9 6 9 6 9 7 9 7 9 7 10 8 9 8 9 8 9 8 9 7 9 7 9 6 10 6 9 4 9 3 9 1M5389 6813l9 5 9 4 10 5 9 5 9 5 9 6 9 7 9 7 9 7 10 8 9 10 9 9 9 11 9 11 9 12 10 12 9 12 9 12 9 12 9 10 9 8 9 7 10 4M5656 6812l9 5 9 5 10 6 9 7 9 7 9 7 9 9 9 9 9 11 10 11 9 13 9 14 9 16 9 16 9 18 9 18 10 18 9 18 9 17 9 14 9 12 9 9 10 5M5896 6809l9 6 9 5 10 7 9 7 9 7 9 9 9 9 9 11 9 11 10 13 9 15 9 16 9 17 9 19 9 20 10 21 9 20 9 21 9 19 9 16 9 14 9 9 10 6M6045 6806l9 5 10 5 9 6 9 7 9 7 9 8 9 9 9 10 10 11 9 12 9 13 9 15 9 16 9 17 9 19 10 19 9 19 9 18 9 18 9 15 9 13 10 9 9 5" class="bl"/>
<g opacity="0.64"><path d="M6318 7066l50-4 49-55 50-41 49-13 50 4 45-1-49-5-50 12-49 39-50 52-49 4z" fill="url(#q320)"/><path d="M6273 7074l49-5 50-58 49-43 50-14 49 4 62-2-50-4-49 13-50 40-49 54-50 4z" fill="url(#q319)"/><path d="M6227 7081l50-7 49-62 50-45 49-13 50 4 61-1-49-3-50 14-49 42-50 57-49 5z" fill="url(#q318)"/><path d="M6182 7086l49-8 50-66 49-46 50-13 49 5 62 0-50-4-49 14-50 44-49 61-50 6z" fill="url(#q317)"/><path d="M6136 7090l50-10 49-69 50-46 49-13 50 6 61 0-49-5-50 14-49 45-50 65-49 8z" fill="url(#q316)"/><path d="M6091 7093l49-12 50-72 49-46 50-11 49 6 62 0-50-5-49 12-50 46-49 68-50 10z" fill="url(#q315)"/><path d="M6045 7093l50-13 49-74 50-45 49-10 50 7 61 0-49-6-50 12-49 45-50 72-49 11z" fill="url(#q314)"/><path d="M6000 7091l49-14 50-75 49-43 50-9 49 8 62 0-50-7-49 11-50 45-49 74-50 12z" fill="url(#q313)"/></g><g opacity="0.62"><path d="M5954 7085l50-14 49-74 50-41 49-7 50 9 45 0-49-8-50 9-49 43-50 75-49 14z" fill="url(#q312)"/><path d="M5909 7077l49-14 50-72 49-38 50-4 49 9 62 0-50-8-49 7-50 42-49 75-50 13z" fill="url(#q311)"/><path d="M5863 7067l50-13 49-69 50-35 49-2 50 11 61-1-49-9-50 5-49 39-50 73-49 14z" fill="url(#q310)"/></g><g opacity="0.58"><path d="M5818 7055l49-12 50-64 49-30 50-1 49 11 46 0-50-11-49 2-50 35-49 69-50 13z" fill="url(#q309)"/><path d="M5772 7043l50-10 49-58 50-27 49 0 50 12 61-1-49-11-50 1-49 32-50 66-49 12z" fill="url(#q308)"/><path d="M5727 7030l49-8 50-52 49-24 50 2 49 12 62 0-50-12-49 0-50 28-49 61-50 10z" fill="url(#q307)"/><path d="M5681 7017l50-5 49-47 50-20 49 3 50 13 61-1-49-12-50-1-49 25-50 54-49 9z" fill="url(#q306)"/></g><g opacity="0.54"><path d="M5636 7005l49-4 50-40 49-17 50 5 49 13 46-1-50-13-49-3-50 20-49 47-50 5z" fill="url(#q305)"/><path d="M5590 6993l50-1 49-35 50-14 49 6 50 13 61-1-49-13-50-4-49 18-50 43-49 4z" fill="url(#q304)"/><path d="M5545 6982l49 0 50-29 49-11 50 7 49 14 62-1-50-13-49-6-50 15-49 37-50 2z" fill="url(#q303)"/><path d="M5499 6972l50 2 49-25 50-8 49 8 50 14 61 0-49-14-50-6-49 11-50 32-49 0z" fill="url(#q302)"/></g><g opacity="0.5"><path d="M5454 6963l49 3 50-20 49-5 50 9 49 14 46-1-50-14-49-8-50 8-49 25-50-2z" fill="url(#q301)"/><path d="M5408 6954l50 5 49-16 50-3 49 10 50 15 61-1-49-14-50-9-49 6-50 22-49-3z" fill="url(#q300)"/><path d="M5363 6947l49 6 50-13 49 0 50 10 49 15 62 0-50-15-49-10-50 4-49 18-50-5z" fill="url(#q299)"/><path d="M5317 6940l50 8 49-10 50 2 49 11 50 15 61-1-49-15-50-10-49 1-50 14-49-6z" fill="url(#q298)"/></g><g opacity="0.47"><path d="M5272 6934l49 9 50-7 49 3 50 12 49 16 46-1-50-15-49-11-50-2-49 10-50-8z" fill="url(#q297)"/><path d="M5226 6929l50 10 49-4 50 4 49 13 50 16 61-1-49-16-50-12-49-2-50 8-49-9z" fill="url(#q296)"/><path d="M5181 6924l49 11 50-2 49 6 50 13 49 16 62-1-50-15-49-13-50-4-49 5-50-9z" fill="url(#q295)"/><path d="M5135 6920l50 12 49 0 50 7 49 14 50 16 61-1-49-16-50-13-49-5-50 2-49-10z" fill="url(#q294)"/><path d="M5090 6917l49 12 50 2 49 9 50 14 49 16 62-1-50-16-49-14-50-7-49 1-50-11z" fill="url(#q293)"/><path d="M5044 6914l50 12 49 4 50 10 49 14 50 16 61-1-49-16-50-13-49-9-50-1-49-12z" fill="url(#q292)"/><path d="M4999 6911l49 13 50 6 49 10 50 15 49 16 62-1-50-16-49-14-50-9-49-4-50-12z" fill="url(#q291)"/><path d="M4953 6909l50 14 49 6 50 12 49 14 50 17 61-1-49-16-50-15-49-10-50-5-49-13z" fill="url(#q290)"/><path d="M4908 6907l49 14 50 8 49 12 50 15 49 17 62-1-50-17-49-15-50-10-49-7-50-13z" fill="url(#q289)"/><path d="M4862 6906l50 14 49 9 50 12 49 16 50 16 61-1-49-16-50-15-49-12-50-7-49-14z" fill="url(#q288)"/><path d="M4817 6904l49 15 50 10 49 13 50 15 49 17 62-1-50-16-49-16-50-12-49-9-50-14z" fill="url(#q287)"/><path d="M4771 6903l50 15 49 11 50 13 49 16 50 17 61-1-49-17-50-15-49-13-50-10-49-14z" fill="url(#q286)"/><path d="M4726 6902l49 16 50 11 49 14 50 16 49 17 62-1-50-17-49-16-50-13-49-11-50-14z" fill="url(#q285)"/><path d="M4680 6902l50 15 49 12 50 15 49 16 50 16 61-1-49-16-50-16-49-14-50-11-49-15z" fill="url(#q284)"/><path d="M4635 6901l49 16 50 13 49 14 50 16 49 17 62-1-50-17-49-16-50-14-49-12-50-15z" fill="url(#q283)"/><path d="M4589 6901l50 16 49 13 50 15 49 16 50 17 61-1-49-17-50-16-49-15-50-12-50-16z" fill="url(#q282)"/><path d="M4544 6901l49 16 50 13 49 15 50 17 49 17 62-1-50-17-49-16-50-15-49-13-50-16z" fill="url(#q281)"/></g>
<path d="M4452 6841h1M4604 6839h1M4713 6837h1M4797 6836h1M4865 6835h1M4923 6835h1M4973 6834h1M5018 6834h1M5057 6833h1M5093 6833h1M5126 6833h1M5156 6833h1M5184 6832h1M5210 6832h1M5234 6832h1M5257 6832h1M5279 6833h1M5299 6833h1M5318 6833h1M5337 6833h1M5354 6833h1M5371 6832h1M5387 6832h1M4501 6860h1M4654 6858h1M4762 6857h1M4846 6857h1M4915 6857h1M4973 6857h1M5023 6857h1M5067 6858h1M5107 6858h1M5143 6858h1M5176 6859h1M5206 6860h1M5234 6860h1M5260 6861h1M5284 6861h1M5307 6862h1M5328 6862h1M5349 6863h1M5368 6863h1M5386 6863h1M5404 6863h1M5421 6866h1M5437 6867h1M4551 6880h1M4703 6880h1M4812 6881h1M4896 6883h1M4964 6884h1M5022 6886h1M5073 6888h1M5117 6890h1M5157 6892h1M5192 6894h1M5225 6896h1M5255 6898h1M5283 6901h1M5309 6903h1M5333 6905h1M5356 6908h1M5378 6909h1M5398 6912h1M5417 6913h1M5436 6915h1M5453 6917h1M5470 6920h1M5486 6922h1M4600 6901h1M4753 6903h1M4861 6906h1M4945 6909h1M5014 6912h1M5072 6916h1M5122 6919h1M5166 6923h1M5206 6927h1M5242 6931h1M5275 6935h1M5305 6938h1M5333 6942h1M5359 6946h1M5383 6950h1M5406 6954h1M5427 6958h1M5448 6961h1M5467 6965h1M5485 6968h1M5503 6972h1M5520 6976h1M5536 6980h1M4650 6917h1M4802 6918h1M4911 6920h1M4995 6922h1M5063 6925h1M5121 6928h1M5172 6931h1M5216 6934h1M5256 6937h1M5291 6940h1M5324 6943h1M5354 6946h1M5382 6950h1M5408 6953h1M5432 6956h1M5455 6959h1M5477 6962h1M5497 6965h1M5516 6967h1M5535 6971h1M5552 6973h1M5569 6978h1M5585 6981h1M4699 6930h1M4852 6929h1M4960 6929h1M5044 6929h1M5113 6930h1M5171 6931h1M5221 6932h1M5265 6933h1M5305 6934h1M5341 6935h1M5374 6936h1M5404 6938h1M5432 6939h1M5458 6940h1M5482 6942h1M5505 6944h1M5526 6946h1M5547 6946h1M5566 6947h1M5584 6948h1M5602 6950h1M5619 6952h1M5635 6952h1M4749 6945h1M4901 6943h1M5010 6941h1M5094 6941h1M5162 6940h1M5220 6940h1M5271 6939h1M5315 6939h1M5355 6939h1M5390 6939h1M5423 6939h1M5453 6940h1M5481 6940h1M5507 6940h1M5532 6940h1M5554 6940h1M5576 6940h1M5596 6941h1M5615 6941h1M5634 6941h1M5651 6940h1M5668 6940h1M5684 6942h1M4798 6961h1M4951 6958h1M5059 6957h1M5143 6956h1M5212 6955h1M5270 6954h1M5320 6953h1M5364 6953h1M5404 6952h1M5440 6952h1M5473 6951h1M5503 6951h1M5531 6951h1M5557 6951h1M5581 6950h1M5604 6950h1M5625 6950h1M5646 6950h1M5665 6949h1M5683 6949h1M5701 6949h1M5718 6949h1M5734 6949h1M4848 6978h1M5000 6975h1M5109 6973h1M5193 6972h1M5261 6971h1M5319 6970h1M5370 6969h1M5414 6968h1M5454 6968h1M5490 6967h1M5522 6967h1M5552 6966h1M5580 6966h1M5606 6966h1M5631 6965h1M5653 6965h1M5675 6965h1M5695 6965h1M5715 6964h1M5733 6964h1M5750 6963h1M5767 6963h1M5783 6963h1" class="dt"/><path d="" class="dl"/><path d="M5354 6833l17-1 16 0 15 0 15 1 14 0 14 0 13 0 13 0 12 0 12-2 12 1 11 1 11 2 11 1 10 0 10 1 19-4 19 2 17 0 17 2 16-2 15 1 15-4 14-1 14 2 13 4 13 3 12-5 12-2 12 2 11 3 11-2 11-1 10 0 10 0 14 5 14-1 14 1 13 0 13 7 12-4 12-2 11-1 11 3 11-4 11 5 10 0 13-2 13 0 12 5 12-4 12 0 11 2 11 2 10-4 11 1 10 0 12 2 12-1 11-1 11 1 11 7 11-13 10 14 12-4 11-11 11 3 11 3M5404 6863l17 3 16 1 15 2 15 0 14-1 14-2 13 0 13 2 12 0 12 0 11-1 12 2 11 1 10 1 10 4 10 2 20 1 18 2 18-4 16-2 16 5 16 1 15 1 14 3 13 0 14-2 12-1 13 3 12 7 11 0 12-2 10 0 11-4 10 9 10-7 15 16 14 0 14-7 13 10 12-4 12 0 12-6 12 9 11 8 11-11 10-4 10 17 14-15 12 1 13 6 12 3 11-4 11 3 11-5 11 14 10-12 10 0 12 0 12 1 12 8 11 2 11-7 10-14 10 10 12-11 12 5 11 3 11 8M5453 6917l17 3 16 2 15 2 15 1 14 3 14 2 13 4 13 4 12 2 12-1 12 1 11 1 11 6 11 1 10-1 10-1 19 6 19 6 17 5 17-2 16 1 15 7 15-1 14-2 14 10 13-1 13 3 12 2 12 2 12 2 11 0 11 8 11 0 10 1 10-3 14 5 15 6 13-4 13 0 13 9 12-6 12 10 11-13 11-2 11 11 11-16 10 17 13-8 13 13 12-1 12 2 12-10 11-3 11-1 10-6 11 14 10-3 12 0 12-19 11 10 11-1 11 4 11-2 10-12 12 10 11 2 11 0 11-4M5503 6972l17 4 16 4 15 4 15 3 14 3 14 3 13 2 13 4 12 3 12 5 11 2 12 4 11 3 10 4 10 3 11 4 19 4 18 4 18 5 16 6 16 3 16 7 15 2 14 5 13 2 14 5 12 1 13 1 12 3 11 3 12 1 10 4 11 1 10 1 10 3 15 0 14 4 14 0 13 2 12 0 12-1 12-1 12 4 11-3 11-1 10-2 10 3 14-1 12-3 13 1 12-3 11-1 11 2 11-4 11-1 10-2 10-1 13 0 11-5 12 2 11-2 11-5 10 0 10-4 12 0 12-5 11-1 11-1M5552 6973l17 5 16 3 15 4 15 3 14 2 14 1 13 2 13 4 12 5 12 1 12 3 11 2 11 4 11 1 10 2 10 2 19 6 19 1 17 5 17 1 16 8 15 4 15 3 14 7 14-3 13 1 13 5 12 1 12 3 12 4 11 6 11 3 11-8 10 5 10 5 15 7 14-6 13 7 13-5 13 2 12 0 12-3 11 0 11 3 11 1 11 8 10-9 13-3 13 3 12 1 12-1 12 0 11-1 11-5 11 7 10-6 10 0 12-5 12 3 11-5 11-3 11 0 11 6 10-1 12-5 11-1 11 11 11-20M5602 6950l17 2 16 0 15 3 15-1 14 1 14 1 13 2 13 1 12 0 12 2 11 2 12 4 11-1 10 2 11-1 10 0 19 0 18 8 18-2 16-3 17 5 15 5 15 0 14 0 14 8 13 3 12 0 13 3 12 0 11 1 12 4 11-1 10 3 10 1 10-6 15 4 14 9 14-3 13 2 12-15 12 16 12-3 12 0 11 7 11-6 10 4 10 1 14-6 12 10 13 1 12-10 11 8 12-7 10 9 11-6 10-2 10 1 13 4 11-3 12 5 11-2 11 7 10-12 10-4 12 9 12-9 11 22 11-11M5651 6940l17 0 16 2 15 1 15 1 14 0 14 0 13 0 13 0 12 1 12 0 12 1 11 0 11 0 11 0 10-1 10 1 19 1 19 0 17-1 17 4 16 1 15-2 15-1 14-3 14 2 13 2 13 4 12-1 12 3 12-1 11 2 11-5 11 3 10 2 10 3 15-4 14 2 13 11 13-6 13 3 12 2 12-8 11 5 11 0 11-2 11-1 10 5 13-1 13-2 12 1 12 5 12-4 11 12 11-13 11 5 10-6 10 3 12 1 12 0 11-3 11 4 11-4 11-8 10 2 12 9 11 2 11-3 11 10M5701 6949l17 0 16 0 15 0 15 1 14-1 14-1 13 0 13 0 12 0 12-1 12 0 11 1 11 1 10 0 11-2 10 0 19 2 18-1 18 0 17-1 16 3 15 0 15-2 14-2 14 2 13-1 13 2 12-1 12-2 11 2 12-1 11 1 10 0 10 2 11 3 14-3 14-2 14 5 13-2 12-2 13 2 11 1 12-1 11 1 11 0 10-3 10 2 14-2 12 2 13 0 12 3 11-3 12 3 10-3 11 5 10-1 10-2 13 2 11 2 12-6 11 5 11 2 10-1 10-2 12-4 12 4 11-1 11-2M5750 6963l17 0 16 0 16-1 14 0 14-1 14 0 13 1 13-1 12 1 12 0 12 0 11 0 11-1 11 1 10 0 10-1 19-2 19 1 17 1 17 1 16-1 15 0 15-1 14-3 14 2 13 0 13-1 12-1 12 1 12 2 11 0 11 1 11 0 10-3 10 1 15 1 14 1 13-4 13 3 13-1 12-2 12 1 11-1 11 3 11 0 11-2 10 1 13-1 13 1 12-1 12-2 12-1 11 2 11 0 11-1 10 0 10-1 12 2 12 2 11-2 11 4 11-2 11-4 10 3 12 0 11-3 12 1 10-5" class="dk"/>
<path d="M4825 6907l9 2 9 2 9 2 9 2 9 2 8 2 9 2 9 3 9 2 9 2 9 3 9 3 8 2 9 3 9 3 9 3 9 3 9 3 8 3 9 3 9 3 9 3 9 3 9 3 9 3 8 3 9 3 9 3 9 3 9 3 9 3 9 3 8 3M5085 6919l9 1 9 1 9 1 9 1 8 0 9 1 9 1 9 1 9 2 9 1 9 2 8 2 9 2 9 2 9 3 9 2 9 3 9 2 8 3 9 3 9 3 9 3 9 3 9 3 9 2 8 3 9 3 9 3 9 3 9 4 9 3 9 3 8 3M5343 6948l9 1 9-1 9-1 8-1 9-2 9-1 9-2 9-1 9-1 9 0 8-1 9 1 9 0 9 1 9 1 9 2 9 2 8 2 9 2 9 2 9 2 9 3 9 3 9 2 8 3 9 3 9 3 9 3 9 3 9 2 8 3 9 3 9 3M5600 7002l8 2 9 0 9-2 9-4 9-4 9-6 9-5 8-6 9-5 9-5 9-5 9-3 9-3 9-2 8-2 9-1 9 0 9 0 9 1 9 1 9 1 8 2 9 2 9 2 9 2 9 3 9 2 8 3 9 2 9 3 9 3 9 3 9 3M5867 7077l8 2 9-3 9-5 9-8 9-9 9-11 8-12 9-11 9-11 9-11 9-9 9-8 9-6 8-6 9-5 9-3 9-3 9-1 9-1 9-1 8 1 9 0 9 1 9 2 9 1 9 2 9 2 8 3 9 2 9 2 9 3 9 3 9 3M6107 7107l8 1 9-3 9-7 9-10 9-11 9-14 9-14 8-14 9-13 9-12 9-12 9-9 9-9 9-7 8-6 9-4 9-4 9-2 9-2 9-1 9 0 8 0 9 1 9 1 9 1 9 2 9 2 8 2 9 2 9 3 9 2 9 3 9 3M6256 7082l9 1 8-2 9-6 9-8 9-11 9-12 9-12 9-12 8-12 9-11 9-10 9-8 9-8 9-6 8-5 9-4 9-3 9-2 9-1 9 0 9 0 8 0 9 1 9 1 9 2 9 2 9 2 9 2 8 2 9 3 9 2 9 3 9 3" class="bl"/>
<path d="M4081 6374h176" class="bl" style="stroke-width:20"/>
<text x="4270" y="6401" class="lg">2-state fit</text>
<path d="M6012 8215l10 6 11 6 11 6 11 7 10 8 11 9 11 10 11 12 10 13 11 14 11 16 10 18 11 19 11 20 11 21 10 21 11 19 11 18 11 15 10 10 11 6 11 1 11-4 10-7 11-11 11-14 10-14 11-14 11-14 11-13 10-11 11-9 11-8 11-7 10-5 11-4 11-2 10-2 11 0 11 0 11 0 10 1 11 2 11 1 11 3 10 2 11 2 11 3 11 3" class="rd"/><path d="M6012 8199l10 0 11 0 11-1 11-2 10-2 11-3 11-4 11-5 10-5 11-5 11-6 10-7 11-6 11-7 11-6 10-5 11-4 11-2 11-1 10 0 11 3 11 5 11 6 10 7 11 9 11 10 10 10 11 11 11 11 11 11 10 10 11 10 11 9 11 9 10 9 11 8 11 7 10 7 11 6 11 6 11 6 10 5 11 6 11 4 11 5 10 4 11 5 11 4 11 4" class="bl"/><path d="M5865 8219l11 6 11 6 10 7 11 7 11 9 11 9 10 11 11 13 11 13 11 16 10 17 11 20 11 20 10 22 11 23 11 23 11 21 10 19 11 16 11 11 11 6 10 1 11-4 11-9 11-13 10-14 11-16 11-17 10-15 11-15 11-12 11-11 10-10 11-7 11-6 11-4 10-3 11-3 11-1 10 0 11 0 11 1 11 1 10 2 11 2 11 2 11 3 10 2 11 3" class="rd"/><path d="M5865 8200l11-1 11-2 10-3 11-4 11-4 11-6 10-8 11-8 11-10 11-11 10-13 11-13 11-13 10-14 11-13 11-12 11-10 10-7 11-4 11 0 11 4 10 7 11 11 11 13 11 15 10 17 11 18 11 17 10 18 11 17 11 16 11 14 10 14 11 13 11 11 11 10 10 10 11 8 11 8 10 7 11 7 11 6 11 5 10 5 11 5 11 5 11 4 10 4 11 4" class="bl"/><path d="M5629 8222l11 6 11 5 10 7 11 7 11 7 11 9 10 10 11 11 11 12 11 14 10 15 11 17 11 18 11 20 10 20 11 20 11 18 10 17 11 14 11 10 11 6 10 1 11-3 11-7 11-11 10-12 11-13 11-13 11-13 10-12 11-11 11-9 10-7 11-6 11-4 11-4 10-2 11-1 11-1 11 0 10 1 11 1 11 2 11 2 10 2 11 2 11 3 10 2 11 3" class="rd"/><path d="M5629 8207l11-2 11-2 10-4 11-5 11-7 11-9 10-11 11-14 11-17 11-19 10-22 11-25 11-26 11-28 10-28 11-25 11-23 10-17 11-10 11-2 11 6 10 13 11 21 11 25 11 30 10 31 11 31 11 31 11 28 10 27 11 24 11 21 10 19 11 16 11 15 11 12 10 11 11 10 11 9 11 7 10 7 11 6 11 6 11 5 10 5 11 4 11 4 10 4 11 4" class="bl"/><path d="M5367 8224l11 5 10 4 11 6 11 5 11 6 10 6 11 8 11 8 11 8 10 10 11 10 11 12 11 12 10 13 11 13 11 14 10 12 11 12 11 9 11 8 10 4 11 2 11 0 11-3 10-5 11-6 11-7 11-7 10-6 11-6 11-5 10-4 11-3 11-3 11-1 10-1 11 0 11 1 11 1 10 1 11 2 11 2 10 2 11 3 11 2 11 3 10 3 11 3 11 3" class="rd"/><path d="M5367 8208l11-3 10-3 11-6 11-7 11-9 10-11 11-14 11-18 11-21 10-24 11-27 11-31 11-33 10-34 11-35 11-32 10-27 11-21 11-13 11-3 10 7 11 16 11 25 11 31 10 36 11 37 11 38 11 37 10 35 11 32 11 29 10 25 11 22 11 20 11 17 10 14 11 13 11 11 11 10 10 8 11 8 11 7 10 6 11 5 11 5 11 5 10 5 11 4 11 4" class="bl"/><path d="M5115 8228l11 4 10 4 11 5 11 5 11 5 10 6 11 6 11 6 11 7 10 8 11 8 11 8 10 8 11 9 11 8 11 8 10 7 11 6 11 5 11 3 10 2 11 0 11-1 11-1 10-2 11-2 11-2 10-2 11-1 11-1 11-1 10 0 11 1 11 1 11 1 10 2 11 2 11 2 10 3 11 2 11 3 11 3 10 3 11 3 11 3 11 3 10 3 11 3 11 3" class="rd"/><path d="M5115 8211l11-2 10-4 11-6 11-8 11-9 10-13 11-15 11-18 11-22 10-26 11-29 11-33 10-35 11-36 11-37 11-33 10-30 11-22 11-14 11-3 10 7 11 18 11 26 11 33 10 37 11 40 11 40 10 39 11 36 11 34 11 30 10 27 11 23 11 20 11 18 10 15 11 14 11 11 10 10 11 9 11 8 11 7 10 6 11 6 11 5 11 5 10 4 11 5 11 4" class="bl"/><path d="M4862 8232l10 4 11 4 11 4 11 4 10 5 11 5 11 5 10 5 11 6 11 5 11 6 10 6 11 6 11 6 11 5 10 5 11 4 11 4 10 3 11 2 11 1 11 1 10 1 11 0 11 1 11 0 10 1 11 1 11 1 11 2 10 2 11 2 11 2 10 3 11 2 11 3 11 3 10 2 11 3 11 3 11 3 10 3 11 4 11 3 11 3 10 3 11 3 11 3 10 4" class="rd"/><path d="M4862 8216l10-3 11-4 11-6 11-7 10-10 11-13 11-15 10-19 11-23 11-26 11-29 10-33 11-36 11-37 11-37 10-34 11-30 11-22 10-14 11-4 11 8 11 17 10 27 11 33 11 38 11 40 10 41 11 39 11 37 11 34 10 31 11 27 11 24 10 20 11 18 11 16 11 13 10 12 11 10 11 9 11 8 10 7 11 6 11 6 11 5 10 5 11 4 11 5 10 4" class="bl"/><path d="M4606 8236l11 4 11 4 10 3 11 4 11 5 11 4 10 4 11 5 11 4 11 5 10 4 11 5 11 4 10 5 11 3 11 4 11 3 10 3 11 2 11 2 11 2 10 2 11 2 11 2 10 2 11 2 11 2 11 3 10 2 11 3 11 3 11 2 10 3 11 3 11 3 11 3 10 3 11 3 11 4 10 3 11 3 11 3 11 3 10 4 11 3 11 3 11 3 10 3 11 4" class="rd"/><path d="M4606 8221l11-3 11-4 10-6 11-8 11-9 11-13 10-16 11-19 11-22 11-26 10-30 11-33 11-36 10-37 11-37 11-34 11-30 10-23 11-14 11-3 11 7 10 18 11 26 11 34 10 38 11 40 11 41 11 40 10 37 11 34 11 30 11 28 10 23 11 21 11 18 11 16 10 13 11 12 11 10 10 9 11 8 11 7 11 6 10 6 11 5 11 5 11 5 10 4 11 4" class="bl"/>
<text transform="translate(31 236) scale(0.94 1)" class="pl">A</text>
<text transform="translate(3456 241) scale(0.9 1)" class="pl">B</text>
<text transform="translate(26 4870) scale(0.9 1)" class="pl">C</text>
<text transform="translate(3591 4867) scale(0.944 1)" class="pl">D</text>
</svg>
</body></html>
